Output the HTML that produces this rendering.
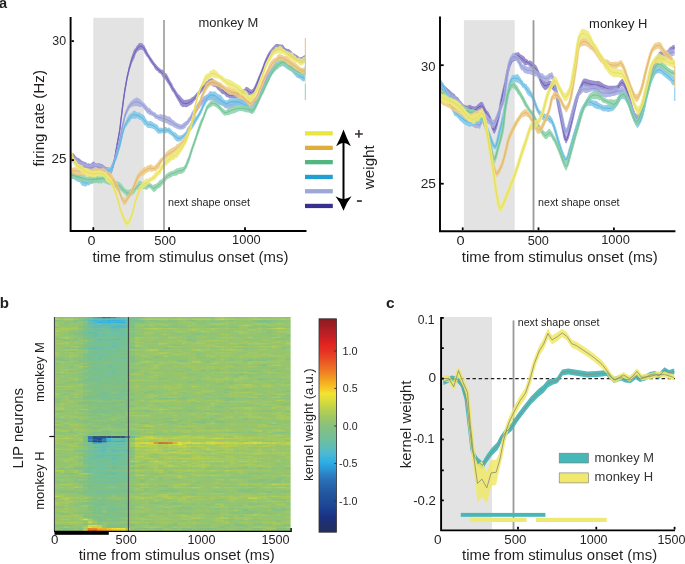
<!DOCTYPE html>
<html><head><meta charset="utf-8"><title>figure</title>
<style>html,body{margin:0;padding:0;background:#fff;width:685px;height:564px;overflow:hidden}svg{display:block;will-change:transform}text{font-family:"Liberation Sans",sans-serif}</style>
</head><body>
<svg width="685" height="564" viewBox="0 0 685 564" font-family="Liberation Sans, sans-serif" fill="#231f20">
<defs><linearGradient id="cb" x1="0" y1="0" x2="0" y2="1"><stop offset="0.000" stop-color="#8b1c22"/><stop offset="0.076" stop-color="#c01f25"/><stop offset="0.115" stop-color="#e0231f"/><stop offset="0.153" stop-color="#e63222"/><stop offset="0.198" stop-color="#ea5525"/><stop offset="0.243" stop-color="#ef7a22"/><stop offset="0.278" stop-color="#f29b20"/><stop offset="0.326" stop-color="#f7c825"/><stop offset="0.351" stop-color="#f2e431"/><stop offset="0.389" stop-color="#d6dc3c"/><stop offset="0.424" stop-color="#b8d04e"/><stop offset="0.462" stop-color="#9fc766"/><stop offset="0.500" stop-color="#88c27c"/><stop offset="0.528" stop-color="#7dc08a"/><stop offset="0.566" stop-color="#6fbf9e"/><stop offset="0.601" stop-color="#60bcb8"/><stop offset="0.639" stop-color="#46b8d6"/><stop offset="0.674" stop-color="#2aaee6"/><stop offset="0.712" stop-color="#2c8fd0"/><stop offset="0.747" stop-color="#2b74ba"/><stop offset="0.785" stop-color="#2764aa"/><stop offset="0.823" stop-color="#21559e"/><stop offset="0.858" stop-color="#1e4c98"/><stop offset="0.896" stop-color="#1c3e8f"/><stop offset="0.931" stop-color="#1b3180"/><stop offset="0.969" stop-color="#20306a"/><stop offset="1.000" stop-color="#242e60"/></linearGradient><clipPath id="clipAL"><rect x="71.5" y="10" width="234.5" height="220"/></clipPath><clipPath id="clipAR"><rect x="441" y="10" width="234.5" height="220"/></clipPath><clipPath id="clipC"><rect x="442" y="300" width="234" height="229.5"/></clipPath></defs>
<text x="-1" y="7.9" font-size="14.5" textLength="8.1" lengthAdjust="spacingAndGlyphs" font-weight="bold" >a</text>
<rect x="93.3" y="17.8" width="50.5" height="212.5" fill="#e3e3e3"/>
<g clip-path="url(#clipAL)">
<g opacity="0.88"><path d="M70.5,151.7 71.1,152.4 71.9,153.1 72.9,153.1 74,153.8 75.3,155.8 76.8,157.4 78.4,157.9 80,159.1 81.5,160.4 83.1,161.2 84.6,161.9 86,162.3 87.1,163.7 88.1,163.3 89,163.5 89.9,164.1 90.8,163.4 91.7,163 92.7,161.7 93.9,161.6 95.4,163.2 97.1,163.5 98.8,163.2 100.3,163.4 101.5,163.9 102.5,164.3 103.4,165.3 104.3,165.8 105.4,166.8 106.5,167.1 107.5,166.9 108.3,167.2 108.8,168.3 109,169.1 109.2,169.4 109.6,169.5 110.3,168.9 111.1,167.8 112,165.4 112.8,164.3 113.4,162.3 113.9,159.5 114.5,155.7 115,152.8 115.6,149.1 116.2,145.9 116.9,141.9 117.5,139.8 118.1,136.5 118.7,134.3 119.3,130.1 119.8,126.3 120.2,123.7 120.5,120.2 120.8,117.8 121.2,114.8 121.7,110.5 122.2,105.5 122.8,102 123.3,97.5 123.8,93.9 124.4,89.9 124.9,87.3 125.5,84 126,80.3 126.6,76.7 127.1,74.8 127.7,72.3 128.3,69 129,65.7 129.6,63.4 130.3,61 131,58.2 131.6,56.6 132.3,54.5 133,52 133.7,50.3 134.5,48.7 135.3,48.5 136,47.2 136.7,46.1 137.3,45 138,44.8 138.6,43.3 139.2,42.9 139.8,43.2 140.4,43 141,43.3 141.6,43.1 142.1,43.6 142.6,43.5 143.2,44.4 143.7,45.1 144.2,45.2 144.7,46.1 145.5,48 146.6,49.7 148,52.9 149.4,55 150.8,57.3 152.1,59.1 153.5,61.2 154.8,63 156.1,64.4 157.4,66.1 158.8,67.4 160.1,68.6 161.4,69.8 162.7,69.6 164,71.3 165.4,72.9 166.7,73.8 168,76.3 169.4,79.1 170.7,81.4 172.1,83.6 173.5,86.9 175,89 176.4,91.3 177.8,93.4 179.1,94.7 180.4,95.9 181.7,97.8 183,98.9 184.3,100.1 185.5,99.7 186.7,99.7 188,99.6 189.3,99 190.7,98.4 192.1,97.1 193.5,96.6 194.8,94.9 196.1,93.3 197.4,92.3 198.7,90.4 200,88 201.3,86.2 202.6,84.7 204,83.7 205.5,81.4 207.2,80.9 208.8,79.1 210,78.5 210.7,78.7 211.1,78.8 211.4,77.5 212.1,78.6 213.2,78.6 214.5,80.4 216,81.7 217.4,82 218.7,82.8 220.1,83.8 221.4,85.1 222.7,86 224,88.2 225.3,89.7 226.7,90.3 228,92 229.3,92.1 230.6,92.2 232,91.9 233.3,92.1 234.6,92.1 236,92.3 237.4,91.9 238.7,91.4 240.1,89.9 241.5,89.7 242.8,89.4 244,89.3 244.8,88.5 245.5,87.3 246.1,86.7 247,87 248.3,87.4 249.7,88.8 251.3,89.8 253,88.8 254.7,85.6 256.5,81.6 258.4,76.5 260.2,72.8 262,68 263.8,62.7 265.5,58.7 267.3,54.7 269.1,51.5 270.9,49.3 272.6,47.2 274.3,45.4 276,43.8 277.6,44 279.2,44.2 280.6,44.4 281.8,44.7 282.9,44.4 283.9,46.2 285,47.7 286.3,48.5 287.6,49.1 289,49 290.3,50.2 291.6,51.5 292.9,52.9 294.3,53.5 295.6,54.6 297,55.3 298.4,56.2 299.7,57.4 301,57.2 302.2,56.7 303.3,56.1 304.3,55.3 305,55.3 305,61 304.3,61.8 303.3,63 302.2,63.5 301,63.8 299.7,62.5 298.4,62.6 297,61.7 295.6,61 294.3,60 292.9,58.7 291.6,58.6 290.3,57.4 289,56.5 287.6,54.5 286.3,53.6 285,52.1 283.9,51.6 282.9,51.8 281.8,50 280.6,49.8 279.2,50.1 277.6,50.3 276,51.8 274.3,52.4 272.6,53.8 270.9,55.3 269.1,57.8 267.3,60.5 265.5,64.2 263.8,69.5 262,73.5 260.2,77.8 258.4,83.4 256.5,88 254.7,92.5 253,95.3 251.3,95.8 249.7,95.6 248.3,95.2 247,93.9 246.1,93.4 245.5,93.5 244.8,94.1 244,94.2 242.8,95.2 241.5,96.2 240.1,97.7 238.7,97.4 237.4,98.1 236,98.2 234.6,98.5 233.3,98.4 232,98.4 230.6,98.2 229.3,98.2 228,97.3 226.7,97.2 225.3,95.7 224,94.2 222.7,94.3 221.4,93.4 220.1,91.8 218.7,90.6 217.4,89.4 216,87.5 214.5,86.8 213.2,86.8 212.1,85.4 211.4,85.6 211.1,84.5 210.7,84.9 210,85.3 208.8,86.4 207.2,86.5 205.5,88.4 204,89.3 202.6,91.2 201.3,92.4 200,94.5 198.7,95.6 197.4,97.3 196.1,99.2 194.8,100.6 193.5,102.3 192.1,104.1 190.7,104.9 189.3,105.8 188,106.5 186.7,107.2 185.5,107.3 184.3,106.7 183,107.3 181.7,106.4 180.4,105.2 179.1,102.5 177.8,100.5 176.4,97.9 175,95.4 173.5,92.5 172.1,91.2 170.7,88.5 169.4,86 168,83.7 166.7,81.9 165.4,79.6 164,78.3 162.7,77.4 161.4,74.8 160.1,73.6 158.8,72.9 157.4,71 156.1,70.6 154.8,68.7 153.5,66.2 152.1,64.6 150.8,62.7 149.4,60.5 148,58 146.6,56.6 145.5,54.7 144.7,53.6 144.2,52.5 143.7,51.1 143.2,50.6 142.6,50.4 142.1,49.6 141.6,49.8 141,49.5 140.4,49.8 139.8,49.9 139.2,49.9 138.6,51 138,50.9 137.3,51.5 136.7,52.8 136,53.5 135.3,55.4 134.5,57.9 133.7,59.5 133,60.9 132.3,62.2 131.6,64 131,66.5 130.3,68.6 129.6,70.5 129,73 128.3,75.7 127.7,77.8 127.1,80.7 126.6,84.2 126,86.9 125.5,89.2 124.9,92.7 124.4,97.4 123.8,101.1 123.3,104.8 122.8,108.3 122.2,113.5 121.7,117.6 121.2,120.8 120.8,124.6 120.5,127.4 120.2,130 119.8,132.7 119.3,135.5 118.7,138.1 118.1,142.6 117.5,145.9 116.9,150.6 116.2,154.4 115.6,158.4 115,161.2 114.5,164 113.9,165.5 113.4,167.6 112.8,169.9 112,172.9 111.1,173.8 110.3,174.7 109.6,175.6 109.2,175.7 109,175.6 108.8,174.6 108.3,174.9 107.5,174.8 106.5,174 105.4,172.9 104.3,172.9 103.4,171.9 102.5,171 101.5,170.5 100.3,171 98.8,170.2 97.1,169.3 95.4,169.4 93.9,170 92.7,170.9 91.7,170.6 90.8,171.2 89.9,171.6 89,172.2 88.1,171.6 87.1,170.5 86,170.7 84.6,169.8 83.1,168.5 81.5,167.2 80,166.7 78.4,165.7 76.8,163.7 75.3,162.8 74,162.1 72.9,160.9 71.9,159.5 71.1,159 70.5,158.2Z" fill="#8c81c8"/><path d="M70.5,154.9 71.1,155.7 71.9,156.3 72.9,157 74,158 75.3,159.3 76.8,160.6 78.4,161.8 80,162.9 81.5,163.8 83.1,164.9 84.6,165.9 86,166.5 87.1,167.1 88.1,167.4 89,167.9 89.9,167.8 90.8,167.3 91.7,166.8 92.7,166.3 93.9,165.8 95.4,166.3 97.1,166.4 98.8,166.7 100.3,167.2 101.5,167.2 102.5,167.7 103.4,168.6 104.3,169.4 105.4,169.8 106.5,170.5 107.5,170.8 108.3,171 108.8,171.5 109,172.4 109.2,172.6 109.6,172.5 110.3,171.8 111.1,170.8 112,169.2 112.8,167.1 113.4,164.9 113.9,162.5 114.5,159.8 115,157 115.6,153.8 116.2,150.1 116.9,146.3 117.5,142.8 118.1,139.6 118.7,136.2 119.3,132.8 119.8,129.5 120.2,126.8 120.5,123.8 120.8,121.2 121.2,117.8 121.7,114.1 122.2,109.5 122.8,105.2 123.3,101.1 123.8,97.5 124.4,93.6 124.9,90 125.5,86.6 126,83.6 126.6,80.5 127.1,77.7 127.7,75 128.3,72.4 129,69.3 129.6,66.9 130.3,64.8 131,62.4 131.6,60.3 132.3,58.3 133,56.5 133.7,54.9 134.5,53.3 135.3,52 136,50.3 136.7,49.4 137.3,48.2 138,47.9 138.6,47.2 139.2,46.4 139.8,46.5 140.4,46.4 141,46.4 141.6,46.4 142.1,46.6 142.6,46.9 143.2,47.5 143.7,48.1 144.2,48.8 144.7,49.9 145.5,51.3 146.6,53.2 148,55.5 149.4,57.7 150.8,60 152.1,61.9 153.5,63.7 154.8,65.8 156.1,67.5 157.4,68.5 158.8,70.2 160.1,71.1 161.4,72.3 162.7,73.5 164,74.8 165.4,76.2 166.7,77.8 168,80 169.4,82.6 170.7,85 172.1,87.4 173.5,89.7 175,92.2 176.4,94.6 177.8,97 179.1,98.6 180.4,100.5 181.7,102.1 183,103.1 184.3,103.4 185.5,103.5 186.7,103.5 188,103.1 189.3,102.4 190.7,101.6 192.1,100.6 193.5,99.4 194.8,97.7 196.1,96.2 197.4,94.8 198.7,93 200,91.3 201.3,89.3 202.6,87.9 204,86.5 205.5,84.9 207.2,83.7 208.8,82.7 210,81.9 210.7,81.8 211.1,81.7 211.4,81.6 212.1,82 213.2,82.7 214.5,83.6 216,84.6 217.4,85.7 218.7,86.7 220.1,87.8 221.4,89.3 222.7,90.1 224,91.2 225.3,92.7 226.7,93.7 228,94.6 229.3,95.1 230.6,95.2 232,95.1 233.3,95.2 234.6,95.3 236,95.3 237.4,95 238.7,94.4 240.1,93.8 241.5,93 242.8,92.3 244,91.7 244.8,91.3 245.5,90.4 246.1,90.1 247,90.4 248.3,91.3 249.7,92.2 251.3,92.8 253,92 254.7,89.1 256.5,84.8 258.4,80 260.2,75.3 262,70.7 263.8,66.1 265.5,61.4 267.3,57.6 269.1,54.6 270.9,52.3 272.6,50.5 274.3,48.9 276,47.8 277.6,47.2 279.2,47.1 280.6,47.1 281.8,47.4 282.9,48.1 283.9,48.9 285,49.9 286.3,51 287.6,51.8 289,52.7 290.3,53.8 291.6,55.1 292.9,55.8 294.3,56.8 295.6,57.8 297,58.5 298.4,59.4 299.7,60 301,60.5 302.2,60.1 303.3,59.5 304.3,58.6 305,58.1" fill="none" stroke="#8c81c8" stroke-width="1.5" stroke-linejoin="round"/></g>
<path d="M70.5,154.9 71.1,155.7 71.9,156.3 72.9,157 74,158 75.3,159.3 76.8,160.6 78.4,161.8 80,162.9 81.5,163.8 83.1,164.9 84.6,165.9 86,166.5 87.1,167.1 88.1,167.4 89,167.9 89.9,167.8 90.8,167.3 91.7,166.8 92.7,166.3 93.9,165.8 95.4,166.3 97.1,166.4 98.8,166.7 100.3,167.2 101.5,167.2 102.5,167.7 103.4,168.6 104.3,169.4 105.4,169.8 106.5,170.5 107.5,170.8 108.3,171 108.8,171.5 109,172.4 109.2,172.6 109.6,172.5 110.3,171.8 111.1,170.8 112,169.2 112.8,167.1 113.4,164.9 113.9,162.5 114.5,159.8 115,157 115.6,153.8 116.2,150.1 116.9,146.3 117.5,142.8 118.1,139.6 118.7,136.2 119.3,132.8 119.8,129.5 120.2,126.8 120.5,123.8 120.8,121.2 121.2,117.8 121.7,114.1 122.2,109.5 122.8,105.2 123.3,101.1 123.8,97.5 124.4,93.6 124.9,90 125.5,86.6 126,83.6 126.6,80.5 127.1,77.7 127.7,75 128.3,72.4 129,69.3 129.6,66.9 130.3,64.8 131,62.4 131.6,60.3 132.3,58.3 133,56.5 133.7,54.9 134.5,53.3 135.3,52 136,50.3 136.7,49.4 137.3,48.2 138,47.9 138.6,47.2 139.2,46.4 139.8,46.5 140.4,46.4 141,46.4 141.6,46.4 142.1,46.6 142.6,46.9 143.2,47.5 143.7,48.1 144.2,48.8 144.7,49.9 145.5,51.3 146.6,53.2 148,55.5 149.4,57.7 150.8,60 152.1,61.9 153.5,63.7 154.8,65.8 156.1,67.5 157.4,68.5 158.8,70.2 160.1,71.1 161.4,72.3 162.7,73.5 164,74.8 165.4,76.2 166.7,77.8 168,80 169.4,82.6 170.7,85 172.1,87.4 173.5,89.7 175,92.2 176.4,94.6 177.8,97 179.1,98.6 180.4,100.5 181.7,102.1 183,103.1 184.3,103.4 185.5,103.5 186.7,103.5 188,103.1 189.3,102.4 190.7,101.6 192.1,100.6 193.5,99.4 194.8,97.7 196.1,96.2 197.4,94.8 198.7,93 200,91.3 201.3,89.3 202.6,87.9 204,86.5 205.5,84.9 207.2,83.7 208.8,82.7 210,81.9 210.7,81.8 211.1,81.7 211.4,81.6 212.1,82 213.2,82.7 214.5,83.6 216,84.6 217.4,85.7 218.7,86.7 220.1,87.8 221.4,89.3 222.7,90.1 224,91.2 225.3,92.7 226.7,93.7 228,94.6 229.3,95.1 230.6,95.2 232,95.1 233.3,95.2 234.6,95.3 236,95.3 237.4,95 238.7,94.4 240.1,93.8 241.5,93 242.8,92.3 244,91.7 244.8,91.3 245.5,90.4 246.1,90.1 247,90.4 248.3,91.3 249.7,92.2 251.3,92.8 253,92 254.7,89.1 256.5,84.8 258.4,80 260.2,75.3 262,70.7 263.8,66.1 265.5,61.4 267.3,57.6 269.1,54.6 270.9,52.3 272.6,50.5 274.3,48.9 276,47.8 277.6,47.2 279.2,47.1 280.6,47.1 281.8,47.4 282.9,48.1 283.9,48.9 285,49.9 286.3,51 287.6,51.8 289,52.7 290.3,53.8 291.6,55.1 292.9,55.8 294.3,56.8 295.6,57.8 297,58.5 298.4,59.4 299.7,60 301,60.5 302.2,60.1 303.3,59.5 304.3,58.6 305,58.1" fill="none" stroke="#6353b2" stroke-width="0.8"/>
<g opacity="0.88"><path d="M70.5,153.6 71.1,154.5 71.9,155.3 72.9,156.5 74,156.9 75.3,157.7 76.8,159.1 78.4,160.6 80,161.5 81.5,162.1 83.1,162.3 84.6,163.3 86,164.1 87.1,164 88.1,164.8 89,164.7 89.9,164.7 90.8,163.4 91.7,163.2 92.7,163.6 93.9,163 95.4,163.2 97.1,163.7 98.8,163.9 100.3,164.2 101.5,164.5 102.5,165.7 103.4,165.4 104.3,165.9 105.4,167.9 106.5,167 107.5,167 108.3,167.3 108.7,168.3 108.9,169.1 109.1,169 109.6,168.3 110.6,167 111.8,163.7 113.1,160.9 114.4,157.2 115.6,153 116.9,148.1 118.1,143.6 119.2,138.6 120.1,135.8 120.9,131.7 121.6,127.2 122.4,123.3 123.2,119.9 124,116.4 124.7,113.4 125.6,110.9 126.5,109 127.6,105.7 128.6,104.4 129.6,102.8 130.6,101.7 131.5,100.5 132.5,100.3 133.5,98.7 134.6,99 135.8,97.4 137.1,97.6 138.3,98.1 139.5,98.9 140.7,99.6 141.9,101.5 143.1,102.1 144.4,102.9 145.7,104.8 146.9,105.9 147.9,107.5 148.5,108.3 148.8,107.8 149.2,107.5 150,108.4 151.4,110 153.2,111.7 155.2,112.6 157.1,114.5 158.9,114.7 160.6,114.1 162.4,114.7 164.2,114.5 166,115.6 167.9,116.5 169.7,116.6 171.3,118.5 172.6,119.7 173.8,120.2 174.9,121.5 176,122.2 177.2,122.9 178.4,123.5 179.6,124 180.8,124.6 182,123.9 183.3,122.9 184.5,122.1 185.6,121.3 186.6,120.8 187.5,119.5 188.5,117.6 189.5,117.2 190.5,114.9 191.6,112.5 192.8,110.6 194.3,108.7 196.3,105.2 198.6,101.7 201,99.1 203.2,96.6 205.1,95.4 206.9,94.6 208.6,94.5 210.3,93.7 212.1,93.6 213.9,94.7 215.6,95.8 217.4,96.4 219.2,96.9 221.1,99 222.9,100.2 224.5,101.2 225.9,101.9 227.1,102.2 228.4,102.4 229.8,101.6 231.4,101.3 233.2,100.5 235.1,100.2 236.9,99.4 238.7,97.7 240.5,96.8 242.3,96.7 244,96.6 245.5,97 247,97.6 248.4,99.3 250,99.5 251.8,99.1 253.7,98.8 255.7,99.3 257.5,96.9 259.1,93.6 260.6,90.8 262.1,85.7 263.7,81.4 265.4,78 267.2,73.3 269,70.1 270.8,67.5 272.6,65.4 274.5,62.4 276.3,59.6 277.9,58.2 279.3,56.7 280.6,57.1 281.8,57.8 283.2,57.8 284.9,58.6 286.8,59.6 288.6,61.7 290.3,62.9 291.7,63.5 293,64.5 294.2,65.6 295.6,67.1 297.4,67.5 299.3,69 301.2,70.9 302.7,71.8 303.7,71.7 304.3,72.2 304.7,72.9 305,72.5 305,79.2 304.7,78.8 304.3,79.3 303.7,80.1 302.7,78.4 301.2,78 299.3,78 297.4,76.7 295.6,75.1 294.2,74.1 293,72.3 291.7,70.9 290.3,69.4 288.6,68 286.8,66.5 284.9,66.3 283.2,64.7 281.8,63.3 280.6,64.5 279.3,65.3 277.9,65.4 276.3,67 274.5,68.4 272.6,70.9 270.8,75.1 269,78.1 267.2,81.6 265.4,84.6 263.7,88.4 262.1,92.1 260.6,96.1 259.1,100.9 257.5,103.1 255.7,104.6 253.7,106.7 251.8,106.8 250,106.5 248.4,106.1 247,105.9 245.5,104.6 244,104.1 242.3,104.1 240.5,104.9 238.7,105.7 236.9,105.4 235.1,106.6 233.2,107.7 231.4,108.3 229.8,108.7 228.4,108.2 227.1,108.6 225.9,108.4 224.5,107.7 222.9,106.1 221.1,105.2 219.2,104.5 217.4,103.6 215.6,102.5 213.9,101.4 212.1,100.3 210.3,100.4 208.6,100.3 206.9,101.7 205.1,102.2 203.2,104.3 201,105.9 198.6,109.8 196.3,112.3 194.3,115.3 192.8,117.3 191.6,119.7 190.5,120.9 189.5,122.7 188.5,124.3 187.5,125.2 186.6,125.7 185.6,127.8 184.5,128.5 183.3,129.3 182,129.8 180.8,129.6 179.6,129.8 178.4,129.3 177.2,128.7 176,128.4 174.9,127.6 173.8,127.5 172.6,126.3 171.3,125.7 169.7,125.4 167.9,123.9 166,123.1 164.2,122.5 162.4,122.1 160.6,121.1 158.9,120.4 157.1,118.9 155.2,118.7 153.2,116.3 151.4,115.6 150,115 149.2,115 148.8,114.2 148.5,113.8 147.9,113.9 146.9,113 145.7,111.3 144.4,109.8 143.1,108.2 141.9,106.7 140.7,107 139.5,106.9 138.3,106.6 137.1,106.1 135.8,106.5 134.6,105.7 133.5,106.6 132.5,106.5 131.5,107.3 130.6,107.8 129.6,108.6 128.6,110.6 127.6,112.7 126.5,114.4 125.6,117.1 124.7,120 124,123.2 123.2,126.6 122.4,130 121.6,133.4 120.9,137.2 120.1,141.2 119.2,146.5 118.1,150.9 116.9,155.9 115.6,159.5 114.4,163.1 113.1,166.5 111.8,170 110.6,172.1 109.6,174.6 109.1,175.5 108.9,175.2 108.7,175.3 108.3,175.2 107.5,175.2 106.5,174.5 105.4,173.4 104.3,173.9 103.4,173.3 102.5,171.9 101.5,171.5 100.3,170.9 98.8,170.6 97.1,170.3 95.4,170.7 93.9,171.1 92.7,170.6 91.7,171.7 90.8,172.2 89.9,171.4 89,171.3 88.1,171.3 87.1,171.9 86,171.7 84.6,171.5 83.1,170.9 81.5,169.6 80,168.3 78.4,167.1 76.8,166.5 75.3,164.6 74,163.9 72.9,162.6 71.9,162.5 71.1,161 70.5,160.3Z" fill="#a8aee0"/><path d="M70.5,156.9 71.1,157.7 71.9,158.9 72.9,159.5 74,160.4 75.3,161.2 76.8,162.8 78.4,163.9 80,164.9 81.5,165.8 83.1,166.6 84.6,167.4 86,167.9 87.1,168 88.1,168 89,168 89.9,168 90.8,167.8 91.7,167.5 92.7,167.1 93.9,167.1 95.4,167 97.1,167 98.8,167.3 100.3,167.6 101.5,168 102.5,168.8 103.4,169.3 104.3,169.9 105.4,170.6 106.5,170.8 107.5,171.1 108.3,171.2 108.7,171.8 108.9,172.2 109.1,172.3 109.6,171.4 110.6,169.5 111.8,166.8 113.1,163.7 114.4,160.1 115.6,156.2 116.9,152 118.1,147.2 119.2,142.5 120.1,138.5 120.9,134.4 121.6,130.3 122.4,126.7 123.2,123.3 124,119.8 124.7,116.7 125.6,114 126.5,111.7 127.6,109.2 128.6,107.5 129.6,105.7 130.6,104.8 131.5,103.9 132.5,103.4 133.5,102.7 134.6,102.3 135.8,101.9 137.1,101.9 138.3,102.3 139.5,102.9 140.7,103.3 141.9,104.1 143.1,105.1 144.4,106.4 145.7,108.1 146.9,109.5 147.9,110.7 148.5,111 148.8,111 149.2,111.3 150,111.7 151.4,112.8 153.2,114 155.2,115.6 157.1,116.7 158.9,117.6 160.6,117.6 162.4,118.4 164.2,118.5 166,119.3 167.9,120.2 169.7,121 171.3,122.1 172.6,123 173.8,123.9 174.9,124.5 176,125.3 177.2,125.8 178.4,126.4 179.6,126.9 180.8,127.1 182,126.9 183.3,126.1 184.5,125.3 185.6,124.6 186.6,123.2 187.5,122.3 188.5,121 189.5,119.9 190.5,117.9 191.6,116.1 192.8,113.9 194.3,112 196.3,108.7 198.6,105.8 201,102.5 203.2,100.4 205.1,98.8 206.9,98.2 208.6,97.4 210.3,97.1 212.1,96.9 213.9,98.1 215.6,99.1 217.4,100 219.2,100.7 221.1,102.1 222.9,103.1 224.5,104.5 225.9,105.1 227.1,105.4 228.4,105.3 229.8,105.2 231.4,104.8 233.2,104.1 235.1,103.4 236.9,102.4 238.7,101.7 240.5,100.9 242.3,100.4 244,100.4 245.5,100.8 247,101.8 248.4,102.7 250,103 251.8,103 253.7,102.7 255.7,101.9 257.5,100 259.1,97.2 260.6,93.5 262.1,88.9 263.7,84.9 265.4,81.3 267.2,77.5 269,74.1 270.8,71.3 272.6,68.2 274.5,65.4 276.3,63.3 277.9,61.8 279.3,61 280.6,60.8 281.8,60.6 283.2,61.3 284.9,62.4 286.8,63.1 288.6,64.9 290.3,66.2 291.7,67.2 293,68.4 294.2,69.8 295.6,71.1 297.4,72.1 299.3,73.5 301.2,74.4 302.7,75.1 303.7,75.9 304.3,75.8 304.7,75.8 305,75.8" fill="none" stroke="#a8aee0" stroke-width="1.5" stroke-linejoin="round"/></g>
<path d="M70.5,156.9 71.1,157.7 71.9,158.9 72.9,159.5 74,160.4 75.3,161.2 76.8,162.8 78.4,163.9 80,164.9 81.5,165.8 83.1,166.6 84.6,167.4 86,167.9 87.1,168 88.1,168 89,168 89.9,168 90.8,167.8 91.7,167.5 92.7,167.1 93.9,167.1 95.4,167 97.1,167 98.8,167.3 100.3,167.6 101.5,168 102.5,168.8 103.4,169.3 104.3,169.9 105.4,170.6 106.5,170.8 107.5,171.1 108.3,171.2 108.7,171.8 108.9,172.2 109.1,172.3 109.6,171.4 110.6,169.5 111.8,166.8 113.1,163.7 114.4,160.1 115.6,156.2 116.9,152 118.1,147.2 119.2,142.5 120.1,138.5 120.9,134.4 121.6,130.3 122.4,126.7 123.2,123.3 124,119.8 124.7,116.7 125.6,114 126.5,111.7 127.6,109.2 128.6,107.5 129.6,105.7 130.6,104.8 131.5,103.9 132.5,103.4 133.5,102.7 134.6,102.3 135.8,101.9 137.1,101.9 138.3,102.3 139.5,102.9 140.7,103.3 141.9,104.1 143.1,105.1 144.4,106.4 145.7,108.1 146.9,109.5 147.9,110.7 148.5,111 148.8,111 149.2,111.3 150,111.7 151.4,112.8 153.2,114 155.2,115.6 157.1,116.7 158.9,117.6 160.6,117.6 162.4,118.4 164.2,118.5 166,119.3 167.9,120.2 169.7,121 171.3,122.1 172.6,123 173.8,123.9 174.9,124.5 176,125.3 177.2,125.8 178.4,126.4 179.6,126.9 180.8,127.1 182,126.9 183.3,126.1 184.5,125.3 185.6,124.6 186.6,123.2 187.5,122.3 188.5,121 189.5,119.9 190.5,117.9 191.6,116.1 192.8,113.9 194.3,112 196.3,108.7 198.6,105.8 201,102.5 203.2,100.4 205.1,98.8 206.9,98.2 208.6,97.4 210.3,97.1 212.1,96.9 213.9,98.1 215.6,99.1 217.4,100 219.2,100.7 221.1,102.1 222.9,103.1 224.5,104.5 225.9,105.1 227.1,105.4 228.4,105.3 229.8,105.2 231.4,104.8 233.2,104.1 235.1,103.4 236.9,102.4 238.7,101.7 240.5,100.9 242.3,100.4 244,100.4 245.5,100.8 247,101.8 248.4,102.7 250,103 251.8,103 253.7,102.7 255.7,101.9 257.5,100 259.1,97.2 260.6,93.5 262.1,88.9 263.7,84.9 265.4,81.3 267.2,77.5 269,74.1 270.8,71.3 272.6,68.2 274.5,65.4 276.3,63.3 277.9,61.8 279.3,61 280.6,60.8 281.8,60.6 283.2,61.3 284.9,62.4 286.8,63.1 288.6,64.9 290.3,66.2 291.7,67.2 293,68.4 294.2,69.8 295.6,71.1 297.4,72.1 299.3,73.5 301.2,74.4 302.7,75.1 303.7,75.9 304.3,75.8 304.7,75.8 305,75.8" fill="none" stroke="#8a91d2" stroke-width="0.8"/>
<g opacity="0.88"><path d="M70.5,173 70.9,173.9 71.6,172.8 72.3,173.5 73.2,173.4 74.3,173.3 75.5,173.6 76.8,174.1 78,174.9 79.2,175.8 80.5,176.4 81.7,177 82.8,177.5 83.8,179.1 84.8,178.7 85.7,179.2 86.7,180.3 87.7,180.2 88.7,179.2 89.8,179 90.7,179.2 91.5,178.8 92.2,177.2 92.9,177 93.9,176.9 95.3,176.2 97,175.8 98.6,175.5 100.1,175 101.2,173.7 102.2,172.6 103.1,172.2 104,171.6 104.9,171.1 105.7,169.5 106.6,169 107.5,167.1 108.5,167.7 109.5,167.3 110.5,166.9 111.5,166.1 112.4,164.8 113.2,163 114,160.7 114.7,159.3 115.3,157.1 115.9,156.3 116.4,153.2 117,151 117.7,149.1 118.4,146.4 119.2,143.6 120,139.9 120.9,136.7 121.9,132.5 122.9,128.1 124,124.7 125.1,122.1 126.4,119.5 127.6,116.7 128.8,114.9 130,113.4 131.2,113.3 132.3,112.2 133.5,110.6 134.7,110.8 135.9,111.4 137.1,112.6 138.3,112.5 139.5,112.2 140.7,113.4 141.9,114.3 143.1,114.6 144.3,115.6 145.6,118.3 146.8,120 147.9,120.9 148.7,121.6 149.3,121.1 149.9,120.7 150.8,121 152.2,121.8 154,123 155.7,124 157.1,124.4 158,125.4 158.5,126.4 159.1,128 160,127.6 161.4,127.7 163.1,127.9 164.8,126.9 166.4,126.9 167.7,128.2 168.9,127.3 170.1,128.2 171.2,129.5 172.3,130.7 173.2,131.8 174.2,132 175.2,132.6 176.2,133 177.1,134.1 178.1,135.3 179.2,135.5 180.4,135.4 181.6,134.9 182.8,134.5 184,132.9 185,132.4 186,131.3 186.9,128.4 188,127 189.2,125.6 190.6,123.8 192,121.3 193.5,118.9 195,116.9 196.6,115.7 198.3,113 199.9,110.1 201.6,106.2 203.4,102.4 205.1,98.2 206.7,95.2 208.1,93.4 209.4,91.6 210.7,91.1 212.1,91.8 213.7,91.4 215.5,91.4 217.3,93.5 219.1,94.6 220.9,95.1 222.8,98.1 224.7,99.8 226.2,100.4 227.3,99.9 228,99.9 228.8,98.9 230,98.3 231.9,98.7 234.1,98.1 236.6,97.7 238.9,98.8 241.2,99.5 243.6,100.2 245.8,102.4 247.7,102.3 249.1,104.1 250.2,105.9 251.1,106 252.2,106.5 253.4,106.6 254.7,103.7 256.1,101.3 257.5,99.2 259,96.3 260.5,92.7 262.1,88.7 263.7,85.4 265.4,81.8 267.2,77.5 269,73.8 270.8,69.9 272.6,67 274.5,64.3 276.3,61.9 277.9,60.2 279.3,59.4 280.6,59.8 281.8,60.1 283.2,59.5 284.9,60.6 286.8,61.8 288.6,62.9 290.3,64.3 291.7,65.7 293,66.9 294.2,68.4 295.6,69.4 297.4,70.5 299.3,72.2 301.2,73.4 302.7,73.5 303.7,74.3 304.3,75.4 304.7,75.2 305,74.5 305,81.6 304.7,81.1 304.3,80.9 303.7,81.2 302.7,81.5 301.2,79.9 299.3,78.6 297.4,77.9 295.6,76.2 294.2,74.5 293,73.3 291.7,72.1 290.3,70.7 288.6,70.1 286.8,69.1 284.9,67.3 283.2,66.5 281.8,65.2 280.6,65.7 279.3,66.6 277.9,67.2 276.3,69 274.5,71.4 272.6,74.2 270.8,77.3 269,80.4 267.2,83.9 265.4,87.2 263.7,90.9 262.1,94.4 260.5,97.9 259,101.7 257.5,105.3 256.1,107.8 254.7,110.2 253.4,111.3 252.2,113.2 251.1,113.9 250.2,112.4 249.1,111.6 247.7,110.5 245.8,108 243.6,108.8 241.2,106.6 238.9,105.5 236.6,106.3 234.1,105.5 231.9,104.3 230,105.3 228.8,106.2 228,106.6 227.3,107.3 226.2,107.5 224.7,105.7 222.8,105.9 220.9,104.9 219.1,103.7 217.3,101.9 215.5,100.8 213.7,98.6 212.1,98.2 210.7,99.1 209.4,99.6 208.1,100.6 206.7,102.5 205.1,105.5 203.4,108.4 201.6,113.3 199.9,115.9 198.3,119.2 196.6,121.5 195,124.7 193.5,127 192,129.2 190.6,130.7 189.2,132.9 188,134.1 186.9,135.8 186,135.4 185,136.9 184,138.8 182.8,138.8 181.6,140.4 180.4,141 179.2,141.6 178.1,141.4 177.1,141.8 176.2,141.1 175.2,139.9 174.2,138.8 173.2,137.6 172.3,135.9 171.2,135.5 170.1,134.4 168.9,133.9 167.7,132.5 166.4,133.2 164.8,133.4 163.1,133 161.4,133.3 160,133.8 159.1,133.2 158.5,133.9 158,133.6 157.1,132.5 155.7,131 154,129.2 152.2,128.6 150.8,128.3 149.9,128.1 149.3,128 148.7,127.8 147.9,128.2 146.8,126.9 145.6,125.5 144.3,125.2 143.1,122.8 141.9,121.3 140.7,119.9 139.5,119.7 138.3,119 137.1,118.1 135.9,118.7 134.7,118.7 133.5,118.8 132.3,118.8 131.2,119.2 130,121.7 128.8,122.7 127.6,124.7 126.4,126.5 125.1,128.4 124,131.8 122.9,135.7 121.9,140.2 120.9,145 120,148.8 119.2,151 118.4,153.8 117.7,155.6 117,158.7 116.4,160.3 115.9,160 115.3,161.8 114.7,163.2 114,166.1 113.2,168.4 112.4,170.7 111.5,172.4 110.5,173.4 109.5,173.9 108.5,173.6 107.5,175 106.6,174.9 105.7,176.7 104.9,177.4 104,178.2 103.1,179.2 102.2,180.6 101.2,180.6 100.1,180.9 98.6,181.6 97,182 95.3,183.2 93.9,182.9 92.9,183.6 92.2,184.1 91.5,183.7 90.7,183.9 89.8,184.9 88.7,185.4 87.7,185.3 86.7,185.7 85.7,186.8 84.8,186.8 83.8,185.7 82.8,186.2 81.7,185.3 80.5,183.4 79.2,182 78,182 76.8,181.3 75.5,180.6 74.3,179.4 73.2,179 72.3,179 71.6,179 70.9,178.4 70.5,179.5Z" fill="#82c8e8"/><path d="M70.5,176.2 70.9,176.2 71.6,175.9 72.3,176.3 73.2,176.2 74.3,176.4 75.5,177.1 76.8,177.7 78,178.5 79.2,178.9 80.5,179.9 81.7,181.2 82.8,181.8 83.8,182.4 84.8,182.8 85.7,183 86.7,183 87.7,182.8 88.7,182.3 89.8,181.9 90.7,181.6 91.5,181.2 92.2,180.7 92.9,180.3 93.9,179.9 95.3,179.7 97,178.9 98.6,178.6 100.1,178 101.2,177.1 102.2,176.6 103.1,175.7 104,174.9 104.9,174.3 105.7,173.1 106.6,171.9 107.5,171 108.5,170.7 109.5,170.6 110.5,170.1 111.5,169.2 112.4,167.7 113.2,165.7 114,163.4 114.7,161.3 115.3,159.4 115.9,158.2 116.4,156.8 117,154.9 117.7,152.3 118.4,150.1 119.2,147.3 120,144.4 120.9,140.9 121.9,136.4 122.9,131.9 124,128.2 125.1,125.2 126.4,123 127.6,120.7 128.8,118.8 130,117.6 131.2,116.2 132.3,115.5 133.5,114.7 134.7,114.8 135.9,115 137.1,115.3 138.3,115.7 139.5,116 140.7,116.6 141.9,117.8 143.1,118.7 144.3,120.4 145.6,121.9 146.8,123.5 147.9,124.6 148.7,124.7 149.3,124.5 149.9,124.4 150.8,124.6 152.2,125.2 154,126.1 155.7,127.5 157.1,128.5 158,129.5 158.5,130.2 159.1,130.6 160,130.7 161.4,130.5 163.1,130.4 164.8,130.2 166.4,130 167.7,130.3 168.9,130.6 170.1,131.3 171.2,132.5 172.3,133.3 173.2,134.7 174.2,135.4 175.2,136.3 176.2,137 177.1,137.9 178.1,138.3 179.2,138.6 180.4,138.2 181.6,137.7 182.8,136.7 184,135.8 185,134.6 186,133.3 186.9,132.1 188,130.6 189.2,129.2 190.6,127.3 192,125.2 193.5,123 195,120.8 196.6,118.6 198.3,116.1 199.9,113 201.6,109.8 203.4,105.4 205.1,101.9 206.7,98.8 208.1,97 209.4,95.6 210.7,95.1 212.1,95 213.7,95 215.5,96.1 217.3,97.7 219.1,99.1 220.9,100 222.8,102 224.7,102.7 226.2,104 227.3,103.6 228,103.2 228.8,102.5 230,101.8 231.9,101.5 234.1,101.8 236.6,102 238.9,102.1 241.2,103.1 243.6,104.5 245.8,105.2 247.7,106.4 249.1,107.8 250.2,109.1 251.1,110 252.2,109.8 253.4,108.9 254.7,106.9 256.1,104.5 257.5,102.2 259,99 260.5,95.3 262.1,91.5 263.7,88.2 265.4,84.5 267.2,80.7 269,77.1 270.8,73.6 272.6,70.6 274.5,67.8 276.3,65.4 277.9,63.7 279.3,63 280.6,62.7 281.8,62.7 283.2,63 284.9,64 286.8,65.4 288.6,66.5 290.3,67.5 291.7,68.9 293,70.1 294.2,71.4 295.6,72.8 297.4,74.2 299.3,75.4 301.2,76.7 302.7,77.5 303.7,77.8 304.3,78.1 304.7,78.1 305,78.1" fill="none" stroke="#82c8e8" stroke-width="1.5" stroke-linejoin="round"/></g>
<path d="M70.5,176.2 70.9,176.2 71.6,175.9 72.3,176.3 73.2,176.2 74.3,176.4 75.5,177.1 76.8,177.7 78,178.5 79.2,178.9 80.5,179.9 81.7,181.2 82.8,181.8 83.8,182.4 84.8,182.8 85.7,183 86.7,183 87.7,182.8 88.7,182.3 89.8,181.9 90.7,181.6 91.5,181.2 92.2,180.7 92.9,180.3 93.9,179.9 95.3,179.7 97,178.9 98.6,178.6 100.1,178 101.2,177.1 102.2,176.6 103.1,175.7 104,174.9 104.9,174.3 105.7,173.1 106.6,171.9 107.5,171 108.5,170.7 109.5,170.6 110.5,170.1 111.5,169.2 112.4,167.7 113.2,165.7 114,163.4 114.7,161.3 115.3,159.4 115.9,158.2 116.4,156.8 117,154.9 117.7,152.3 118.4,150.1 119.2,147.3 120,144.4 120.9,140.9 121.9,136.4 122.9,131.9 124,128.2 125.1,125.2 126.4,123 127.6,120.7 128.8,118.8 130,117.6 131.2,116.2 132.3,115.5 133.5,114.7 134.7,114.8 135.9,115 137.1,115.3 138.3,115.7 139.5,116 140.7,116.6 141.9,117.8 143.1,118.7 144.3,120.4 145.6,121.9 146.8,123.5 147.9,124.6 148.7,124.7 149.3,124.5 149.9,124.4 150.8,124.6 152.2,125.2 154,126.1 155.7,127.5 157.1,128.5 158,129.5 158.5,130.2 159.1,130.6 160,130.7 161.4,130.5 163.1,130.4 164.8,130.2 166.4,130 167.7,130.3 168.9,130.6 170.1,131.3 171.2,132.5 172.3,133.3 173.2,134.7 174.2,135.4 175.2,136.3 176.2,137 177.1,137.9 178.1,138.3 179.2,138.6 180.4,138.2 181.6,137.7 182.8,136.7 184,135.8 185,134.6 186,133.3 186.9,132.1 188,130.6 189.2,129.2 190.6,127.3 192,125.2 193.5,123 195,120.8 196.6,118.6 198.3,116.1 199.9,113 201.6,109.8 203.4,105.4 205.1,101.9 206.7,98.8 208.1,97 209.4,95.6 210.7,95.1 212.1,95 213.7,95 215.5,96.1 217.3,97.7 219.1,99.1 220.9,100 222.8,102 224.7,102.7 226.2,104 227.3,103.6 228,103.2 228.8,102.5 230,101.8 231.9,101.5 234.1,101.8 236.6,102 238.9,102.1 241.2,103.1 243.6,104.5 245.8,105.2 247.7,106.4 249.1,107.8 250.2,109.1 251.1,110 252.2,109.8 253.4,108.9 254.7,106.9 256.1,104.5 257.5,102.2 259,99 260.5,95.3 262.1,91.5 263.7,88.2 265.4,84.5 267.2,80.7 269,77.1 270.8,73.6 272.6,70.6 274.5,67.8 276.3,65.4 277.9,63.7 279.3,63 280.6,62.7 281.8,62.7 283.2,63 284.9,64 286.8,65.4 288.6,66.5 290.3,67.5 291.7,68.9 293,70.1 294.2,71.4 295.6,72.8 297.4,74.2 299.3,75.4 301.2,76.7 302.7,77.5 303.7,77.8 304.3,78.1 304.7,78.1 305,78.1" fill="none" stroke="#4cafdf" stroke-width="0.8"/>
<g opacity="0.88"><path d="M70.5,171.4 70.9,171.3 71.6,171.4 72.3,171.3 73.2,172.2 74.2,172.4 75.4,172.9 76.6,173.6 78,173.9 79.5,173.5 81.2,173.8 82.8,174.9 84.4,174.7 85.8,176.2 87.2,176.5 88.5,176 89.9,175.2 91.3,175.7 92.6,175.3 94,175.5 95.5,175.7 97.1,175.2 98.8,174.3 100.5,174.1 101.9,173.7 103.1,174.8 104.1,175.3 105,175.7 105.9,176.2 106.9,176.4 107.9,177.2 108.8,177.7 109.9,179 111,178.6 112.2,179.1 113.4,180.1 114.7,180.8 116,181.1 117.2,181.4 118.6,181.6 120,182.8 121.6,184 123.3,186.4 125.1,188.7 126.7,189.4 128.1,189.9 129.5,189.4 130.8,189.1 132.1,188.4 133.5,186.3 134.9,185.7 136.3,185 137.4,183.5 138.2,182 138.7,180.9 139.2,180.6 140,180.8 141.2,181.4 142.5,181.7 144,183 145.3,183 146.4,182.3 147.5,182.6 148.6,182.8 149.6,182.6 150.7,183.6 151.7,184 152.7,185.2 153.8,184.4 154.9,184.3 156,183.8 157,183.2 158.1,182.3 159.2,180.5 160.2,180.1 161.2,179.4 162.3,178.6 163.3,177.5 164.4,176.5 165.5,174.8 166.6,173.8 167.9,173 169.2,172 170.6,171.4 171.9,170.7 173.1,171 174.1,170.1 175.2,169.4 176.2,168.6 177.2,168.2 178.1,168.2 179,168 180,167.3 181,167.5 182,167 183,167.1 184,166.2 185,164.7 186,162.8 187,159.2 188,157.4 189,154.8 189.9,151.7 190.9,148.8 191.9,145.7 192.9,142.9 193.9,140.2 194.9,137.6 195.9,134.5 196.9,130.7 197.9,128 198.9,124.5 199.9,122.1 200.9,119.5 201.9,117.9 203,115.6 203.9,112.6 204.7,111.2 205.4,108.4 206.2,105.9 207.1,105.1 208.2,103.7 209.5,101.9 210.8,100.7 212.1,100.3 213.4,101 214.6,100.4 215.9,101 217.4,101.9 219.1,104.1 220.9,106.5 222.8,108.3 224.5,109.6 225.9,110.4 227.1,109.3 228.4,107.9 230,107.6 232,106.7 234.2,105.4 236.6,105 238.9,105.5 241.2,105.3 243.5,105.9 245.7,105.8 247.7,106 249.3,106.9 250.6,107.8 251.8,107.8 253.1,106.8 254.4,104.6 255.6,102.6 257,99.5 258.4,96.9 260,94.3 261.8,91.1 263.7,86 265.5,82.8 267.3,79.1 269.1,75.3 270.8,72.2 272.6,69.3 274.4,66.2 276.3,63.6 278.1,61 279.7,60.3 281.1,58.8 282.3,59.3 283.6,60 285,60.2 286.6,60.3 288.4,61.8 290.3,63.3 292.1,65.3 293.9,66.3 295.7,67.7 297.5,67.9 299.2,69.3 300.9,68.8 302.5,68.3 304,69.6 305,69.5 305,76 304,75.5 302.5,76.4 300.9,76 299.2,75 297.5,74.8 295.7,73 293.9,72.3 292.1,71.6 290.3,70.9 288.4,69.2 286.6,67.5 285,65.9 283.6,64.5 282.3,65.7 281.1,67 279.7,67.2 278.1,69.1 276.3,70.1 274.4,72.2 272.6,74.2 270.8,77.1 269.1,81.2 267.3,85 265.5,88.9 263.7,93.3 261.8,96.3 260,100.4 258.4,103.9 257,106.8 255.6,109.8 254.4,112.6 253.1,113.3 251.8,114.1 250.6,113.3 249.3,112.7 247.7,112.6 245.7,112.2 243.5,111.4 241.2,111.1 238.9,111.2 236.6,112.3 234.2,113.3 232,113.8 230,114.5 228.4,115.2 227.1,115.3 225.9,115.3 224.5,115.8 222.8,114.2 220.9,112 219.1,109.7 217.4,108.2 215.9,107.1 214.6,106.6 213.4,105.8 212.1,106.4 210.8,107 209.5,108.1 208.2,108.8 207.1,110.7 206.2,113.6 205.4,115.1 204.7,116.8 203.9,119.7 203,121.5 201.9,124.3 200.9,127.6 199.9,130.2 198.9,133.2 197.9,135.3 196.9,139 195.9,141.3 194.9,144.9 193.9,147.2 192.9,150.3 191.9,153.4 190.9,156.8 189.9,159.9 189,162.8 188,164.8 187,168 186,169.1 185,171.2 184,172.3 183,173 182,173.6 181,174 180,174.1 179,174.1 178.1,174.6 177.2,175.3 176.2,175.7 175.2,175.8 174.1,176 173.1,175.8 171.9,177 170.6,177.5 169.2,178.2 167.9,178.7 166.6,179.7 165.5,181.3 164.4,182.9 163.3,184 162.3,184.8 161.2,186.5 160.2,187.3 159.2,188.3 158.1,188.3 157,189.5 156,190.5 154.9,191.4 153.8,192.2 152.7,191 151.7,190.2 150.7,188.6 149.6,188.3 148.6,188.1 147.5,189.4 146.4,189.7 145.3,189.6 144,189.1 142.5,189 141.2,187.9 140,188.4 139.2,188.9 138.7,189.5 138.2,189.4 137.4,189.4 136.3,190 134.9,192.6 133.5,194.1 132.1,195.2 130.8,195.9 129.5,197.1 128.1,196.6 126.7,196.7 125.1,194.4 123.3,192.8 121.6,191.6 120,189.9 118.6,189.2 117.2,188.7 116,188 114.7,187.7 113.4,186.7 112.2,186.4 111,185.6 109.9,184.4 108.8,184.9 107.9,184.3 106.9,184.2 105.9,183.6 105,183.2 104.1,182.9 103.1,182.5 101.9,183.6 100.5,183.2 98.8,183.4 97.1,182.9 95.5,183 94,182.9 92.6,183.6 91.3,183.2 89.9,183.5 88.5,182.2 87.2,181.9 85.8,181.5 84.4,182.3 82.8,181.1 81.2,181.7 79.5,180.5 78,179.8 76.6,179.6 75.4,179.4 74.2,178.4 73.2,178.5 72.3,178.6 71.6,178.2 70.9,178.4 70.5,178.3Z" fill="#90d2ac"/><path d="M70.5,174.9 70.9,174.9 71.6,174.8 72.3,174.9 73.2,175.4 74.2,175.4 75.4,176.2 76.6,176.6 78,176.9 79.5,177 81.2,177.7 82.8,178 84.4,178.5 85.8,178.9 87.2,179.2 88.5,179.1 89.9,179.3 91.3,179.4 92.6,179.4 94,179.2 95.5,179.3 97.1,179 98.8,178.8 100.5,178.7 101.9,178.7 103.1,178.6 104.1,179.1 105,179.4 105.9,179.9 106.9,180.3 107.9,180.8 108.8,181.3 109.9,181.7 111,182.1 112.2,182.7 113.4,183.4 114.7,184.3 116,184.5 117.2,185 118.6,185.4 120,186.3 121.6,187.8 123.3,189.6 125.1,191.5 126.7,193.1 128.1,193.3 129.5,193.2 130.8,192.5 132.1,191.8 133.5,190.2 134.9,189.1 136.3,187.5 137.4,186.5 138.2,185.7 138.7,185.2 139.2,184.7 140,184.6 141.2,184.7 142.5,185.3 144,186 145.3,186.3 146.4,186 147.5,186 148.6,185.4 149.6,185.5 150.7,186.1 151.7,187.1 152.7,188.1 153.8,188.3 154.9,187.8 156,187.1 157,186.3 158.1,185.3 159.2,184.4 160.2,183.7 161.2,183 162.3,181.7 163.3,180.7 164.4,179.7 165.5,178.1 166.6,176.8 167.9,175.8 169.2,175.1 170.6,174.4 171.9,173.8 173.1,173.4 174.1,173 175.2,172.6 176.2,172.2 177.2,171.8 178.1,171.4 179,171 180,170.7 181,170.8 182,170.3 183,170 184,169.2 185,167.9 186,165.9 187,163.6 188,161.1 189,158.8 189.9,155.8 190.9,152.8 191.9,149.6 192.9,146.6 193.9,143.7 194.9,141.2 195.9,137.9 196.9,134.8 197.9,131.6 198.9,128.8 199.9,126.1 200.9,123.5 201.9,121.1 203,118.6 203.9,116.2 204.7,114 205.4,111.7 206.2,109.7 207.1,107.9 208.2,106.2 209.5,105 210.8,103.9 212.1,103.3 213.4,103.4 214.6,103.5 215.9,104 217.4,105.1 219.1,106.9 220.9,109.2 222.8,111.2 224.5,112.7 225.9,112.8 227.1,112.3 228.4,111.6 230,111 232,110.2 234.2,109.4 236.6,108.7 238.9,108.3 241.2,108.2 243.5,108.6 245.7,109 247.7,109.3 249.3,109.8 250.6,110.6 251.8,111 253.1,110 254.4,108.6 255.6,106.2 257,103.1 258.4,100.4 260,97.3 261.8,93.7 263.7,89.6 265.5,85.9 267.3,82 269.1,78.2 270.8,74.7 272.6,71.7 274.4,69.2 276.3,66.8 278.1,65 279.7,63.8 281.1,62.9 282.3,62.5 283.6,62.2 285,63 286.6,63.9 288.4,65.5 290.3,67.1 292.1,68.5 293.9,69.3 295.7,70.3 297.5,71.4 299.2,72.2 300.9,72.4 302.5,72.3 304,72.6 305,72.7" fill="none" stroke="#90d2ac" stroke-width="1.5" stroke-linejoin="round"/></g>
<path d="M70.5,174.9 70.9,174.9 71.6,174.8 72.3,174.9 73.2,175.4 74.2,175.4 75.4,176.2 76.6,176.6 78,176.9 79.5,177 81.2,177.7 82.8,178 84.4,178.5 85.8,178.9 87.2,179.2 88.5,179.1 89.9,179.3 91.3,179.4 92.6,179.4 94,179.2 95.5,179.3 97.1,179 98.8,178.8 100.5,178.7 101.9,178.7 103.1,178.6 104.1,179.1 105,179.4 105.9,179.9 106.9,180.3 107.9,180.8 108.8,181.3 109.9,181.7 111,182.1 112.2,182.7 113.4,183.4 114.7,184.3 116,184.5 117.2,185 118.6,185.4 120,186.3 121.6,187.8 123.3,189.6 125.1,191.5 126.7,193.1 128.1,193.3 129.5,193.2 130.8,192.5 132.1,191.8 133.5,190.2 134.9,189.1 136.3,187.5 137.4,186.5 138.2,185.7 138.7,185.2 139.2,184.7 140,184.6 141.2,184.7 142.5,185.3 144,186 145.3,186.3 146.4,186 147.5,186 148.6,185.4 149.6,185.5 150.7,186.1 151.7,187.1 152.7,188.1 153.8,188.3 154.9,187.8 156,187.1 157,186.3 158.1,185.3 159.2,184.4 160.2,183.7 161.2,183 162.3,181.7 163.3,180.7 164.4,179.7 165.5,178.1 166.6,176.8 167.9,175.8 169.2,175.1 170.6,174.4 171.9,173.8 173.1,173.4 174.1,173 175.2,172.6 176.2,172.2 177.2,171.8 178.1,171.4 179,171 180,170.7 181,170.8 182,170.3 183,170 184,169.2 185,167.9 186,165.9 187,163.6 188,161.1 189,158.8 189.9,155.8 190.9,152.8 191.9,149.6 192.9,146.6 193.9,143.7 194.9,141.2 195.9,137.9 196.9,134.8 197.9,131.6 198.9,128.8 199.9,126.1 200.9,123.5 201.9,121.1 203,118.6 203.9,116.2 204.7,114 205.4,111.7 206.2,109.7 207.1,107.9 208.2,106.2 209.5,105 210.8,103.9 212.1,103.3 213.4,103.4 214.6,103.5 215.9,104 217.4,105.1 219.1,106.9 220.9,109.2 222.8,111.2 224.5,112.7 225.9,112.8 227.1,112.3 228.4,111.6 230,111 232,110.2 234.2,109.4 236.6,108.7 238.9,108.3 241.2,108.2 243.5,108.6 245.7,109 247.7,109.3 249.3,109.8 250.6,110.6 251.8,111 253.1,110 254.4,108.6 255.6,106.2 257,103.1 258.4,100.4 260,97.3 261.8,93.7 263.7,89.6 265.5,85.9 267.3,82 269.1,78.2 270.8,74.7 272.6,71.7 274.4,69.2 276.3,66.8 278.1,65 279.7,63.8 281.1,62.9 282.3,62.5 283.6,62.2 285,63 286.6,63.9 288.4,65.5 290.3,67.1 292.1,68.5 293.9,69.3 295.7,70.3 297.5,71.4 299.2,72.2 300.9,72.4 302.5,72.3 304,72.6 305,72.7" fill="none" stroke="#62bc8c" stroke-width="0.8"/>
<g opacity="0.88"><path d="M70.5,166.4 70.7,165.6 71,165.3 71.4,166.2 72,167.5 72.9,168.1 73.9,167.3 75.1,167.5 76.4,167 77.7,167.3 79.1,167.7 80.5,167.9 82,168.7 83.5,168.3 85.2,168.1 86.8,168.4 88.3,167.9 89.7,168.8 91.1,168.9 92.5,168.5 93.9,168.2 95.5,166.7 97.2,167.7 98.8,168.6 100.3,168.4 101.6,168.6 102.8,167.7 104,168.3 105.1,169 106.2,170.6 107.1,171.1 108.1,171.2 109.1,172.5 110.1,172.4 111.1,172.5 112.1,174.4 113.1,176.5 114.1,177.6 115.1,179.6 116.1,180.9 117,182.3 117.7,183.5 118.3,185.4 118.8,186.3 119.5,189.1 120.3,191.6 121.3,194.3 122.3,196.9 123.2,197 124.1,197.7 124.9,198.7 125.8,197.8 126.7,196.3 127.7,195.6 128.8,193.7 129.9,191.9 131.2,188.9 132.7,185.4 134.4,181.3 136,176.9 137.4,173.9 138.4,173.1 139.1,172 139.7,171.1 140.5,170.6 141.4,170 142.3,168.7 143.2,167.9 144.3,166.6 145.5,167.5 146.9,165.7 148.3,165.6 149.6,165 150.7,164.3 151.8,164.9 152.8,165.8 153.8,165.9 154.9,165.6 156,163.9 157,163.1 158.1,161.8 159.2,160 160.2,158.7 161.2,157.9 162.3,157.2 163.3,156 164.4,154.8 165.5,152.9 166.6,151.8 167.9,150.8 169.2,149.6 170.6,148.4 171.9,148.3 173,146.9 174.1,146.8 175.1,146.4 176.2,144.7 177.3,144 178.5,143.6 179.6,142.2 180.8,141.4 182,140.1 183.2,138.4 184.5,137 185.6,135.1 186.7,132.8 187.6,130.2 188.6,127.1 189.5,125.6 190.3,123.6 191.1,121.1 191.9,117.8 192.7,115.6 193.5,113.9 194.3,112 195.1,109.8 195.9,108.1 196.8,107.1 197.7,104.5 198.7,101.5 199.6,99.4 200.5,96.5 201.3,94.5 202.1,92.5 203,89.9 203.9,88.3 204.7,85.7 205.6,84.1 206.7,82.6 207.9,81.8 209.2,80.7 210.6,80.1 212.1,79.7 213.7,79.2 215.5,80.1 217.3,80.9 219.1,82.2 220.9,82.3 222.8,84.4 224.7,85.4 226.2,86.8 227.3,87 228,87.2 228.8,87.6 230,87.5 231.9,88.7 234.1,89 236.6,89.3 238.9,90 241.2,91.9 243.6,95.1 245.9,96.9 247.7,98 248.9,99.3 249.7,99.2 250.4,99.8 251.3,100.3 252.5,98.7 253.8,98.1 255.2,96.5 256.6,93.9 257.9,90.3 259.1,87.7 260.4,84.7 261.9,80.3 263.5,76 265.3,72.7 267.2,69 269,64.5 270.8,61.6 272.7,59.2 274.5,57.7 276.1,57.7 277.5,55.1 278.8,54.3 280,54.2 281.4,54.5 283,55.3 284.8,56.3 286.7,55.8 288.5,57.4 290.3,59.2 292.1,61.2 293.8,61.6 295.6,63 297.5,64.7 299.4,66.2 301.3,67.9 302.7,67.7 303.7,68.1 304.3,67 304.7,66.9 305,67.4 305,73.1 304.7,74 304.3,74.7 303.7,73.8 302.7,73.8 301.3,72.9 299.4,71.9 297.5,70.7 295.6,70 293.8,68.4 292.1,66.1 290.3,65.5 288.5,65 286.7,64 284.8,61.6 283,60.9 281.4,60.6 280,60.4 278.8,61.6 277.5,62.2 276.1,61.9 274.5,64.6 272.7,67 270.8,69.4 269,72.4 267.2,75.1 265.3,79.9 263.5,84.9 261.9,88.2 260.4,90.8 259.1,94.3 257.9,97.8 256.6,99.7 255.2,101.5 253.8,103.3 252.5,105.1 251.3,105.1 250.4,106.7 249.7,106.8 248.9,105.4 247.7,104.5 245.9,102.3 243.6,100.2 241.2,99.2 238.9,98.5 236.6,97 234.1,95.6 231.9,95 230,94.7 228.8,94.4 228,93.8 227.3,93.5 226.2,91.9 224.7,91.5 222.8,89.4 220.9,89.3 219.1,87.3 217.3,86.5 215.5,86 213.7,86 212.1,85.5 210.6,85.6 209.2,86.6 207.9,88.4 206.7,90.2 205.6,92.3 204.7,93.8 203.9,95.2 203,97.7 202.1,99.3 201.3,101.9 200.5,104.3 199.6,106.4 198.7,108.6 197.7,110.8 196.8,112.3 195.9,114.9 195.1,116.9 194.3,118.8 193.5,120.9 192.7,123.4 191.9,125.6 191.1,127.7 190.3,130.1 189.5,132.4 188.6,135.2 187.6,138 186.7,140.3 185.6,141.8 184.5,143.5 183.2,145.6 182,147.4 180.8,148.6 179.6,150.2 178.5,150.8 177.3,151.5 176.2,152.7 175.1,152.5 174.1,153.8 173,155.5 171.9,155.5 170.6,156.9 169.2,157.3 167.9,157.5 166.6,159.3 165.5,159.3 164.4,159.4 163.3,160.4 162.3,161.9 161.2,163.8 160.2,165.9 159.2,168.4 158.1,169 157,170.1 156,171.2 154.9,171 153.8,171.1 152.8,171.4 151.8,172.1 150.7,171.6 149.6,171.5 148.3,171.7 146.9,173 145.5,173.2 144.3,175.1 143.2,175.4 142.3,175.9 141.4,176.2 140.5,177.3 139.7,178.2 139.1,178.3 138.4,179.4 137.4,182.3 136,185.9 134.4,188.8 132.7,192.9 131.2,195.7 129.9,197.9 128.8,199.2 127.7,201.1 126.7,203.4 125.8,204.3 124.9,204.4 124.1,205.5 123.2,204.7 122.3,202.1 121.3,200 120.3,197 119.5,195 118.8,194 118.3,192.6 117.7,191.8 117,190.5 116.1,189 115.1,186.8 114.1,184.9 113.1,183.1 112.1,183.2 111.1,182.2 110.1,180.1 109.1,178.7 108.1,177.5 107.1,176.3 106.2,174.9 105.1,175.2 104,175.1 102.8,175.2 101.6,174 100.3,174.1 98.8,173.8 97.2,175.1 95.5,175.8 93.9,175 92.5,175.4 91.1,175.3 89.7,175.5 88.3,176.4 86.8,176.3 85.2,176 83.5,175.5 82,175.1 80.5,175 79.1,174.8 77.7,175.2 76.4,174.9 75.1,174.4 73.9,174.6 72.9,173.9 72,173.4 71.4,174.2 71,174.9 70.7,174.3 70.5,173.3Z" fill="#eecb86"/><path d="M70.5,169.8 70.7,170 71,170.1 71.4,170.2 72,170.4 72.9,171 73.9,170.9 75.1,170.9 76.4,171 77.7,171.2 79.1,171.3 80.5,171.5 82,171.9 83.5,171.9 85.2,172.1 86.8,172.3 88.3,172.2 89.7,172.2 91.1,172.1 92.5,172 93.9,171.6 95.5,171.3 97.2,171.4 98.8,171.2 100.3,171.2 101.6,171.3 102.8,171.4 104,171.7 105.1,172.1 106.2,172.7 107.1,173.7 108.1,174.4 109.1,175.6 110.1,176.3 111.1,177.4 112.1,178.8 113.1,179.8 114.1,181.2 115.1,183.2 116.1,185 117,186.4 117.7,187.7 118.3,189 118.8,190.1 119.5,192 120.3,194.3 121.3,197.2 122.3,199.5 123.2,200.9 124.1,201.6 124.9,201.5 125.8,201 126.7,199.9 127.7,198.3 128.8,196.5 129.9,194.9 131.2,192.3 132.7,189.2 134.4,185 136,181.4 137.4,178.1 138.4,176.2 139.1,175.1 139.7,174.7 140.5,173.9 141.4,173.1 142.3,172.3 143.2,171.6 144.3,170.9 145.5,170.3 146.9,169.3 148.3,168.7 149.6,168.2 150.7,168 151.8,168.5 152.8,168.6 153.8,168.5 154.9,168.3 156,167.6 157,166.6 158.1,165.4 159.2,164.2 160.2,162.3 161.2,160.8 162.3,159.6 163.3,158.2 164.4,157.1 165.5,156.1 166.6,155.5 167.9,154.2 169.2,153.5 170.6,152.7 171.9,151.9 173,151.2 174.1,150.3 175.1,149.4 176.2,148.7 177.3,147.7 178.5,147.2 179.6,146.2 180.8,145 182,143.8 183.2,142 184.5,140.3 185.6,138.4 186.7,136.6 187.6,134.1 188.6,131.2 189.5,129 190.3,126.8 191.1,124.4 191.9,121.7 192.7,119.5 193.5,117.4 194.3,115.4 195.1,113.4 195.9,111.5 196.8,109.7 197.7,107.7 198.7,105.1 199.6,102.9 200.5,100.4 201.3,98.2 202.1,95.9 203,93.8 203.9,91.7 204.7,89.7 205.6,88.2 206.7,86.4 207.9,85.1 209.2,83.7 210.6,82.8 212.1,82.6 213.7,82.6 215.5,83.1 217.3,83.7 219.1,84.8 220.9,85.8 222.8,86.9 224.7,88.4 226.2,89.4 227.3,90.2 228,90.5 228.8,91 230,91.1 231.9,91.9 234.1,92.3 236.6,93.2 238.9,94.2 241.2,95.5 243.6,97.6 245.9,99.6 247.7,101.3 248.9,102.4 249.7,103 250.4,103.2 251.3,102.7 252.5,101.9 253.8,100.7 255.2,99 256.6,96.8 257.9,94 259.1,91 260.4,87.7 261.9,84.3 263.5,80.5 265.3,76.3 267.2,72 269,68.5 270.8,65.5 272.7,63.1 274.5,61.2 276.1,59.8 277.5,58.7 278.8,57.9 280,57.3 281.4,57.6 283,58.1 284.8,59 286.7,59.9 288.5,61.2 290.3,62.4 292.1,63.6 293.8,65 295.6,66.5 297.5,67.7 299.4,69.1 301.3,70.4 302.7,70.7 303.7,71 304.3,70.8 304.7,70.4 305,70.2" fill="none" stroke="#eecb86" stroke-width="1.5" stroke-linejoin="round"/></g>
<path d="M70.5,169.8 70.7,170 71,170.1 71.4,170.2 72,170.4 72.9,171 73.9,170.9 75.1,170.9 76.4,171 77.7,171.2 79.1,171.3 80.5,171.5 82,171.9 83.5,171.9 85.2,172.1 86.8,172.3 88.3,172.2 89.7,172.2 91.1,172.1 92.5,172 93.9,171.6 95.5,171.3 97.2,171.4 98.8,171.2 100.3,171.2 101.6,171.3 102.8,171.4 104,171.7 105.1,172.1 106.2,172.7 107.1,173.7 108.1,174.4 109.1,175.6 110.1,176.3 111.1,177.4 112.1,178.8 113.1,179.8 114.1,181.2 115.1,183.2 116.1,185 117,186.4 117.7,187.7 118.3,189 118.8,190.1 119.5,192 120.3,194.3 121.3,197.2 122.3,199.5 123.2,200.9 124.1,201.6 124.9,201.5 125.8,201 126.7,199.9 127.7,198.3 128.8,196.5 129.9,194.9 131.2,192.3 132.7,189.2 134.4,185 136,181.4 137.4,178.1 138.4,176.2 139.1,175.1 139.7,174.7 140.5,173.9 141.4,173.1 142.3,172.3 143.2,171.6 144.3,170.9 145.5,170.3 146.9,169.3 148.3,168.7 149.6,168.2 150.7,168 151.8,168.5 152.8,168.6 153.8,168.5 154.9,168.3 156,167.6 157,166.6 158.1,165.4 159.2,164.2 160.2,162.3 161.2,160.8 162.3,159.6 163.3,158.2 164.4,157.1 165.5,156.1 166.6,155.5 167.9,154.2 169.2,153.5 170.6,152.7 171.9,151.9 173,151.2 174.1,150.3 175.1,149.4 176.2,148.7 177.3,147.7 178.5,147.2 179.6,146.2 180.8,145 182,143.8 183.2,142 184.5,140.3 185.6,138.4 186.7,136.6 187.6,134.1 188.6,131.2 189.5,129 190.3,126.8 191.1,124.4 191.9,121.7 192.7,119.5 193.5,117.4 194.3,115.4 195.1,113.4 195.9,111.5 196.8,109.7 197.7,107.7 198.7,105.1 199.6,102.9 200.5,100.4 201.3,98.2 202.1,95.9 203,93.8 203.9,91.7 204.7,89.7 205.6,88.2 206.7,86.4 207.9,85.1 209.2,83.7 210.6,82.8 212.1,82.6 213.7,82.6 215.5,83.1 217.3,83.7 219.1,84.8 220.9,85.8 222.8,86.9 224.7,88.4 226.2,89.4 227.3,90.2 228,90.5 228.8,91 230,91.1 231.9,91.9 234.1,92.3 236.6,93.2 238.9,94.2 241.2,95.5 243.6,97.6 245.9,99.6 247.7,101.3 248.9,102.4 249.7,103 250.4,103.2 251.3,102.7 252.5,101.9 253.8,100.7 255.2,99 256.6,96.8 257.9,94 259.1,91 260.4,87.7 261.9,84.3 263.5,80.5 265.3,76.3 267.2,72 269,68.5 270.8,65.5 272.7,63.1 274.5,61.2 276.1,59.8 277.5,58.7 278.8,57.9 280,57.3 281.4,57.6 283,58.1 284.8,59 286.7,59.9 288.5,61.2 290.3,62.4 292.1,63.6 293.8,65 295.6,66.5 297.5,67.7 299.4,69.1 301.3,70.4 302.7,70.7 303.7,71 304.3,70.8 304.7,70.4 305,70.2" fill="none" stroke="#e0ae5e" stroke-width="0.8"/>
<g opacity="0.88"><path d="M70.5,148.8 70.7,149.2 71.1,149.8 71.5,151.3 72,152.1 72.6,152.8 73.3,155.4 74,157.8 74.8,159.4 75.6,159.7 76.3,160.5 77.1,161.6 78,163.6 78.9,164.1 80,164.3 81,165 82,165.1 83,166 84,167.8 85,167.6 86,167.8 87,168.2 88,168.6 88.9,169.8 89.9,170 90.9,170.2 91.9,170.9 92.9,171.1 93.9,170.5 94.9,170.9 95.9,170.2 96.9,171.2 97.9,170.6 98.9,170 100,170.2 101,170.4 101.9,170.9 102.6,171.4 103.2,170.7 103.7,171.8 104.3,172.2 105,171.5 105.8,171.7 106.7,173.2 107.5,174.2 108.3,175.4 109.1,176.3 109.9,177.1 110.8,177.7 111.8,179 112.8,181.8 113.8,183.6 114.7,187.4 115.3,188.6 115.8,189.7 116.3,190.5 117,192.5 118,196.4 119.1,201.1 120.3,205.6 121.6,209.5 122.9,212.5 124.3,215.7 125.6,218.8 126.9,220.3 128.1,220.6 129.2,218.8 130.3,216.3 131.4,212.7 132.5,209.1 133.5,205.8 134.5,200.9 135.6,197.8 136.7,194.6 137.8,190.7 138.9,187.6 140,185.4 141.1,183.8 142.1,183 143.2,181.2 144.3,180.2 145.6,179.1 146.9,178.3 148.3,178.7 149.6,177.3 151,177.4 152.3,175.4 153.7,174.9 154.9,172.1 156,171.7 157.1,171.2 158.1,170.2 159.1,169.4 160.1,166.6 161,165.3 162,164.2 162.9,162.7 163.8,161.2 164.7,160.4 165.6,158.6 166.6,157 167.8,156.3 169.2,155.6 170.6,155.4 171.9,154.4 173.1,153.2 174.3,151.9 175.4,151.7 176.7,149.4 178.1,147.7 179.5,146.8 181,144.8 182.4,143.6 183.7,141.2 184.9,139.1 186.1,136.1 187.2,133.5 188.3,131.1 189.2,129.6 190.2,126.6 191.1,122.3 191.9,118.7 192.7,114.3 193.5,110.5 194.3,105.7 195.1,102.9 196,98.5 196.9,94.8 197.9,91.7 199.1,89 200.4,86.4 201.8,83.3 203.2,79.2 204.5,76 205.8,74.5 207.2,73.6 208.5,73.2 209.8,70.8 211,70.8 212.3,70.1 213.8,69.1 215.4,70.2 217.2,71.6 219.1,74.1 220.9,75.1 222.7,76 224.4,77.7 226.2,78.7 228,78.9 229.8,80.1 231.6,80.4 233.3,81.6 235.1,83.1 237,84.1 238.9,85.1 240.7,85.9 242.2,88.4 243.4,89.7 244.3,90.2 245.1,90.2 246,90.2 246.9,91.4 247.8,93 248.6,95.1 249.5,95 250.4,94.5 251.2,94.7 252.1,93.4 253.1,93.5 254.3,91.4 255.6,89 257,86.2 258.4,82.6 259.7,80.2 261,75.8 262.4,72.7 263.7,69.1 265,64.6 266.4,61.8 267.7,59.3 269,56.2 270.3,53.8 271.6,51 273,49.7 274.3,48.7 275.6,46.8 277,46.9 278.4,46.5 279.7,45.8 281,46.1 282.4,47.3 283.7,48.7 285,49.4 286.3,50.7 287.6,50.9 289,51.8 290.3,52.4 291.6,52.6 292.9,53.1 294.3,55.5 295.6,55.7 297,58.1 298.4,57.6 299.7,58.3 301,58.7 302.2,58.6 303.3,57.1 304.3,57.1 305,56.5 305,63.1 304.3,63.4 303.3,64.5 302.2,65.3 301,65.4 299.7,65.3 298.4,64.3 297,62.6 295.6,63.1 294.3,61.5 292.9,61.5 291.6,60.7 290.3,59.3 289,58.4 287.6,57.2 286.3,55.9 285,55.4 283.7,54.4 282.4,54.3 281,53.8 279.7,54 278.4,53.5 277,53.5 275.6,54.5 274.3,54.6 273,56.3 271.6,58.7 270.3,60.7 269,62.9 267.7,64.9 266.4,68.3 265,72.1 263.7,75 262.4,78.9 261,82.9 259.7,85.3 258.4,90 257,92.3 255.6,95.5 254.3,98.3 253.1,99.7 252.1,101.7 251.2,102.6 250.4,102.8 249.5,101.8 248.6,100.7 247.8,100.4 246.9,99.7 246,98.9 245.1,97.8 244.3,96.7 243.4,95.7 242.2,95.3 240.7,95.4 238.9,93.4 237,91.4 235.1,90.2 233.3,89.2 231.6,88.8 229.8,88.1 228,87.4 226.2,85 224.4,83.3 222.7,82.2 220.9,80.3 219.1,78.7 217.2,78.5 215.4,77.9 213.8,78 212.3,76.8 211,77.8 209.8,79.2 208.5,79.4 207.2,80.8 205.8,82.2 204.5,84.6 203.2,85.8 201.8,87.6 200.4,90.8 199.1,95.2 197.9,99.3 196.9,102.8 196,106.6 195.1,109.8 194.3,113.9 193.5,117.8 192.7,121.7 191.9,126.4 191.1,129.6 190.2,131.9 189.2,134.7 188.3,138.4 187.2,141.1 186.1,144 184.9,145.6 183.7,148.2 182.4,150.3 181,152.4 179.5,154.6 178.1,156.7 176.7,158.1 175.4,158.3 174.3,159.8 173.1,160 171.9,160.3 170.6,161.8 169.2,163.1 167.8,164.2 166.6,165.2 165.6,165.7 164.7,166.4 163.8,167.9 162.9,169.2 162,170.6 161,173 160.1,174.5 159.1,174.6 158.1,175.9 157.1,177.2 156,178.4 154.9,180.6 153.7,180 152.3,181.1 151,181.4 149.6,183.3 148.3,184.3 146.9,185.6 145.6,187 144.3,187.2 143.2,188.3 142.1,188.9 141.1,190.4 140,192.6 138.9,195.3 137.8,198 136.7,200.7 135.6,203.9 134.5,208.2 133.5,211.8 132.5,216.6 131.4,219.6 130.3,222 129.2,224.4 128.1,226.2 126.9,226.8 125.6,226.1 124.3,222.9 122.9,219.7 121.6,216.1 120.3,212.9 119.1,208.1 118,203.9 117,200.9 116.3,198.8 115.8,196.8 115.3,195.3 114.7,193.4 113.8,191.9 112.8,189.5 111.8,187.3 110.8,184.6 109.9,183.5 109.1,183.3 108.3,182.9 107.5,182.1 106.7,181.4 105.8,180.8 105,179 104.3,177.2 103.7,176.9 103.2,177.3 102.6,175.7 101.9,177 101,176.8 100,176.6 98.9,177 97.9,176.3 96.9,176.2 95.9,177.2 94.9,177.4 93.9,177.5 92.9,177.3 91.9,177 90.9,176.8 89.9,176.2 88.9,176.6 88,176.9 87,176.2 86,175.3 85,174.6 84,172.7 83,172.9 82,173.2 81,171.6 80,171 78.9,169.8 78,169 77.1,168.9 76.3,168 75.6,167.6 74.8,166.2 74,164.6 73.3,163.1 72.6,161.6 72,159.2 71.5,157.8 71.1,157.2 70.7,155.5 70.5,154.8Z" fill="#efea7a"/><path d="M70.5,151.8 70.7,152.3 71.1,153.5 71.5,154.6 72,155.6 72.6,157.2 73.3,159.3 74,161.2 74.8,162.8 75.6,163.6 76.3,164.3 77.1,165.2 78,166.3 78.9,167 80,167.6 81,168.3 82,169.2 83,169.5 84,170.3 85,171.1 86,171.6 87,172.2 88,172.8 88.9,173.2 89.9,173.1 90.9,173.5 91.9,173.9 92.9,174.2 93.9,174 94.9,174.1 95.9,173.7 96.9,173.7 97.9,173.5 98.9,173.5 100,173.4 101,173.6 101.9,173.9 102.6,173.5 103.2,174 103.7,174.3 104.3,174.7 105,175.3 105.8,176.2 106.7,177.3 107.5,178.1 108.3,179.2 109.1,179.8 109.9,180.3 110.8,181.2 111.8,183.1 112.8,185.6 113.8,187.7 114.7,190.4 115.3,191.9 115.8,193.3 116.3,194.7 117,196.7 118,200.1 119.1,204.6 120.3,209.2 121.6,212.8 122.9,216.1 124.3,219.3 125.6,222.5 126.9,223.6 128.1,223.4 129.2,221.6 130.3,219.1 131.4,216.1 132.5,212.8 133.5,208.8 134.5,204.6 135.6,200.9 136.7,197.6 137.8,194.4 138.9,191.5 140,189 141.1,187.1 142.1,185.9 143.2,184.8 144.3,183.7 145.6,183.1 146.9,182 148.3,181.5 149.6,180.3 151,179.4 152.3,178.3 153.7,177.5 154.9,176.3 156,175.1 157.1,174.2 158.1,173.1 159.1,172 160.1,170.5 161,169.1 162,167.4 162.9,166 163.8,164.5 164.7,163.4 165.6,162.1 166.6,161.1 167.8,160.2 169.2,159.3 170.6,158.6 171.9,157.3 173.1,156.6 174.3,155.8 175.4,155 176.7,153.8 178.1,152.2 179.5,150.7 181,148.6 182.4,146.9 183.7,144.7 184.9,142.3 186.1,140 187.2,137.3 188.3,134.8 189.2,132.2 190.2,129.3 191.1,125.9 191.9,122.6 192.7,118 193.5,114.2 194.3,109.8 195.1,106.4 196,102.6 196.9,98.8 197.9,95.5 199.1,92.1 200.4,88.6 201.8,85.4 203.2,82.5 204.5,80.3 205.8,78.4 207.2,77.2 208.5,76.3 209.8,75 211,74.3 212.3,73.5 213.8,73.5 215.4,74 217.2,75 219.1,76.4 220.9,77.7 222.7,79.1 224.4,80.5 226.2,81.9 228,83.2 229.8,84.1 231.6,84.6 233.3,85.4 235.1,86.6 237,87.8 238.9,89.2 240.7,90.7 242.2,91.9 243.4,92.7 244.3,93.5 245.1,94 246,94.6 246.9,95.5 247.8,96.7 248.6,97.9 249.5,98.4 250.4,98.7 251.2,98.6 252.1,97.5 253.1,96.6 254.3,94.9 255.6,92.2 257,89.3 258.4,86.3 259.7,82.8 261,79.4 262.4,75.8 263.7,72.1 265,68.4 266.4,65.1 267.7,62.1 269,59.6 270.3,57.3 271.6,54.8 273,53 274.3,51.7 275.6,50.6 277,50.2 278.4,50 279.7,49.9 281,49.9 282.4,50.8 283.7,51.5 285,52.4 286.3,53.3 287.6,54 289,55.1 290.3,55.9 291.6,56.6 292.9,57.3 294.3,58.5 295.6,59.4 297,60.4 298.4,61 299.7,61.8 301,62.1 302.2,61.9 303.3,60.8 304.3,60.2 305,59.8" fill="none" stroke="#efea7a" stroke-width="1.5" stroke-linejoin="round"/></g>
<path d="M70.5,151.8 70.7,152.3 71.1,153.5 71.5,154.6 72,155.6 72.6,157.2 73.3,159.3 74,161.2 74.8,162.8 75.6,163.6 76.3,164.3 77.1,165.2 78,166.3 78.9,167 80,167.6 81,168.3 82,169.2 83,169.5 84,170.3 85,171.1 86,171.6 87,172.2 88,172.8 88.9,173.2 89.9,173.1 90.9,173.5 91.9,173.9 92.9,174.2 93.9,174 94.9,174.1 95.9,173.7 96.9,173.7 97.9,173.5 98.9,173.5 100,173.4 101,173.6 101.9,173.9 102.6,173.5 103.2,174 103.7,174.3 104.3,174.7 105,175.3 105.8,176.2 106.7,177.3 107.5,178.1 108.3,179.2 109.1,179.8 109.9,180.3 110.8,181.2 111.8,183.1 112.8,185.6 113.8,187.7 114.7,190.4 115.3,191.9 115.8,193.3 116.3,194.7 117,196.7 118,200.1 119.1,204.6 120.3,209.2 121.6,212.8 122.9,216.1 124.3,219.3 125.6,222.5 126.9,223.6 128.1,223.4 129.2,221.6 130.3,219.1 131.4,216.1 132.5,212.8 133.5,208.8 134.5,204.6 135.6,200.9 136.7,197.6 137.8,194.4 138.9,191.5 140,189 141.1,187.1 142.1,185.9 143.2,184.8 144.3,183.7 145.6,183.1 146.9,182 148.3,181.5 149.6,180.3 151,179.4 152.3,178.3 153.7,177.5 154.9,176.3 156,175.1 157.1,174.2 158.1,173.1 159.1,172 160.1,170.5 161,169.1 162,167.4 162.9,166 163.8,164.5 164.7,163.4 165.6,162.1 166.6,161.1 167.8,160.2 169.2,159.3 170.6,158.6 171.9,157.3 173.1,156.6 174.3,155.8 175.4,155 176.7,153.8 178.1,152.2 179.5,150.7 181,148.6 182.4,146.9 183.7,144.7 184.9,142.3 186.1,140 187.2,137.3 188.3,134.8 189.2,132.2 190.2,129.3 191.1,125.9 191.9,122.6 192.7,118 193.5,114.2 194.3,109.8 195.1,106.4 196,102.6 196.9,98.8 197.9,95.5 199.1,92.1 200.4,88.6 201.8,85.4 203.2,82.5 204.5,80.3 205.8,78.4 207.2,77.2 208.5,76.3 209.8,75 211,74.3 212.3,73.5 213.8,73.5 215.4,74 217.2,75 219.1,76.4 220.9,77.7 222.7,79.1 224.4,80.5 226.2,81.9 228,83.2 229.8,84.1 231.6,84.6 233.3,85.4 235.1,86.6 237,87.8 238.9,89.2 240.7,90.7 242.2,91.9 243.4,92.7 244.3,93.5 245.1,94 246,94.6 246.9,95.5 247.8,96.7 248.6,97.9 249.5,98.4 250.4,98.7 251.2,98.6 252.1,97.5 253.1,96.6 254.3,94.9 255.6,92.2 257,89.3 258.4,86.3 259.7,82.8 261,79.4 262.4,75.8 263.7,72.1 265,68.4 266.4,65.1 267.7,62.1 269,59.6 270.3,57.3 271.6,54.8 273,53 274.3,51.7 275.6,50.6 277,50.2 278.4,50 279.7,49.9 281,49.9 282.4,50.8 283.7,51.5 285,52.4 286.3,53.3 287.6,54 289,55.1 290.3,55.9 291.6,56.6 292.9,57.3 294.3,58.5 295.6,59.4 297,60.4 298.4,61 299.7,61.8 301,62.1 302.2,61.9 303.3,60.8 304.3,60.2 305,59.8" fill="none" stroke="#e2da50" stroke-width="0.8"/>
</g>
<line x1="164" y1="20.1" x2="164" y2="230" stroke="#9a9a9a" stroke-width="1.6"/>
<line x1="305.3" y1="38" x2="305.3" y2="58" stroke="#e6b96a" stroke-width="0.9"/>
<line x1="305.3" y1="58" x2="305.3" y2="75" stroke="#7cc4e6" stroke-width="0.9"/>
<line x1="305.3" y1="75" x2="305.3" y2="84" stroke="#ece66a" stroke-width="0.9"/>
<line x1="305.3" y1="84" x2="305.3" y2="100" stroke="#86cda4" stroke-width="0.9"/>
<path d="M70.6,16.9V231H306.5" fill="none" stroke="#000" stroke-width="1.9"/>
<line x1="93.3" y1="230" x2="93.3" y2="227.2" stroke="#000" stroke-width="1.8"/>
<line x1="169.1" y1="230" x2="169.1" y2="227.2" stroke="#000" stroke-width="1.8"/>
<line x1="245.0" y1="230" x2="245.0" y2="227.2" stroke="#000" stroke-width="1.8"/>
<line x1="71.5" y1="41.1" x2="73.9" y2="41.1" stroke="#000" stroke-width="1.8"/>
<line x1="71.5" y1="160.1" x2="73.9" y2="160.1" stroke="#000" stroke-width="1.8"/>
<text x="52.3" y="45" font-size="13" textLength="13.8" lengthAdjust="spacingAndGlyphs" >30</text>
<text x="51.6" y="162.8" font-size="13" textLength="14.9" lengthAdjust="spacingAndGlyphs" >25</text>
<text x="87.4" y="244.6" font-size="13" textLength="8" lengthAdjust="spacingAndGlyphs" >0</text>
<text x="154.2" y="244.6" font-size="13" textLength="21.8" lengthAdjust="spacingAndGlyphs" >500</text>
<text x="232.1" y="244.3" font-size="13" textLength="28.6" lengthAdjust="spacingAndGlyphs" >1000</text>
<text x="92.6" y="261.9" font-size="15" textLength="195.8" lengthAdjust="spacingAndGlyphs" >time from stimulus onset (ms)</text>
<text x="44" y="166.4" font-size="15" textLength="96.4" lengthAdjust="spacingAndGlyphs" transform="rotate(-90 44 166.4)" >firing rate (Hz)</text>
<text x="198.5" y="27.3" font-size="12" textLength="59.7" lengthAdjust="spacingAndGlyphs" >monkey M</text>
<text x="167.9" y="205.8" font-size="11" textLength="82" lengthAdjust="spacingAndGlyphs" >next shape onset</text>
<rect x="305" y="131.2" width="27.8" height="4.3" fill="#e8e640"/>
<rect x="305" y="145.7" width="27.8" height="4.3" fill="#dfad38"/>
<rect x="305" y="160" width="27.8" height="4.3" fill="#52b67f"/>
<rect x="305" y="174.8" width="27.8" height="4.3" fill="#229fd2"/>
<rect x="305" y="189.1" width="27.8" height="4.3" fill="#9ca8d8"/>
<rect x="305" y="203.8" width="27.8" height="4.3" fill="#37308f"/>
<line x1="343.5" y1="140" x2="343.5" y2="200" stroke="#000" stroke-width="2"/>
<path d="M343.5,129.6 Q346.5,138 350.9,146.2 Q346.5,143 343.5,142.8 Q340.5,143 336.1,146.2 Q340.5,138 343.5,129.6Z" fill="#000"/>
<path d="M343.5,210.8 Q346.8,202 351.5,196.2 Q347,198.8 343.5,199.2 Q340,198.8 335.5,196.2 Q340.2,202 343.5,210.8Z" fill="#000"/>
<path d="M355,133.2h7.8v1.5h-7.8zM358.15,130h1.5v7.8h-1.5z" fill="#3a3030"/>
<rect x="356.9" y="200.2" width="5" height="1.7" fill="#3a3030"/>
<text x="374" y="189.2" font-size="15" textLength="44" lengthAdjust="spacingAndGlyphs" transform="rotate(-90 374 189.2)" >weight</text>
<rect x="463.9" y="20.2" width="50.8" height="210" fill="#e3e3e3"/>
<g clip-path="url(#clipAR)">
<g opacity="0.88"><path d="M440,79.9 440.4,80.6 441.1,81.7 441.8,82.5 442.7,83.5 443.7,85 444.8,85.4 446,87 447.1,87.8 448.2,89.1 449.3,89.4 450.4,90.9 451.5,91.7 452.6,92.9 453.8,93.6 454.9,94.4 456,96.3 457.1,96.8 458.2,97.5 459.3,99.2 460.4,101.1 461.5,102 462.5,103.8 463.6,104.5 464.8,104.9 466.1,105.5 467.4,105.7 468.8,104.9 470.1,104.8 471.3,105.5 472.4,106.1 473.5,106.2 474.6,106.5 475.7,106.2 476.9,105.4 478,104 479,103.4 480,102.3 480.9,101.8 481.7,102.1 482.6,102.1 483.5,103.7 484.3,105.6 485.2,108.1 486.1,109.2 487,110.7 488,111.2 489,113.1 490,115.3 491,118 492,121.6 493.1,125.3 494.1,126.2 495.2,124.4 496.3,120.6 497.4,116.4 498.4,113.1 499.3,109.4 500.1,103.7 500.8,99.6 501.6,96.5 502.4,92.8 503.3,87.7 504.2,84.5 505,81.6 505.8,78.7 506.5,73.8 507.2,71 508,68 508.9,64.7 509.8,61.8 510.9,58.5 512,57 513.3,54.7 514.9,52.8 516.4,52.5 517.7,52.5 518.8,52.1 519.8,53.8 520.7,54.5 521.6,54.8 522.6,55.4 523.5,56 524.5,56.7 525.5,58.5 526.5,59.1 527.5,59.5 528.4,60.9 529.4,60.2 530.4,60.8 531.3,60.9 532.3,61.8 533.3,63.1 534.3,64 535.2,64.5 536.2,65.6 537.2,67.1 538.2,70.1 539.2,72.1 540.1,74.2 541.1,76.7 542.1,77.9 543,79.8 544,80.7 545,81.3 546,81.5 547,81.7 547.9,81 548.9,80.9 549.9,80.5 550.9,80.9 551.9,81.4 552.8,81.9 553.6,83.4 554.4,84 555.1,85.2 555.7,86.5 556.1,88.4 556.4,89.7 556.7,92 557.3,95.7 558.3,101.3 559.6,108.2 561,115.2 562.2,121.2 563.2,125.7 564.2,131.1 565.1,135.2 566.1,136.9 567.2,135.5 568.4,131.1 569.6,125.5 570.9,120.9 572.3,115.3 573.8,108.4 575.3,100.8 576.8,94.2 578.3,90 579.9,86.1 581.4,82.4 582.6,79.8 583.3,79.4 583.6,78.5 583.9,78.4 584.8,78.5 586.4,78.8 588.3,79.5 590.5,80 592.6,80.6 594.6,80.7 596.5,80.9 598.5,80.7 600.4,81.8 602.4,82.9 604.3,84.2 606.3,85.1 608.2,85.8 610.2,85.8 612.2,85.7 614.2,85.8 616,85.6 617.6,84.7 619.1,82 620.5,80.3 621.8,79 622.9,78.9 623.9,80.2 624.8,82.4 625.7,84.6 626.7,86.5 627.7,89.4 628.6,92.1 629.6,95.6 630.6,99.4 631.5,104 632.5,107.4 633.5,109.7 634.5,111.9 635.4,113.3 636.4,114.8 637.5,114.6 638.6,112.1 639.8,110.2 641.1,106.8 642.3,102.9 643.5,98.3 644.7,93.6 646,88.7 647.2,84.2 648.4,80.1 649.5,75.9 650.7,72.9 652.1,68.4 653.7,64.7 655.4,59.2 657.2,55.4 658.9,52.3 660.4,51.2 661.9,51.4 663.4,52.4 664.8,52.4 666.3,50.9 667.8,50 669.3,47.7 670.6,46.7 671.8,46.2 672.9,45.1 673.8,44.9 674.5,44.4 674.5,50.6 673.8,50.6 672.9,51.8 671.8,53.1 670.6,54 669.3,55.7 667.8,57.1 666.3,59.6 664.8,60 663.4,60.1 661.9,59.1 660.4,58 658.9,58.7 657.2,61.6 655.4,66.1 653.7,70.1 652.1,75.2 650.7,78.3 649.5,82.8 648.4,86.4 647.2,90.9 646,95.7 644.7,101.5 643.5,106.9 642.3,111.3 641.1,114.8 639.8,119 638.6,123 637.5,123.6 636.4,122.9 635.4,121.7 634.5,119.3 633.5,116.2 632.5,112.4 631.5,108.8 630.6,106.1 629.6,103.2 628.6,100.3 627.7,96.9 626.7,93.5 625.7,91.3 624.8,89.2 623.9,87.8 622.9,86.6 621.8,86.2 620.5,86.9 619.1,89.4 617.6,91 616,93.6 614.2,93.5 612.2,93.8 610.2,93.9 608.2,92.5 606.3,91.8 604.3,90.9 602.4,90 600.4,90 598.5,89.7 596.5,89.2 594.6,89.3 592.6,88.6 590.5,88.3 588.3,87.6 586.4,86.9 584.8,86.5 583.9,85.6 583.6,85.4 583.3,85.5 582.6,87.4 581.4,90.5 579.9,93.8 578.3,98.4 576.8,103.8 575.3,109.5 573.8,115.1 572.3,122 570.9,128 569.6,133.6 568.4,138.6 567.2,141.8 566.1,143.7 565.1,142.3 564.2,138.1 563.2,133.2 562.2,127.7 561,121.4 559.6,114.1 558.3,107.7 557.3,102.6 556.7,98.5 556.4,97.3 556.1,96 555.7,94.9 555.1,93.3 554.4,92.3 553.6,90.8 552.8,90.2 551.9,89.1 550.9,88.9 549.9,88.4 548.9,87.5 547.9,88.6 547,89.1 546,90.2 545,90.1 544,89.5 543,88 542.1,87.2 541.1,85 540.1,83.3 539.2,79.5 538.2,75.8 537.2,74.4 536.2,73.2 535.2,71.7 534.3,70.9 533.3,69.8 532.3,69.3 531.3,69 530.4,67.7 529.4,66.6 528.4,65.2 527.5,64.7 526.5,65 525.5,65 524.5,64.9 523.5,63.8 522.6,62.8 521.6,62 520.7,60.7 519.8,59.5 518.8,59.7 517.7,59.1 516.4,60 514.9,60.9 513.3,61.6 512,62.9 510.9,65.2 509.8,66.9 508.9,70 508,72.2 507.2,75.8 506.5,80.5 505.8,83.8 505,88.7 504.2,92.7 503.3,97 502.4,99.5 501.6,103.7 500.8,108.7 500.1,112.7 499.3,116.6 498.4,120.8 497.4,125.6 496.3,129.8 495.2,132.7 494.1,133.9 493.1,132.3 492,129 491,125.5 490,122.3 489,120.2 488,119.4 487,117.1 486.1,116.3 485.2,114.3 484.3,112.7 483.5,111.4 482.6,110.9 481.7,110.1 480.9,110.2 480,110.5 479,110.3 478,110.9 476.9,111.3 475.7,113.1 474.6,113.5 473.5,113.5 472.4,112.4 471.3,111.7 470.1,111.6 468.8,112.1 467.4,111.4 466.1,111.6 464.8,111.5 463.6,110.6 462.5,108.7 461.5,107.9 460.4,105.9 459.3,105.3 458.2,104.9 457.1,103.2 456,101.1 454.9,101.5 453.8,100.8 452.6,99.8 451.5,98.4 450.4,97.8 449.3,97.4 448.2,95.6 447.1,94.8 446,93.5 444.8,92.7 443.7,91.6 442.7,91 441.8,89.8 441.1,89.1 440.4,88.5 440,87.6Z" fill="#8c81c8"/><path d="M440,83.8 440.4,84.6 441.1,85.4 441.8,86.2 442.7,87.3 443.7,88.3 444.8,89.1 446,90.3 447.1,91.3 448.2,92.4 449.3,93.4 450.4,94.3 451.5,95 452.6,96.3 453.8,97.2 454.9,97.9 456,98.7 457.1,100 458.2,101.2 459.3,102.3 460.4,103.5 461.5,104.9 462.5,106.2 463.6,107.6 464.8,108.2 466.1,108.6 467.4,108.5 468.8,108.5 470.1,108.2 471.3,108.6 472.4,109.2 473.5,109.8 474.6,110 475.7,109.7 476.9,108.3 478,107.4 479,106.8 480,106.4 480.9,106 481.7,106.1 482.6,106.5 483.5,107.5 484.3,109.2 485.2,111.2 486.1,112.8 487,113.9 488,115.3 489,116.7 490,118.8 491,121.8 492,125.3 493.1,128.8 494.1,130.1 495.2,128.6 496.3,125.2 497.4,121 498.4,117 499.3,113 500.1,108.2 500.8,104.1 501.6,100.1 502.4,96.2 503.3,92.3 504.2,88.6 505,85.1 505.8,81.3 506.5,77.2 507.2,73.4 508,70.1 508.9,67.3 509.8,64.4 510.9,61.9 512,60 513.3,58.1 514.9,56.9 516.4,56.2 517.7,55.8 518.8,55.9 519.8,56.7 520.7,57.6 521.6,58.4 522.6,59.1 523.5,59.9 524.5,60.8 525.5,61.7 526.5,62 527.5,62.1 528.4,63 529.4,63.4 530.4,64.2 531.3,65 532.3,65.6 533.3,66.5 534.3,67.5 535.2,68.1 536.2,69.4 537.2,70.7 538.2,72.9 539.2,75.8 540.1,78.8 541.1,80.8 542.1,82.6 543,83.9 544,85.1 545,85.7 546,85.8 547,85.4 547.9,84.8 548.9,84.2 549.9,84.4 550.9,84.9 551.9,85.3 552.8,86 553.6,87.1 554.4,88.1 555.1,89.2 555.7,90.7 556.1,92.2 556.4,93.5 556.7,95.3 557.3,99.1 558.3,104.5 559.6,111.2 561,118.3 562.2,124.4 563.2,129.5 564.2,134.6 565.1,138.7 566.1,140.3 567.2,138.6 568.4,134.8 569.6,129.6 570.9,124.4 572.3,118.6 573.8,111.7 575.3,105.1 576.8,99 578.3,94.2 579.9,90 581.4,86.4 582.6,83.6 583.3,82.4 583.6,82 583.9,82 584.8,82.5 586.4,82.8 588.3,83.5 590.5,84.1 592.6,84.6 594.6,85 596.5,85.1 598.5,85.2 600.4,85.9 602.4,86.5 604.3,87.5 606.3,88.5 608.2,89.2 610.2,89.8 612.2,89.8 614.2,89.6 616,89.6 617.6,87.8 619.1,85.7 620.5,83.6 621.8,82.6 622.9,82.8 623.9,84 624.8,85.8 625.7,88 626.7,90 627.7,93.2 628.6,96.2 629.6,99.4 630.6,102.8 631.5,106.4 632.5,109.9 633.5,113 634.5,115.6 635.4,117.5 636.4,118.9 637.5,119.1 638.6,117.5 639.8,114.6 641.1,110.8 642.3,107.1 643.5,102.6 644.7,97.6 646,92.2 647.2,87.6 648.4,83.2 649.5,79.4 650.7,75.6 652.1,71.8 653.7,67.4 655.4,62.7 657.2,58.5 658.9,55.5 660.4,54.6 661.9,55.2 663.4,56.2 664.8,56.2 666.3,55.3 667.8,53.6 669.3,51.7 670.6,50.4 671.8,49.6 672.9,48.5 673.8,47.7 674.5,47.5" fill="none" stroke="#8c81c8" stroke-width="2.8" stroke-linejoin="round"/></g>
<path d="M440,83.8 440.4,84.6 441.1,85.4 441.8,86.2 442.7,87.3 443.7,88.3 444.8,89.1 446,90.3 447.1,91.3 448.2,92.4 449.3,93.4 450.4,94.3 451.5,95 452.6,96.3 453.8,97.2 454.9,97.9 456,98.7 457.1,100 458.2,101.2 459.3,102.3 460.4,103.5 461.5,104.9 462.5,106.2 463.6,107.6 464.8,108.2 466.1,108.6 467.4,108.5 468.8,108.5 470.1,108.2 471.3,108.6 472.4,109.2 473.5,109.8 474.6,110 475.7,109.7 476.9,108.3 478,107.4 479,106.8 480,106.4 480.9,106 481.7,106.1 482.6,106.5 483.5,107.5 484.3,109.2 485.2,111.2 486.1,112.8 487,113.9 488,115.3 489,116.7 490,118.8 491,121.8 492,125.3 493.1,128.8 494.1,130.1 495.2,128.6 496.3,125.2 497.4,121 498.4,117 499.3,113 500.1,108.2 500.8,104.1 501.6,100.1 502.4,96.2 503.3,92.3 504.2,88.6 505,85.1 505.8,81.3 506.5,77.2 507.2,73.4 508,70.1 508.9,67.3 509.8,64.4 510.9,61.9 512,60 513.3,58.1 514.9,56.9 516.4,56.2 517.7,55.8 518.8,55.9 519.8,56.7 520.7,57.6 521.6,58.4 522.6,59.1 523.5,59.9 524.5,60.8 525.5,61.7 526.5,62 527.5,62.1 528.4,63 529.4,63.4 530.4,64.2 531.3,65 532.3,65.6 533.3,66.5 534.3,67.5 535.2,68.1 536.2,69.4 537.2,70.7 538.2,72.9 539.2,75.8 540.1,78.8 541.1,80.8 542.1,82.6 543,83.9 544,85.1 545,85.7 546,85.8 547,85.4 547.9,84.8 548.9,84.2 549.9,84.4 550.9,84.9 551.9,85.3 552.8,86 553.6,87.1 554.4,88.1 555.1,89.2 555.7,90.7 556.1,92.2 556.4,93.5 556.7,95.3 557.3,99.1 558.3,104.5 559.6,111.2 561,118.3 562.2,124.4 563.2,129.5 564.2,134.6 565.1,138.7 566.1,140.3 567.2,138.6 568.4,134.8 569.6,129.6 570.9,124.4 572.3,118.6 573.8,111.7 575.3,105.1 576.8,99 578.3,94.2 579.9,90 581.4,86.4 582.6,83.6 583.3,82.4 583.6,82 583.9,82 584.8,82.5 586.4,82.8 588.3,83.5 590.5,84.1 592.6,84.6 594.6,85 596.5,85.1 598.5,85.2 600.4,85.9 602.4,86.5 604.3,87.5 606.3,88.5 608.2,89.2 610.2,89.8 612.2,89.8 614.2,89.6 616,89.6 617.6,87.8 619.1,85.7 620.5,83.6 621.8,82.6 622.9,82.8 623.9,84 624.8,85.8 625.7,88 626.7,90 627.7,93.2 628.6,96.2 629.6,99.4 630.6,102.8 631.5,106.4 632.5,109.9 633.5,113 634.5,115.6 635.4,117.5 636.4,118.9 637.5,119.1 638.6,117.5 639.8,114.6 641.1,110.8 642.3,107.1 643.5,102.6 644.7,97.6 646,92.2 647.2,87.6 648.4,83.2 649.5,79.4 650.7,75.6 652.1,71.8 653.7,67.4 655.4,62.7 657.2,58.5 658.9,55.5 660.4,54.6 661.9,55.2 663.4,56.2 664.8,56.2 666.3,55.3 667.8,53.6 669.3,51.7 670.6,50.4 671.8,49.6 672.9,48.5 673.8,47.7 674.5,47.5" fill="none" stroke="#6353b2" stroke-width="0.8"/>
<g opacity="0.88"><path d="M440,85.1 440.9,85.5 442.2,86.1 443.6,87.6 445,88.2 446.2,88.9 447.4,90.7 448.7,91.8 450,92.4 451.4,93.8 452.9,95 454.5,95.7 456,97.1 457.5,98.8 459.1,99.9 460.6,100.8 462,102.3 463.3,104 464.6,106 465.8,107.4 467,108 468,109.8 469,112.2 470,114.8 471,116 472.2,116.8 473.5,118 474.8,119.4 476,119.7 477.1,120.8 478.1,121.4 479.1,121.6 480,120.2 480.9,119.4 481.8,116.1 482.7,114.2 483.5,111.8 484.2,111.2 484.8,112.4 485.4,113.5 486.1,114.3 487,114.1 487.9,116 488.9,116.9 489.9,118.2 490.9,119 491.9,119.2 493,120 494.1,120.1 495.4,117.2 496.8,114.2 498.2,110.7 499.5,106.8 500.7,104.4 501.8,101.8 502.8,98.8 503.7,95.6 504.4,92.3 504.9,89 505.4,85.4 506,80.5 506.7,74.7 507.4,70.6 508.2,65.2 508.9,61 509.6,58.4 510.4,55.8 511.1,55.4 511.8,54.7 512.4,52.9 513,53.3 513.6,53.5 514.3,53.4 515.1,53.2 515.9,55 516.8,55.2 517.7,56.3 518.6,57.9 519.6,59.1 520.6,60.7 521.6,62.3 522.6,64.4 523.5,64.5 524.5,65.1 525.5,65.3 526.5,66.3 527.5,66.8 528.4,66.7 529.4,66.7 530.4,66.3 531.3,67 532.3,67.3 533.3,67.9 534.3,67.8 535.2,69.1 536.2,70.5 537.2,71 538.2,71.4 539.2,73 540.1,72.8 541.1,73.2 542.1,73.3 543.1,73.6 544.1,75.5 545,75.5 545.8,75.6 546.5,75.3 547.2,75.3 547.9,74.2 548.6,73.5 549.4,73.2 550.2,72.7 550.9,72.9 551.6,72.1 552.3,72.5 553,74.1 553.8,76.8 554.6,79.4 555.4,83 556.3,86.9 557.3,91.1 558.4,97.1 559.7,103.6 561,109.8 562.2,115 563.2,119.5 564.2,123.8 565.1,126.7 566.1,128.2 567.2,126.8 568.4,124.1 569.6,119 570.9,114.1 572.3,108.9 573.8,103.6 575.3,98 576.8,93 578.3,90.7 579.8,88.8 581.3,86.8 582.6,86.2 583.7,85.6 584.5,85.1 585.5,85.5 586.7,85.5 588.4,85.8 590.4,85.9 592.5,85.6 594.5,85.2 596.5,85.5 598.4,87 600.3,87.7 602.3,88.9 604.2,88.5 606.2,88.4 608.1,89.3 610.1,89.2 612.1,89.3 614.1,88.3 616.1,87.5 617.9,87.8 619.5,88.2 621,87 622.4,86.5 623.8,87.7 625.3,89.7 626.7,92.6 628.1,95.4 629.6,98.8 631.1,102.7 632.7,107.2 634.2,110.3 635.5,113.4 636.6,113.6 637.5,114.8 638.3,115.4 639.4,113.7 640.7,109.8 642.2,104.7 643.8,99.2 645.3,93.7 646.8,88.7 648.2,82.7 649.6,76.7 651.1,72.4 652.6,69.1 654.1,64.8 655.5,62.6 657,60.2 658.5,57.9 659.9,55 661.3,54.8 662.8,53.8 664.3,52.7 665.7,51.1 667.2,50.3 668.7,49.2 670.3,49.4 672,49.3 673.5,49.3 674.5,48.9 674.5,56 673.5,55.5 672,56.5 670.3,57.3 668.7,59.1 667.2,59 665.7,59.6 664.3,60.8 662.8,62.2 661.3,64.1 659.9,66 658.5,65.9 657,67.9 655.5,70.7 654.1,73.1 652.6,75.5 651.1,78.8 649.6,83.7 648.2,89.4 646.8,94.5 645.3,100.7 643.8,106.4 642.2,111.8 640.7,116.7 639.4,119.9 638.3,122.6 637.5,122.6 636.6,122.4 635.5,119.9 634.2,118.6 632.7,114.4 631.1,110.8 629.6,106.6 628.1,103.3 626.7,99.8 625.3,96.7 623.8,95.6 622.4,95 621,95.1 619.5,94.3 617.9,94.8 616.1,95.2 614.1,95.9 612.1,95.9 610.1,97.1 608.1,96.7 606.2,97.5 604.2,97.6 602.3,96.4 600.3,96 598.4,94.5 596.5,92.8 594.5,91.8 592.5,91.2 590.4,91.7 588.4,92.6 586.7,93 585.5,92.9 584.5,92.7 583.7,92.1 582.6,92.4 581.3,94.3 579.8,95.2 578.3,97.1 576.8,100.2 575.3,104.7 573.8,110.6 572.3,116.5 570.9,121.5 569.6,126 568.4,130.2 567.2,134.6 566.1,136.6 565.1,134.9 564.2,131.4 563.2,126.3 562.2,120.5 561,114.8 559.7,109.4 558.4,103.8 557.3,99.2 556.3,94 555.4,90.1 554.6,86.7 553.8,83.6 553,81.4 552.3,80.5 551.6,79.7 550.9,78.5 550.2,79.6 549.4,80.2 548.6,81.2 547.9,82.3 547.2,81.4 546.5,81.8 545.8,81.7 545,81.3 544.1,81.2 543.1,81.6 542.1,80.5 541.1,79.6 540.1,78.9 539.2,77.8 538.2,78.2 537.2,77.6 536.2,76 535.2,76.4 534.3,76.2 533.3,75.7 532.3,75 531.3,74.8 530.4,74.6 529.4,73.7 528.4,74.3 527.5,73.9 526.5,73.5 525.5,73.6 524.5,73 523.5,72 522.6,70.4 521.6,70.5 520.6,69.1 519.6,66.9 518.6,64.5 517.7,63 516.8,61.7 515.9,60.2 515.1,60.8 514.3,59.8 513.6,59.7 513,60.4 512.4,61.6 511.8,60.7 511.1,61.7 510.4,64.2 509.6,65.6 508.9,68.2 508.2,72.1 507.4,77 506.7,83.5 506,88.1 505.4,91.9 504.9,96.4 504.4,100.2 503.7,103.9 502.8,106.7 501.8,108.7 500.7,111 499.5,114.7 498.2,117.4 496.8,121.3 495.4,124.7 494.1,126.7 493,128.2 491.9,127.7 490.9,126 489.9,124.8 488.9,124.3 487.9,123.8 487,123.1 486.1,121.6 485.4,121 484.8,120.1 484.2,119.8 483.5,119.5 482.7,121.2 481.8,124.1 480.9,126.2 480,128.9 479.1,128.5 478.1,128 477.1,128.3 476,128.2 474.8,128 473.5,127 472.2,126.3 471,124.6 470,122.2 469,120.3 468,118.9 467,116.3 465.8,114.2 464.6,112.3 463.3,111.1 462,110.2 460.6,108.5 459.1,106.3 457.5,104.5 456,103.2 454.5,102.9 452.9,101.5 451.4,100.5 450,99.4 448.7,98.2 447.4,97.3 446.2,96.3 445,95.6 443.6,94.7 442.2,93.6 440.9,92.1 440,91.8Z" fill="#a8aee0"/><path d="M440,88.4 440.9,88.8 442.2,89.8 443.6,91.2 445,91.9 446.2,92.6 447.4,94 448.7,95 450,95.9 451.4,97.2 452.9,98.3 454.5,99.3 456,100.2 457.5,101.7 459.1,103.1 460.6,104.6 462,106.2 463.3,107.5 464.6,109.2 465.8,110.8 467,112.2 468,114.3 469,116.3 470,118.5 471,120.3 472.2,121.5 473.5,122.5 474.8,123.7 476,124 477.1,124.6 478.1,124.7 479.1,125.1 480,124.6 480.9,122.8 481.8,120.1 482.7,117.7 483.5,115.6 484.2,115.5 484.8,116.3 485.4,117.2 486.1,118 487,118.6 487.9,119.9 488.9,120.6 489.9,121.5 490.9,122.5 491.9,123.4 493,124.1 494.1,123.4 495.4,121 496.8,117.7 498.2,114.1 499.5,110.7 500.7,107.7 501.8,105.2 502.8,102.7 503.7,99.8 504.4,96.3 504.9,92.7 505.4,88.6 506,84.3 506.7,79.1 507.4,73.8 508.2,68.7 508.9,64.6 509.6,62 510.4,60 511.1,58.5 511.8,57.7 512.4,57.2 513,56.9 513.6,56.6 514.3,56.6 515.1,57 515.9,57.6 516.8,58.5 517.7,59.6 518.6,61.2 519.6,63 520.6,64.9 521.6,66.4 522.6,67.4 523.5,68.2 524.5,69 525.5,69.4 526.5,69.9 527.5,70.3 528.4,70.5 529.4,70.2 530.4,70.4 531.3,70.9 532.3,71.2 533.3,71.8 534.3,72 535.2,72.7 536.2,73.3 537.2,74.3 538.2,74.8 539.2,75.4 540.1,75.8 541.1,76.4 542.1,76.9 543.1,77.6 544.1,78.3 545,78.4 545.8,78.6 546.5,78.6 547.2,78.4 547.9,78.3 548.6,77.3 549.4,76.7 550.2,76.2 550.9,75.7 551.6,75.9 552.3,76.5 553,77.7 553.8,80.2 554.6,83 555.4,86.5 556.3,90.5 557.3,95.1 558.4,100.5 559.7,106.5 561,112.3 562.2,117.8 563.2,122.9 564.2,127.6 565.1,130.8 566.1,132.4 567.2,130.7 568.4,127.1 569.6,122.5 570.9,117.8 572.3,112.7 573.8,107.1 575.3,101.4 576.8,96.6 578.3,93.9 579.8,92 581.3,90.5 582.6,89.3 583.7,88.8 584.5,88.9 585.5,89.2 586.7,89.2 588.4,89.2 590.4,88.8 592.5,88.4 594.5,88.5 596.5,89.1 598.4,90.8 600.3,91.8 602.3,92.6 604.2,93 606.2,93 608.1,93 610.1,93.2 612.1,92.6 614.1,92.1 616.1,91.3 617.9,91.3 619.5,91.3 621,91 622.4,90.7 623.8,91.7 625.3,93.2 626.7,96.2 628.1,99.4 629.6,102.7 631.1,106.8 632.7,110.8 634.2,114.5 635.5,116.7 636.6,118 637.5,118.7 638.3,119 639.4,116.8 640.7,113.3 642.2,108.2 643.8,102.8 645.3,97.2 646.8,91.6 648.2,86 649.6,80.2 651.1,75.6 652.6,72.3 654.1,69 655.5,66.7 657,64.1 658.5,61.9 659.9,60.5 661.3,59.5 662.8,58 664.3,56.7 665.7,55.4 667.2,54.7 668.7,54.1 670.3,53.3 672,52.9 673.5,52.4 674.5,52.4" fill="none" stroke="#a8aee0" stroke-width="2.8" stroke-linejoin="round"/></g>
<path d="M440,88.4 440.9,88.8 442.2,89.8 443.6,91.2 445,91.9 446.2,92.6 447.4,94 448.7,95 450,95.9 451.4,97.2 452.9,98.3 454.5,99.3 456,100.2 457.5,101.7 459.1,103.1 460.6,104.6 462,106.2 463.3,107.5 464.6,109.2 465.8,110.8 467,112.2 468,114.3 469,116.3 470,118.5 471,120.3 472.2,121.5 473.5,122.5 474.8,123.7 476,124 477.1,124.6 478.1,124.7 479.1,125.1 480,124.6 480.9,122.8 481.8,120.1 482.7,117.7 483.5,115.6 484.2,115.5 484.8,116.3 485.4,117.2 486.1,118 487,118.6 487.9,119.9 488.9,120.6 489.9,121.5 490.9,122.5 491.9,123.4 493,124.1 494.1,123.4 495.4,121 496.8,117.7 498.2,114.1 499.5,110.7 500.7,107.7 501.8,105.2 502.8,102.7 503.7,99.8 504.4,96.3 504.9,92.7 505.4,88.6 506,84.3 506.7,79.1 507.4,73.8 508.2,68.7 508.9,64.6 509.6,62 510.4,60 511.1,58.5 511.8,57.7 512.4,57.2 513,56.9 513.6,56.6 514.3,56.6 515.1,57 515.9,57.6 516.8,58.5 517.7,59.6 518.6,61.2 519.6,63 520.6,64.9 521.6,66.4 522.6,67.4 523.5,68.2 524.5,69 525.5,69.4 526.5,69.9 527.5,70.3 528.4,70.5 529.4,70.2 530.4,70.4 531.3,70.9 532.3,71.2 533.3,71.8 534.3,72 535.2,72.7 536.2,73.3 537.2,74.3 538.2,74.8 539.2,75.4 540.1,75.8 541.1,76.4 542.1,76.9 543.1,77.6 544.1,78.3 545,78.4 545.8,78.6 546.5,78.6 547.2,78.4 547.9,78.3 548.6,77.3 549.4,76.7 550.2,76.2 550.9,75.7 551.6,75.9 552.3,76.5 553,77.7 553.8,80.2 554.6,83 555.4,86.5 556.3,90.5 557.3,95.1 558.4,100.5 559.7,106.5 561,112.3 562.2,117.8 563.2,122.9 564.2,127.6 565.1,130.8 566.1,132.4 567.2,130.7 568.4,127.1 569.6,122.5 570.9,117.8 572.3,112.7 573.8,107.1 575.3,101.4 576.8,96.6 578.3,93.9 579.8,92 581.3,90.5 582.6,89.3 583.7,88.8 584.5,88.9 585.5,89.2 586.7,89.2 588.4,89.2 590.4,88.8 592.5,88.4 594.5,88.5 596.5,89.1 598.4,90.8 600.3,91.8 602.3,92.6 604.2,93 606.2,93 608.1,93 610.1,93.2 612.1,92.6 614.1,92.1 616.1,91.3 617.9,91.3 619.5,91.3 621,91 622.4,90.7 623.8,91.7 625.3,93.2 626.7,96.2 628.1,99.4 629.6,102.7 631.1,106.8 632.7,110.8 634.2,114.5 635.5,116.7 636.6,118 637.5,118.7 638.3,119 639.4,116.8 640.7,113.3 642.2,108.2 643.8,102.8 645.3,97.2 646.8,91.6 648.2,86 649.6,80.2 651.1,75.6 652.6,72.3 654.1,69 655.5,66.7 657,64.1 658.5,61.9 659.9,60.5 661.3,59.5 662.8,58 664.3,56.7 665.7,55.4 667.2,54.7 668.7,54.1 670.3,53.3 672,52.9 673.5,52.4 674.5,52.4" fill="none" stroke="#8a91d2" stroke-width="0.8"/>
<g opacity="0.88"><path d="M440,81.8 440.3,81.6 440.8,80.5 441.3,79.7 442,81.3 442.9,82.2 443.9,84.5 445,87 446,88.5 447,90.8 448,92.2 449,94.2 450,96.1 450.8,98.7 451.6,102.4 452.4,104.1 453.3,106.7 454.4,107.8 455.5,110.2 456.8,111.2 458,111.8 459.2,112.6 460.4,113.3 461.7,114 463,114.5 464.5,115.8 466.1,116.3 467.7,117.5 469.3,117.8 470.8,117.7 472.2,117.6 473.6,117.6 475,117.5 476.3,117.3 477.6,117.3 478.9,116 480,115.7 480.9,116 481.7,116.7 482.5,117.4 483.5,118.6 484.9,120.9 486.6,124.4 488.3,128.1 489.9,132.6 491.3,136.8 492.7,140.5 494,143.2 495.2,144.2 496.3,141.9 497.4,136.9 498.5,132.5 499.5,128.8 500.6,124.3 501.7,120 502.7,115.1 503.7,111.1 504.6,108 505.4,102.7 506.2,98.9 506.9,95.3 507.5,92 508,89.5 508.5,86.4 509,83.5 509.6,81.3 510.3,79.6 511.1,77.5 511.8,75.3 512.5,75.1 513.2,75.1 514,75.3 514.8,74.5 515.7,74.8 516.7,74.5 517.7,73.8 518.7,75.2 519.7,76.5 520.7,78.1 521.6,79.8 522.6,80.4 523.6,82.9 524.5,83.1 525.5,83.9 526.5,84.3 527.5,86 528.5,86.9 529.5,88.2 530.4,90.1 531.1,91.1 531.8,92.1 532.5,93.2 533.3,94.5 534.4,97.4 535.6,101.9 537,105.2 538.3,108.4 539.7,110.3 541.2,111.5 542.6,112.2 544,112.9 545.3,114 546.5,113.6 547.7,114.5 548.9,114.7 550,115.2 551,116.5 552,118.1 553.2,120.5 554.7,125.1 556.3,131 558,136.2 559.6,141.2 561.2,146.7 562.9,151.3 564.5,155.2 566,157.4 567.3,155 568.5,151.7 569.6,147 570.9,142.8 572.3,137.6 573.8,132.3 575.3,127.6 576.8,122.9 578.3,117.3 579.7,111.8 581.1,108 582.6,105.5 584.1,102.9 585.6,101.3 587,99.1 588.5,98.5 590,98 591.5,99.4 593,100.2 594.3,100.4 595.4,100.7 596.2,100.8 597.2,101.2 598.4,102.4 600.1,103.4 602.1,104.4 604.2,105.2 606.2,105 608.2,104.2 610.1,105.4 612.1,104.4 614,104.1 616,101.3 618,96.6 620,93.3 621.8,91.7 623.4,91.3 624.9,92.4 626.3,94.8 627.7,97.5 629.2,100.1 630.7,104.2 632.2,108.6 633.5,112 634.6,115.4 635.6,119 636.5,119.9 637.5,120.4 638.6,120.2 639.8,118.6 641,115.8 642.3,111.3 643.7,104.7 645.2,97.9 646.7,91.5 648.2,85.4 649.7,79.9 651.1,75.4 652.5,72.6 654,69.9 655.5,69.1 656.9,67.4 658.4,66.9 659.9,66 661.4,66.8 662.9,68 664.3,69.6 665.8,70.5 667.3,71.8 668.9,72.9 670.4,74.9 671.6,75.5 672.6,76.1 673.4,76.1 674,77.2 674.5,77.5 674.5,85.1 674,85.3 673.4,85.5 672.6,85.1 671.6,84.1 670.4,81.6 668.9,80.4 667.3,79.1 665.8,77.9 664.3,76.6 662.9,75.6 661.4,74 659.9,73.4 658.4,73.2 656.9,73.6 655.5,74.5 654,77.5 652.5,80.4 651.1,84.2 649.7,88.5 648.2,92.9 646.7,98.9 645.2,106.9 643.7,113.9 642.3,118.6 641,121.8 639.8,125.1 638.6,126.7 637.5,128.2 636.5,127 635.6,124.8 634.6,122.9 633.5,120.6 632.2,116.9 630.7,112.9 629.2,108.3 627.7,104.7 626.3,102.8 624.9,100.1 623.4,99.1 621.8,98.9 620,101.2 618,105.1 616,107.5 614,109.9 612.1,111.3 610.1,111.4 608.2,112.3 606.2,111.3 604.2,111.4 602.1,110.9 600.1,109.6 598.4,109.2 597.2,109.1 596.2,109 595.4,108 594.3,107.9 593,106.7 591.5,105.8 590,105.9 588.5,105.4 587,106.6 585.6,107.2 584.1,109.6 582.6,112.6 581.1,117.1 579.7,122 578.3,126 576.8,129.9 575.3,135 573.8,140.1 572.3,145.2 570.9,149.5 569.6,154 568.5,158.2 567.3,161.8 566,162.6 564.5,161.7 562.9,158.4 561.2,154 559.6,149.7 558,144.4 556.3,137.4 554.7,132 553.2,128 552,124.8 551,123.5 550,123.2 548.9,122.2 547.7,120.5 546.5,121.6 545.3,121 544,120.9 542.6,119.9 541.2,117.3 539.7,115.8 538.3,114.4 537,111.6 535.6,107.7 534.4,105.3 533.3,102.9 532.5,100.8 531.8,99.1 531.1,98.1 530.4,97 529.5,96.5 528.5,95.6 527.5,94.8 526.5,92.9 525.5,90.8 524.5,89.5 523.6,87.8 522.6,88.1 521.6,85.9 520.7,84.9 519.7,84 518.7,83.3 517.7,82.9 516.7,82.4 515.7,82 514.8,82.2 514,81.6 513.2,81.3 512.5,81.8 511.8,82.6 511.1,83 510.3,85.4 509.6,88.9 509,92.1 508.5,94.9 508,97.2 507.5,100.5 506.9,104 506.2,107.5 505.4,110.5 504.6,113.1 503.7,118.3 502.7,122.5 501.7,126.9 500.6,130.7 499.5,134.8 498.5,140 497.4,145.5 496.3,148.3 495.2,149.6 494,149.2 492.7,147.1 491.3,143.2 489.9,139.7 488.3,136.6 486.6,131.9 484.9,127.5 483.5,123.6 482.5,122.2 481.7,122 480.9,122 480,122.6 478.9,123 477.6,123 476.3,124.3 475,125.1 473.6,125.8 472.2,126.1 470.8,126.6 469.3,126.9 467.7,126.1 466.1,125.3 464.5,124.6 463,123.4 461.7,122 460.4,121.2 459.2,119.7 458,118.3 456.8,117 455.5,116 454.4,116 453.3,112.9 452.4,111.5 451.6,108.5 450.8,106.2 450,103.6 449,100.8 448,99.5 447,96.9 446,95 445,92.8 443.9,90.9 442.9,89.1 442,86.7 441.3,87.8 440.8,87.7 440.3,86.9 440,88Z" fill="#82c8e8"/><path d="M440,84.9 440.3,84.3 440.8,84.1 441.3,83.8 442,84 442.9,85.6 443.9,87.7 445,89.9 446,91.7 447,93.9 448,95.8 449,97.5 450,99.8 450.8,102.4 451.6,105.4 452.4,107.8 453.3,109.8 454.4,111.9 455.5,113.1 456.8,114.1 458,115.1 459.2,116.2 460.4,117.3 461.7,118 463,119 464.5,120.2 466.1,120.8 467.7,121.8 469.3,122.4 470.8,122.1 472.2,121.9 473.6,121.7 475,121.3 476.3,120.8 477.6,120.2 478.9,119.5 480,119.1 480.9,119 481.7,119.4 482.5,119.8 483.5,121.1 484.9,124.2 486.6,128.2 488.3,132.3 489.9,136.2 491.3,140 492.7,143.8 494,146.2 495.2,146.9 496.3,145.1 497.4,141.2 498.5,136.2 499.5,131.8 500.6,127.5 501.7,123.4 502.7,118.8 503.7,114.7 504.6,110.5 505.4,106.6 506.2,103.2 506.9,99.6 507.5,96.3 508,93.4 508.5,90.7 509,87.8 509.6,85.1 510.3,82.5 511.1,80.2 511.8,78.9 512.5,78.5 513.2,78.2 514,78.4 514.8,78.4 515.7,78.4 516.7,78.5 517.7,78.3 518.7,79.2 519.7,80.2 520.7,81.5 521.6,82.8 522.6,84.3 523.6,85.3 524.5,86.3 525.5,87.3 526.5,88.6 527.5,90.4 528.5,91.3 529.5,92.3 530.4,93.6 531.1,94.6 531.8,95.6 532.5,97 533.3,98.7 534.4,101.4 535.6,104.8 537,108.4 538.3,111.4 539.7,113 541.2,114.4 542.6,116 544,116.9 545.3,117.5 546.5,117.6 547.7,117.5 548.9,118.5 550,119.2 551,120 552,121.5 553.2,124.3 554.7,128.5 556.3,134.2 558,140.3 559.6,145.4 561.2,150.3 562.9,154.9 564.5,158.4 566,160 567.3,158.4 568.5,155 569.6,150.5 570.9,146.2 572.3,141.4 573.8,136.2 575.3,131.3 576.8,126.4 578.3,121.7 579.7,116.9 581.1,112.6 582.6,109 584.1,106.3 585.6,104.2 587,102.9 588.5,101.9 590,101.9 591.5,102.6 593,103.5 594.3,104.2 595.4,104.3 596.2,104.9 597.2,105.1 598.4,105.8 600.1,106.5 602.1,107.6 604.2,108.3 606.2,108.2 608.2,108.3 610.1,108.4 612.1,107.9 614,107 616,104.4 618,100.8 620,97.3 621.8,95.3 623.4,95.2 624.9,96.2 626.3,98.8 627.7,101.1 629.2,104.2 630.7,108.5 632.2,112.7 633.5,116.3 634.6,119.1 635.6,121.9 636.5,123.5 637.5,124.3 638.6,123.5 639.8,121.8 641,118.8 642.3,115 643.7,109.3 645.2,102.4 646.7,95.2 648.2,89.1 649.7,84.2 651.1,79.8 652.5,76.5 654,73.7 655.5,71.8 656.9,70.5 658.4,70 659.9,69.7 661.4,70.4 662.9,71.8 664.3,73.1 665.8,74.2 667.3,75.5 668.9,76.7 670.4,78.3 671.6,79.8 672.6,80.6 673.4,80.8 674,81.2 674.5,81.3" fill="none" stroke="#82c8e8" stroke-width="2.8" stroke-linejoin="round"/></g>
<path d="M440,84.9 440.3,84.3 440.8,84.1 441.3,83.8 442,84 442.9,85.6 443.9,87.7 445,89.9 446,91.7 447,93.9 448,95.8 449,97.5 450,99.8 450.8,102.4 451.6,105.4 452.4,107.8 453.3,109.8 454.4,111.9 455.5,113.1 456.8,114.1 458,115.1 459.2,116.2 460.4,117.3 461.7,118 463,119 464.5,120.2 466.1,120.8 467.7,121.8 469.3,122.4 470.8,122.1 472.2,121.9 473.6,121.7 475,121.3 476.3,120.8 477.6,120.2 478.9,119.5 480,119.1 480.9,119 481.7,119.4 482.5,119.8 483.5,121.1 484.9,124.2 486.6,128.2 488.3,132.3 489.9,136.2 491.3,140 492.7,143.8 494,146.2 495.2,146.9 496.3,145.1 497.4,141.2 498.5,136.2 499.5,131.8 500.6,127.5 501.7,123.4 502.7,118.8 503.7,114.7 504.6,110.5 505.4,106.6 506.2,103.2 506.9,99.6 507.5,96.3 508,93.4 508.5,90.7 509,87.8 509.6,85.1 510.3,82.5 511.1,80.2 511.8,78.9 512.5,78.5 513.2,78.2 514,78.4 514.8,78.4 515.7,78.4 516.7,78.5 517.7,78.3 518.7,79.2 519.7,80.2 520.7,81.5 521.6,82.8 522.6,84.3 523.6,85.3 524.5,86.3 525.5,87.3 526.5,88.6 527.5,90.4 528.5,91.3 529.5,92.3 530.4,93.6 531.1,94.6 531.8,95.6 532.5,97 533.3,98.7 534.4,101.4 535.6,104.8 537,108.4 538.3,111.4 539.7,113 541.2,114.4 542.6,116 544,116.9 545.3,117.5 546.5,117.6 547.7,117.5 548.9,118.5 550,119.2 551,120 552,121.5 553.2,124.3 554.7,128.5 556.3,134.2 558,140.3 559.6,145.4 561.2,150.3 562.9,154.9 564.5,158.4 566,160 567.3,158.4 568.5,155 569.6,150.5 570.9,146.2 572.3,141.4 573.8,136.2 575.3,131.3 576.8,126.4 578.3,121.7 579.7,116.9 581.1,112.6 582.6,109 584.1,106.3 585.6,104.2 587,102.9 588.5,101.9 590,101.9 591.5,102.6 593,103.5 594.3,104.2 595.4,104.3 596.2,104.9 597.2,105.1 598.4,105.8 600.1,106.5 602.1,107.6 604.2,108.3 606.2,108.2 608.2,108.3 610.1,108.4 612.1,107.9 614,107 616,104.4 618,100.8 620,97.3 621.8,95.3 623.4,95.2 624.9,96.2 626.3,98.8 627.7,101.1 629.2,104.2 630.7,108.5 632.2,112.7 633.5,116.3 634.6,119.1 635.6,121.9 636.5,123.5 637.5,124.3 638.6,123.5 639.8,121.8 641,118.8 642.3,115 643.7,109.3 645.2,102.4 646.7,95.2 648.2,89.1 649.7,84.2 651.1,79.8 652.5,76.5 654,73.7 655.5,71.8 656.9,70.5 658.4,70 659.9,69.7 661.4,70.4 662.9,71.8 664.3,73.1 665.8,74.2 667.3,75.5 668.9,76.7 670.4,78.3 671.6,79.8 672.6,80.6 673.4,80.8 674,81.2 674.5,81.3" fill="none" stroke="#4cafdf" stroke-width="0.8"/>
<g opacity="0.88"><path d="M440,87.5 440.9,88.4 442.2,90.1 443.6,90.6 445,92.6 446.2,92.9 447.4,94.2 448.7,94.9 450,96.6 451.4,98 452.9,98.9 454.5,99.8 456,100.5 457.5,101.2 459.1,102.8 460.6,104.4 462,105.9 463.3,105.7 464.6,106.2 465.8,107.2 467,107.6 468,108.1 469,108.5 470,108.5 471,109 472.2,108.7 473.5,108.9 474.8,110 476,110.2 477.1,110.6 478.1,111.6 479.1,112.4 480,113 480.8,114 481.6,114.6 482.4,115.8 483.5,117.9 484.9,122.3 486.7,127.6 488.4,132.8 489.9,139.3 491.1,145.4 492.1,150 493.1,153.8 494.1,155.8 495.2,154.4 496.2,151.2 497.3,147.2 498.4,143.3 499.5,138.8 500.7,135.7 501.8,130 502.7,126.1 503.4,121.9 504,116.9 504.5,111.3 505,106.5 505.6,101.8 506.2,98.2 506.8,95.4 507.5,92 508.3,89.3 509.2,86.4 510.1,84.2 510.9,81.7 511.7,81.4 512.4,81 513.1,80.3 513.8,81.6 514.5,81.9 515.2,82.5 515.9,84.3 516.7,85.3 517.6,85.8 518.7,88.4 519.7,89.9 520.6,91.3 521.3,92.6 522,94.2 522.7,94.9 523.5,96.5 524.6,98.1 525.8,101.1 527.1,103.6 528.4,105.8 529.7,108.6 531.1,109.8 532.6,111 534,113.6 535.4,116.2 536.8,119.6 538.3,122.2 539.7,125.4 541.2,127.3 542.6,129.3 544.1,131.1 545.4,131.8 546.6,131.4 547.6,130 548.6,129.3 549.6,128.4 550.6,130.3 551.7,131.4 552.7,133 553.9,135.7 555.2,137.6 556.6,140.4 558.1,143.8 559.6,147.3 561.2,151.1 562.9,156.4 564.6,160.7 566.1,162 567.4,161.2 568.5,157.5 569.7,152.6 570.9,147.8 572.3,142.7 573.8,137.2 575.3,132.9 576.8,127 578.3,121.3 579.7,116.2 581.1,111.3 582.6,106.8 584.1,103.6 585.6,100.2 587,97.7 588.5,95.2 590,93.2 591.4,92.6 592.9,91.5 594.3,91.1 595.8,90.8 597.4,91.7 598.8,91.8 600,92.2 600.7,93.1 601,93.5 601.4,94.7 602.3,96 603.9,97.5 606,98.4 608.2,99.5 610.1,99.2 611.7,99.3 613.1,99.8 614.5,99.6 616,99.6 617.7,96.7 619.5,94.1 621.2,92.1 622.8,91.1 624.2,92.1 625.4,92.9 626.5,95 627.7,97.1 628.9,100.8 630.2,104.3 631.4,108.1 632.6,111.6 633.6,115 634.5,117.4 635.5,118.2 636.5,119.1 637.6,117.1 638.8,115.7 640.1,112.9 641.4,109.1 642.8,104.6 644.2,99.1 645.7,95.2 647.2,89.9 648.7,84.1 650.1,78.8 651.6,73.4 653.1,68.1 654.6,65.1 656,63.1 657.4,61.7 658.9,60 660.4,60.3 661.8,61.6 663.3,62.9 664.8,63.9 666.3,65.5 667.8,67 669.3,68.2 670.6,69 671.8,69.7 672.9,70.1 673.8,70.8 674.5,70.3 674.5,77.5 673.8,76.2 672.9,75.6 671.8,76 670.6,75.3 669.3,74.5 667.8,73.6 666.3,72.6 664.8,71.5 663.3,70.4 661.8,69.2 660.4,68.1 658.9,67.8 657.4,67.6 656,69.1 654.6,72.1 653.1,75.6 651.6,79.2 650.1,84.8 648.7,91.2 647.2,97.1 645.7,101.6 644.2,108 642.8,112.3 641.4,116.1 640.1,119.5 638.8,122.7 637.6,125.6 636.5,125.4 635.5,124.9 634.5,122.7 633.6,120.5 632.6,118.2 631.4,115.5 630.2,111.4 628.9,107.3 627.7,104.8 626.5,102 625.4,99.1 624.2,96.9 622.8,97.2 621.2,98.1 619.5,100.9 617.7,105.1 616,106.5 614.5,108.7 613.1,108.7 611.7,107.9 610.1,106.3 608.2,104.5 606,103.6 603.9,102.9 602.3,102.4 601.4,101.3 601,100.6 600.7,100.1 600,100.6 598.8,100.2 597.4,99 595.8,99.5 594.3,99.2 592.9,98.9 591.4,99.3 590,100.7 588.5,102.7 587,105.2 585.6,107.6 584.1,110.2 582.6,114.4 581.1,119.4 579.7,124.3 578.3,129.9 576.8,133.6 575.3,138.8 573.8,145.5 572.3,150.7 570.9,156.2 569.7,159.9 568.5,164.7 567.4,168.3 566.1,170.9 564.6,168.5 562.9,164.2 561.2,159.5 559.6,155.1 558.1,151.1 556.6,147.4 555.2,144.5 553.9,141.4 552.7,140.5 551.7,138 550.6,136.6 549.6,137.1 548.6,136.5 547.6,138.2 546.6,139 545.4,139.3 544.1,137.9 542.6,136.1 541.2,133.7 539.7,131.4 538.3,129.4 536.8,125.9 535.4,122.7 534,120.1 532.6,118 531.1,115.1 529.7,112.7 528.4,110.9 527.1,109.2 525.8,107.6 524.6,106.1 523.5,103.8 522.7,101.8 522,99.9 521.3,99.4 520.6,98 519.7,96.4 518.7,95 517.6,94.2 516.7,92.1 515.9,90.5 515.2,90.6 514.5,89.1 513.8,88.4 513.1,88.6 512.4,88.3 511.7,88.5 510.9,90.9 510.1,91 509.2,93.1 508.3,95.2 507.5,98 506.8,100.8 506.2,104.7 505.6,109.3 505,113.1 504.5,118 504,122.6 503.4,128 502.7,133.2 501.8,137.8 500.7,141.9 499.5,147.2 498.4,150 497.3,154.4 496.2,158.9 495.2,162.7 494.1,163.7 493.1,161.6 492.1,156.9 491.1,150.7 489.9,145.9 488.4,141.1 486.7,133.8 484.9,129 483.5,124.5 482.4,121.2 481.6,120.3 480.8,119.8 480,119.4 479.1,118.2 478.1,118.2 477.1,118.6 476,118.6 474.8,117.8 473.5,118.2 472.2,117.6 471,116.7 470,116.2 469,115.6 468,115.3 467,114.4 465.8,113 464.6,113.1 463.3,112.8 462,110.8 460.6,110.3 459.1,109.5 457.5,108.6 456,107.5 454.5,106.3 452.9,105.1 451.4,103.8 450,103.1 448.7,102.8 447.4,101.3 446.2,100.7 445,99 443.6,98.5 442.2,97 440.9,96.6 440,95.9Z" fill="#90d2ac"/><path d="M440,91.7 440.9,92.5 442.2,93.5 443.6,94.6 445,95.8 446.2,96.8 447.4,97.8 448.7,98.8 450,99.8 451.4,100.9 452.9,102 454.5,103.1 456,104 457.5,104.9 459.1,106.2 460.6,107.3 462,108.3 463.3,109.2 464.6,109.7 465.8,110.1 467,111 468,111.7 469,112.1 470,112.4 471,112.8 472.2,113.1 473.5,113.5 474.8,113.9 476,114.4 477.1,114.6 478.1,114.9 479.1,115.3 480,116.2 480.8,116.9 481.6,117.5 482.4,118.5 483.5,121.2 484.9,125.6 486.7,130.7 488.4,137 489.9,142.6 491.1,148.1 492.1,153.4 493.1,157.7 494.1,159.8 495.2,158.5 496.2,155 497.3,150.8 498.4,146.7 499.5,143 500.7,138.8 501.8,133.9 502.7,129.6 503.4,125 504,119.7 504.5,114.6 505,109.8 505.6,105.6 506.2,101.4 506.8,98.1 507.5,95 508.3,92.3 509.2,89.8 510.1,87.6 510.9,86.3 511.7,84.9 512.4,84.7 513.1,84.5 513.8,85 514.5,85.5 515.2,86.5 515.9,87.4 516.7,88.7 517.6,90 518.7,91.7 519.7,93.2 520.6,94.6 521.3,96 522,97 522.7,98.4 523.5,100.1 524.6,102.1 525.8,104.3 527.1,106.4 528.4,108.3 529.7,110.7 531.1,112.4 532.6,114.5 534,116.8 535.4,119.5 536.8,122.7 538.3,125.8 539.7,128.4 541.2,130.5 542.6,132.7 544.1,134.5 545.4,135.6 546.6,135.2 547.6,134.1 548.6,132.9 549.6,132.8 550.6,133.5 551.7,134.7 552.7,136.8 553.9,138.5 555.2,141 556.6,143.9 558.1,147.5 559.6,151.2 561.2,155.3 562.9,160.3 564.6,164.6 566.1,166.5 567.4,164.8 568.5,161.1 569.7,156.2 570.9,152 572.3,146.7 573.8,141.4 575.3,135.8 576.8,130.3 578.3,125.6 579.7,120.3 581.1,115.4 582.6,110.6 584.1,106.9 585.6,103.9 587,101.4 588.5,98.9 590,96.9 591.4,96 592.9,95.2 594.3,95.2 595.8,95.1 597.4,95.3 598.8,96 600,96.4 600.7,96.6 601,97 601.4,98 602.3,99.2 603.9,100.2 606,101 608.2,102 610.1,102.8 611.7,103.6 613.1,104.2 614.5,104.1 616,103.1 617.7,100.9 619.5,97.5 621.2,95.1 622.8,94.1 624.2,94.5 625.4,96 626.5,98.5 627.7,101 628.9,104 630.2,107.9 631.4,111.8 632.6,114.9 633.6,117.8 634.5,120.1 635.5,121.5 636.5,122.2 637.6,121.4 638.8,119.2 640.1,116.2 641.4,112.6 642.8,108.4 644.2,103.5 645.7,98.4 647.2,93.5 648.7,87.7 650.1,81.8 651.6,76.3 653.1,71.8 654.6,68.6 656,66.1 657.4,64.7 658.9,63.9 660.4,64.2 661.8,65.4 663.3,66.6 664.8,67.7 666.3,69 667.8,70.3 669.3,71.4 670.6,72.1 671.8,72.8 672.9,72.9 673.8,73.5 674.5,73.9" fill="none" stroke="#90d2ac" stroke-width="2.8" stroke-linejoin="round"/></g>
<path d="M440,91.7 440.9,92.5 442.2,93.5 443.6,94.6 445,95.8 446.2,96.8 447.4,97.8 448.7,98.8 450,99.8 451.4,100.9 452.9,102 454.5,103.1 456,104 457.5,104.9 459.1,106.2 460.6,107.3 462,108.3 463.3,109.2 464.6,109.7 465.8,110.1 467,111 468,111.7 469,112.1 470,112.4 471,112.8 472.2,113.1 473.5,113.5 474.8,113.9 476,114.4 477.1,114.6 478.1,114.9 479.1,115.3 480,116.2 480.8,116.9 481.6,117.5 482.4,118.5 483.5,121.2 484.9,125.6 486.7,130.7 488.4,137 489.9,142.6 491.1,148.1 492.1,153.4 493.1,157.7 494.1,159.8 495.2,158.5 496.2,155 497.3,150.8 498.4,146.7 499.5,143 500.7,138.8 501.8,133.9 502.7,129.6 503.4,125 504,119.7 504.5,114.6 505,109.8 505.6,105.6 506.2,101.4 506.8,98.1 507.5,95 508.3,92.3 509.2,89.8 510.1,87.6 510.9,86.3 511.7,84.9 512.4,84.7 513.1,84.5 513.8,85 514.5,85.5 515.2,86.5 515.9,87.4 516.7,88.7 517.6,90 518.7,91.7 519.7,93.2 520.6,94.6 521.3,96 522,97 522.7,98.4 523.5,100.1 524.6,102.1 525.8,104.3 527.1,106.4 528.4,108.3 529.7,110.7 531.1,112.4 532.6,114.5 534,116.8 535.4,119.5 536.8,122.7 538.3,125.8 539.7,128.4 541.2,130.5 542.6,132.7 544.1,134.5 545.4,135.6 546.6,135.2 547.6,134.1 548.6,132.9 549.6,132.8 550.6,133.5 551.7,134.7 552.7,136.8 553.9,138.5 555.2,141 556.6,143.9 558.1,147.5 559.6,151.2 561.2,155.3 562.9,160.3 564.6,164.6 566.1,166.5 567.4,164.8 568.5,161.1 569.7,156.2 570.9,152 572.3,146.7 573.8,141.4 575.3,135.8 576.8,130.3 578.3,125.6 579.7,120.3 581.1,115.4 582.6,110.6 584.1,106.9 585.6,103.9 587,101.4 588.5,98.9 590,96.9 591.4,96 592.9,95.2 594.3,95.2 595.8,95.1 597.4,95.3 598.8,96 600,96.4 600.7,96.6 601,97 601.4,98 602.3,99.2 603.9,100.2 606,101 608.2,102 610.1,102.8 611.7,103.6 613.1,104.2 614.5,104.1 616,103.1 617.7,100.9 619.5,97.5 621.2,95.1 622.8,94.1 624.2,94.5 625.4,96 626.5,98.5 627.7,101 628.9,104 630.2,107.9 631.4,111.8 632.6,114.9 633.6,117.8 634.5,120.1 635.5,121.5 636.5,122.2 637.6,121.4 638.8,119.2 640.1,116.2 641.4,112.6 642.8,108.4 644.2,103.5 645.7,98.4 647.2,93.5 648.7,87.7 650.1,81.8 651.6,76.3 653.1,71.8 654.6,68.6 656,66.1 657.4,64.7 658.9,63.9 660.4,64.2 661.8,65.4 663.3,66.6 664.8,67.7 666.3,69 667.8,70.3 669.3,71.4 670.6,72.1 671.8,72.8 672.9,72.9 673.8,73.5 674.5,73.9" fill="none" stroke="#62bc8c" stroke-width="0.8"/>
<g opacity="0.88"><path d="M440,96.5 440.9,97.5 442.2,98.4 443.6,98.9 445,100.2 446.2,100.1 447.4,99.5 448.7,100.7 450,101.3 451.4,102 452.9,103.2 454.5,104.4 456,105.1 457.5,106.7 459.1,107.2 460.6,108.3 462,108.7 463.3,108.5 464.6,108.5 465.8,109.8 467,111.6 468.1,112.6 469.1,113 470,113.4 471,113.6 472,113.3 472.9,112.9 473.9,112.3 475,111.6 476.3,111 477.6,110.5 479,109.1 480.3,109.6 481.4,109.6 482.5,110.5 483.6,111.9 484.6,114.9 485.7,120.9 486.7,126.5 487.7,132.2 488.8,138.1 489.9,144.4 491,150.3 492.1,156 493.1,160.6 494,163.9 494.7,167.6 495.5,168.9 496.3,170 497.3,170.2 498.3,169.2 499.4,166.5 500.5,164.4 501.6,162.2 502.7,159.2 503.8,154.9 504.8,150.8 505.7,147.6 506.6,144.3 507.4,140.9 508.5,136 509.8,131.7 511.2,128.8 512.7,125.5 514.2,123 515.6,120.4 517.1,117.8 518.5,116.2 519.9,113.8 521.2,111.9 522.4,110.9 523.6,109.9 524.8,108.8 525.9,109.4 527,109.4 528,111.2 529.1,112.5 530.2,114.3 531.2,115.6 532.2,117.5 533.3,118.9 534.4,120.8 535.5,123.2 536.6,124.5 537.6,125.4 538.5,126.4 539.4,126.4 540.2,125.7 541.1,124.9 542.1,122.3 543.2,120.7 544.3,119.4 545.4,117.1 546.5,114.3 547.6,111.4 548.7,108.7 549.6,105.1 550.3,101.7 551,99.1 551.6,96.2 552.4,94.4 553.5,91.9 554.7,90.9 556,91.6 557.3,92.4 558.5,93.6 559.8,95.6 561,98 562.2,99.5 563.2,102.9 564.2,104.5 565.1,105.5 566.1,105.3 567.1,104.3 568,102.8 569,100.4 570,97.5 571,92.8 572,87.5 573,81.7 573.9,75.8 574.7,70.5 575.5,65.3 576.2,60.8 576.8,55.7 577.3,51.9 577.7,48.9 578.2,45.5 578.9,42.5 579.9,40.4 581.1,38.5 582.4,38 583.8,37.1 585.2,37.5 586.6,38.3 588.1,39.3 589.6,40.1 591.2,42.6 592.9,44.6 594.7,47.1 596.5,49.1 598.4,51 600.4,53.6 602.4,56 604.3,58.7 606.1,59.6 607.8,59.5 609.5,61.3 611.1,61.9 612.7,62.1 614.2,62.1 615.6,61.4 617,62 618.3,61.8 619.5,60.7 620.6,60.2 621.8,60.3 623,62.5 624.2,64.9 625.5,68.3 626.7,71.9 627.9,75.5 629.2,79.5 630.4,82.7 631.6,86 632.8,88.2 634,91.2 635.3,93.9 636.5,93.9 637.7,93.7 639,91.1 640.2,88.7 641.4,85 642.6,80.8 643.7,76.1 644.9,70.8 646.2,65.4 647.6,60.3 649,55.3 650.5,50.3 652.1,46.9 653.8,44.1 655.5,42.7 657.2,42.4 658.9,42.1 660.4,42.2 661.9,44 663.4,47.2 664.8,48.9 666.3,50.3 667.8,51.7 669.3,53.3 670.6,54.9 671.8,56 672.9,57.9 673.8,60 674.5,60.4 674.5,67.6 673.8,66.4 672.9,65 671.8,63.5 670.6,61.3 669.3,60.8 667.8,59.8 666.3,57.6 664.8,56.1 663.4,53.8 661.9,52.5 660.4,50.4 658.9,48.7 657.2,48.8 655.5,49.9 653.8,51.1 652.1,53.3 650.5,57.8 649,63.3 647.6,68.8 646.2,74.3 644.9,79.3 643.7,84.6 642.6,89.6 641.4,93.6 640.2,96.5 639,99.8 637.7,101.2 636.5,102.5 635.3,100.8 634,99.2 632.8,96.4 631.6,92.5 630.4,89.8 629.2,86.5 627.9,83.6 626.7,80.2 625.5,76.5 624.2,73.2 623,69.7 621.8,67.6 620.6,66.7 619.5,66.4 618.3,67.3 617,68.1 615.6,68.9 614.2,68.4 612.7,68.5 611.1,67.9 609.5,67.6 607.8,68.1 606.1,67.3 604.3,65.3 602.4,64.1 600.4,61.9 598.4,59.3 596.5,56.2 594.7,53.4 592.9,51.3 591.2,49.9 589.6,48.9 588.1,47.2 586.6,46.4 585.2,45.4 583.8,45.9 582.4,46 581.1,46.8 579.9,47.8 578.9,50.1 578.2,52.3 577.7,55.6 577.3,59.5 576.8,64.4 576.2,68.1 575.5,73.4 574.7,78.4 573.9,83.2 573,88.1 572,94.6 571,100.2 570,104.4 569,107.8 568,110 567.1,111.7 566.1,112.4 565.1,111.1 564.2,109.6 563.2,107.8 562.2,106.8 561,103.3 559.8,101.3 558.5,99.3 557.3,98.5 556,98.5 554.7,99.4 553.5,99.8 552.4,99.8 551.6,102.7 551,105.9 550.3,109.6 549.6,111.8 548.7,114.2 547.6,117.6 546.5,121 545.4,122.9 544.3,125.9 543.2,129.3 542.1,130.9 541.1,132.2 540.2,133.3 539.4,133.8 538.5,133.8 537.6,134 536.6,132.8 535.5,130.3 534.4,128.5 533.3,126 532.2,123.8 531.2,122 530.2,120.2 529.1,118.3 528,117.2 527,116.7 525.9,116.1 524.8,116.6 523.6,116.8 522.4,117.4 521.2,118.3 519.9,120.6 518.5,122.3 517.1,125.1 515.6,127.5 514.2,130.6 512.7,133.9 511.2,136.5 509.8,139.8 508.5,142.8 507.4,146.1 506.6,151.1 505.7,155.1 504.8,159.2 503.8,162.4 502.7,165.5 501.6,168.9 500.5,171.7 499.4,173.7 498.3,175.1 497.3,176.8 496.3,176.7 495.5,175.6 494.7,172.8 494,170.7 493.1,166.7 492.1,162.3 491,158.3 489.9,152.4 488.8,147.1 487.7,141.1 486.7,134 485.7,127.3 484.6,123.3 483.6,120.5 482.5,117.6 481.4,116.9 480.3,116.2 479,116.6 477.6,116.3 476.3,117.7 475,118.2 473.9,119 472.9,119.5 472,120.5 471,120.7 470,120.9 469.1,120.9 468.1,120.5 467,119.9 465.8,119.7 464.6,118.5 463.3,116.7 462,115.2 460.6,114.8 459.1,114.5 457.5,113.1 456,112.6 454.5,112 452.9,110.7 451.4,110 450,108.6 448.7,107.7 447.4,107.6 446.2,106.6 445,106.1 443.6,105.8 442.2,104.5 440.9,103.1 440,103.3Z" fill="#eecb86"/><path d="M440,99.9 440.9,100.3 442.2,101.4 443.6,102.4 445,103.2 446.2,103.4 447.4,103.6 448.7,104.2 450,104.9 451.4,106 452.9,107 454.5,108.2 456,108.9 457.5,109.9 459.1,110.9 460.6,111.6 462,112 463.3,112.6 464.6,113.5 465.8,114.7 467,115.7 468.1,116.5 469.1,116.9 470,117.2 471,117.1 472,116.9 472.9,116.2 473.9,115.6 475,114.9 476.3,114.3 477.6,113.4 479,112.9 480.3,112.9 481.4,113.3 482.5,114.1 483.6,116.2 484.6,119.1 485.7,124.1 486.7,130.3 487.7,136.7 488.8,142.6 489.9,148.4 491,154.3 492.1,159.1 493.1,163.7 494,167.3 494.7,170.2 495.5,172.3 496.3,173.3 497.3,173.5 498.3,172.2 499.4,170.1 500.5,168 501.6,165.5 502.7,162.4 503.8,158.7 504.8,155 505.7,151.4 506.6,147.7 507.4,143.5 508.5,139.4 509.8,135.8 511.2,132.7 512.7,129.7 514.2,126.8 515.6,124 517.1,121.4 518.5,119.2 519.9,117.2 521.2,115.1 522.4,114.1 523.6,113.4 524.8,112.7 525.9,112.8 527,113 528,114.2 529.1,115.4 530.2,117.3 531.2,118.8 532.2,120.6 533.3,122.4 534.4,124.6 535.5,126.8 536.6,128.7 537.6,129.7 538.5,130.1 539.4,130.1 540.2,129.5 541.1,128.6 542.1,126.6 543.2,125 544.3,122.6 545.4,120 546.5,117.6 547.6,114.5 548.7,111.5 549.6,108.4 550.3,105.7 551,102.5 551.6,99.5 552.4,97.1 553.5,95.8 554.7,95.2 556,95.1 557.3,95.4 558.5,96.5 559.8,98.5 561,100.7 562.2,103.2 563.2,105.3 564.2,107.1 565.1,108.3 566.1,108.9 567.1,108 568,106.4 569,104.1 570,100.9 571,96.5 572,91 573,84.9 573.9,79.5 574.7,74.5 575.5,69.3 576.2,64.4 576.8,60 577.3,55.7 577.7,52.3 578.2,48.9 578.9,46.3 579.9,44.1 581.1,42.7 582.4,42 583.8,41.5 585.2,41.5 586.6,42.4 588.1,43.2 589.6,44.5 591.2,46.2 592.9,48 594.7,50.2 596.5,52.7 598.4,55.1 600.4,57.8 602.4,60.1 604.3,62 606.1,63.4 607.8,63.8 609.5,64.4 611.1,64.9 612.7,65.3 614.2,65.3 615.6,65.1 617,65.1 618.3,64.5 619.5,63.6 620.6,63.5 621.8,63.9 623,66.1 624.2,69 625.5,72.4 626.7,76 627.9,79.5 629.2,83 630.4,86.3 631.6,89.3 632.8,92.3 634,95.2 635.3,97.3 636.5,98.2 637.7,97.4 639,95.4 640.2,92.6 641.4,89.3 642.6,85.2 643.7,80.4 644.9,75.1 646.2,69.8 647.6,64.6 649,59.3 650.5,54 652.1,50.1 653.8,47.6 655.5,46.3 657.2,45.6 658.9,45.4 660.4,46.3 661.9,48.2 663.4,50.5 664.8,52.5 666.3,54 667.8,55.7 669.3,57.1 670.6,58.1 671.8,59.8 672.9,61.4 673.8,63.2 674.5,64" fill="none" stroke="#eecb86" stroke-width="2.8" stroke-linejoin="round"/></g>
<path d="M440,99.9 440.9,100.3 442.2,101.4 443.6,102.4 445,103.2 446.2,103.4 447.4,103.6 448.7,104.2 450,104.9 451.4,106 452.9,107 454.5,108.2 456,108.9 457.5,109.9 459.1,110.9 460.6,111.6 462,112 463.3,112.6 464.6,113.5 465.8,114.7 467,115.7 468.1,116.5 469.1,116.9 470,117.2 471,117.1 472,116.9 472.9,116.2 473.9,115.6 475,114.9 476.3,114.3 477.6,113.4 479,112.9 480.3,112.9 481.4,113.3 482.5,114.1 483.6,116.2 484.6,119.1 485.7,124.1 486.7,130.3 487.7,136.7 488.8,142.6 489.9,148.4 491,154.3 492.1,159.1 493.1,163.7 494,167.3 494.7,170.2 495.5,172.3 496.3,173.3 497.3,173.5 498.3,172.2 499.4,170.1 500.5,168 501.6,165.5 502.7,162.4 503.8,158.7 504.8,155 505.7,151.4 506.6,147.7 507.4,143.5 508.5,139.4 509.8,135.8 511.2,132.7 512.7,129.7 514.2,126.8 515.6,124 517.1,121.4 518.5,119.2 519.9,117.2 521.2,115.1 522.4,114.1 523.6,113.4 524.8,112.7 525.9,112.8 527,113 528,114.2 529.1,115.4 530.2,117.3 531.2,118.8 532.2,120.6 533.3,122.4 534.4,124.6 535.5,126.8 536.6,128.7 537.6,129.7 538.5,130.1 539.4,130.1 540.2,129.5 541.1,128.6 542.1,126.6 543.2,125 544.3,122.6 545.4,120 546.5,117.6 547.6,114.5 548.7,111.5 549.6,108.4 550.3,105.7 551,102.5 551.6,99.5 552.4,97.1 553.5,95.8 554.7,95.2 556,95.1 557.3,95.4 558.5,96.5 559.8,98.5 561,100.7 562.2,103.2 563.2,105.3 564.2,107.1 565.1,108.3 566.1,108.9 567.1,108 568,106.4 569,104.1 570,100.9 571,96.5 572,91 573,84.9 573.9,79.5 574.7,74.5 575.5,69.3 576.2,64.4 576.8,60 577.3,55.7 577.7,52.3 578.2,48.9 578.9,46.3 579.9,44.1 581.1,42.7 582.4,42 583.8,41.5 585.2,41.5 586.6,42.4 588.1,43.2 589.6,44.5 591.2,46.2 592.9,48 594.7,50.2 596.5,52.7 598.4,55.1 600.4,57.8 602.4,60.1 604.3,62 606.1,63.4 607.8,63.8 609.5,64.4 611.1,64.9 612.7,65.3 614.2,65.3 615.6,65.1 617,65.1 618.3,64.5 619.5,63.6 620.6,63.5 621.8,63.9 623,66.1 624.2,69 625.5,72.4 626.7,76 627.9,79.5 629.2,83 630.4,86.3 631.6,89.3 632.8,92.3 634,95.2 635.3,97.3 636.5,98.2 637.7,97.4 639,95.4 640.2,92.6 641.4,89.3 642.6,85.2 643.7,80.4 644.9,75.1 646.2,69.8 647.6,64.6 649,59.3 650.5,54 652.1,50.1 653.8,47.6 655.5,46.3 657.2,45.6 658.9,45.4 660.4,46.3 661.9,48.2 663.4,50.5 664.8,52.5 666.3,54 667.8,55.7 669.3,57.1 670.6,58.1 671.8,59.8 672.9,61.4 673.8,63.2 674.5,64" fill="none" stroke="#e0ae5e" stroke-width="0.8"/>
<g opacity="0.88"><path d="M440,90.4 440.3,91.4 440.7,92.1 441.2,93.7 441.8,94 442.6,93.9 443.4,94.2 444.4,94.3 445.3,94.2 446.2,95.1 447,96.1 447.9,96.5 448.9,96.9 449.9,98.4 451,97 452.2,98.2 453.3,98.7 454.4,98.9 455.5,99.6 456.6,100.3 457.7,100.8 458.8,102 459.9,103.1 461.1,103.8 462.2,105.7 463.3,106.5 464.4,108.7 465.5,109.4 466.6,111.9 467.7,112.5 468.8,113.6 469.9,115 471,115.6 472.1,114.6 473.3,114.5 474.4,113.1 475.5,113.1 476.5,113.7 477.4,113 478.2,112.7 479,111.4 479.7,110.2 480.4,109.6 481,108.5 481.7,107.9 482.4,108.3 483.1,109.8 483.8,111.7 484.6,114.6 485.6,119.9 486.6,125.3 487.7,131.2 488.8,138.2 489.9,145.2 491,151.6 492,157.8 493.1,165.1 494.2,173.5 495.3,181.7 496.3,188.4 497.3,194.3 498.1,198.4 498.9,201.1 499.6,203 500.5,204.1 501.5,203.8 502.6,201.9 503.7,198.4 504.8,194.4 505.9,192.7 506.9,190.5 507.9,187.9 509,185.2 510.1,182.3 511.1,179.1 512.2,177.7 513.3,174.3 514.4,171.9 515.5,168.9 516.5,165.6 517.6,161.7 518.7,158.7 519.7,155.1 520.7,151 521.8,148.1 522.9,144.9 523.9,142.3 525,139.5 526.1,135.5 527.2,132.6 528.2,130 529.3,125.9 530.3,123.8 531.2,121.7 532.1,121.1 533,120.7 534,119.7 535,120 536.1,119.7 537.2,119.5 538.3,119 539.4,116.6 540.4,113.8 541.5,111.2 542.6,109.5 543.7,105.3 544.9,100.5 546.1,96.1 547.5,91.4 549.1,86.5 551,82.4 552.8,78.3 554.4,76.3 555.7,76.6 556.9,78.2 558,80.5 559.2,84.3 560.6,86.7 562.1,89.3 563.7,92.4 565.1,93 566.4,92.3 567.7,89.8 568.9,87.6 570,84.6 570.9,82.4 571.6,79 572.2,75.8 572.9,72.2 573.6,67.5 574.3,63 575.1,58.3 575.8,53.4 576.5,48.8 577.3,44 578.1,39.1 578.9,34.7 579.8,32.1 580.7,30.3 581.7,28.9 582.8,28.9 584.1,28.5 585.6,29.8 587.2,30.6 588.7,31.2 590.2,34.2 591.6,36.8 593,41 594.5,43.1 596,44.6 597.5,47.3 598.9,49.8 600.4,52.7 601.9,54.8 603.3,56.7 604.7,58.8 606.2,61.8 607.7,63.3 609.1,64.6 610.6,66.6 612.1,67.8 613.6,68.1 615.1,68.3 616.5,68.5 617.9,68.6 619.2,69.4 620.4,68.8 621.6,69.5 622.8,70.3 624,72.7 625.2,75.4 626.5,77.9 627.7,80.7 628.9,83.8 630.2,87.7 631.4,91.4 632.6,95.3 633.8,99.5 635.1,102.7 636.3,104.7 637.5,106.2 638.7,106.2 639.9,104.9 641.1,102.4 642.3,99 643.5,94.1 644.7,89.9 646,84.9 647.2,79.4 648.4,74.2 649.6,68.6 650.8,64.1 652.1,60.8 653.5,58.2 654.9,56.4 656.4,55.2 658,53.5 659.7,52.9 661.4,54.7 663.1,55.5 664.8,55.9 666.4,56.9 667.9,57.8 669.3,59.2 670.6,59.5 671.8,60.1 672.9,59.7 673.8,59.7 674.5,60.2 674.5,67.9 673.8,67.9 672.9,67.9 671.8,66.6 670.6,67 669.3,66.2 667.9,65.7 666.4,65.4 664.8,64.6 663.1,62.7 661.4,62.8 659.7,63.9 658,62.8 656.4,63 654.9,63.7 653.5,65.4 652.1,67.8 650.8,71.9 649.6,77.1 648.4,83.2 647.2,88 646,92.5 644.7,98.2 643.5,104.2 642.3,107.3 641.1,110.6 639.9,113.1 638.7,115.2 637.5,115.3 636.3,113.3 635.1,109.7 633.8,106.2 632.6,103.3 631.4,100.3 630.2,96.5 628.9,93.5 627.7,90 626.5,86.8 625.2,83.8 624,81 622.8,79.6 621.6,78.1 620.4,77.8 619.2,77.2 617.9,77.2 616.5,77.2 615.1,77.2 613.6,77.2 612.1,76.3 610.6,75.6 609.1,74.6 607.7,72 606.2,70 604.7,68.7 603.3,65.6 601.9,62.2 600.4,59.4 598.9,57.9 597.5,55.3 596,52.6 594.5,49.6 593,46.8 591.6,45.8 590.2,43.5 588.7,41.9 587.2,39.4 585.6,38.4 584.1,38.7 582.8,38 581.7,39.2 580.7,39.2 579.8,39.9 578.9,42.5 578.1,45.7 577.3,51.1 576.5,57.3 575.8,62.3 575.1,66.6 574.3,70.9 573.6,75.6 572.9,79.6 572.2,83.3 571.6,86.7 570.9,90.5 570,94.4 568.9,96.7 567.7,99.7 566.4,100.8 565.1,101.4 563.7,100.1 562.1,97.1 560.6,93.8 559.2,91.1 558,89.8 556.9,86.5 555.7,84.7 554.4,84.5 552.8,86.8 551,90.1 549.1,94.8 547.5,98.7 546.1,103.3 544.9,108.1 543.7,112.5 542.6,115.9 541.5,119.8 540.4,122.3 539.4,124 538.3,124.6 537.2,125.9 536.1,127.7 535,127.9 534,129.3 533,129.4 532.1,129.6 531.2,131.1 530.3,131.9 529.3,134.7 528.2,137.5 527.2,141.4 526.1,145.3 525,147.9 523.9,151.5 522.9,155.2 521.8,158.5 520.7,161.7 519.7,164.1 518.7,167.4 517.6,170.6 516.5,173.2 515.5,176.4 514.4,179.8 513.3,183.3 512.2,185.9 511.1,189.2 510.1,191.7 509,194.4 507.9,196.3 506.9,199.4 505.9,202.7 504.8,205.4 503.7,207.3 502.6,209.2 501.5,211.3 500.5,212.5 499.6,212.4 498.9,210.9 498.1,206.5 497.3,201.5 496.3,196.1 495.3,188.9 494.2,181.7 493.1,175 492,168.3 491,160.7 489.9,153.5 488.8,147.1 487.7,140.7 486.6,134.2 485.6,127.5 484.6,123.5 483.8,120.4 483.1,117.9 482.4,117.6 481.7,117.6 481,117.5 480.4,118.1 479.7,119.7 479,121 478.2,121.2 477.4,121.6 476.5,121.6 475.5,122.7 474.4,123.9 473.3,123.7 472.1,123.5 471,122.3 469.9,122.2 468.8,122.1 467.7,120.7 466.6,118.8 465.5,118.3 464.4,116.9 463.3,116 462.2,113.9 461.1,113.6 459.9,111.5 458.8,111.1 457.7,110.5 456.6,109.4 455.5,108.4 454.4,107.6 453.3,106.7 452.2,106.1 451,105.5 449.9,103.6 448.9,104.6 447.9,104.2 447,103.6 446.2,104.2 445.3,104 444.4,103.3 443.4,102.8 442.6,102.3 441.8,101.5 441.2,100.5 440.7,100.1 440.3,99.3 440,99.2Z" fill="#efea7a"/><path d="M440,94.8 440.3,95.3 440.7,96.1 441.2,97.1 441.8,97.8 442.6,98.1 443.4,98.5 444.4,98.8 445.3,99.1 446.2,99.6 447,99.8 447.9,100.3 448.9,100.8 449.9,101 451,101.2 452.2,102.1 453.3,102.7 454.4,103.2 455.5,104 456.6,104.8 457.7,105.6 458.8,106.6 459.9,107.3 461.1,108.7 462.2,109.8 463.3,111.3 464.4,112.8 465.5,113.9 466.6,115.3 467.7,116.6 468.8,117.9 469.9,118.6 471,119 472.1,119 473.3,119.1 474.4,118.5 475.5,117.9 476.5,117.6 477.4,117.3 478.2,117 479,116.2 479.7,114.9 480.4,113.9 481,113 481.7,112.7 482.4,113 483.1,113.8 483.8,116 484.6,119 485.6,123.7 486.6,129.7 487.7,136 488.8,142.7 489.9,149.3 491,156.2 492,163.1 493.1,170.1 494.2,177.6 495.3,185.3 496.3,192.3 497.3,197.9 498.1,202.4 498.9,206 499.6,207.7 500.5,208.3 501.5,207.6 502.6,205.6 503.7,202.8 504.8,199.9 505.9,197.7 506.9,195 507.9,192.1 509,189.8 510.1,187 511.1,184.1 512.2,181.8 513.3,178.8 514.4,175.9 515.5,172.7 516.5,169.4 517.6,166.2 518.7,163 519.7,159.6 520.7,156.4 521.8,153.3 522.9,150.1 523.9,146.9 525,143.7 526.1,140.4 527.2,137 528.2,133.7 529.3,130.3 530.3,127.8 531.2,126.4 532.1,125.4 533,125.1 534,124.5 535,124 536.1,123.7 537.2,122.7 538.3,121.8 539.4,120.3 540.4,118 541.5,115.5 542.6,112.7 543.7,108.9 544.9,104.3 546.1,99.7 547.5,95.1 549.1,90.6 551,86.3 552.8,82.6 554.4,80.4 555.7,80.7 556.9,82.4 558,85.1 559.2,87.7 560.6,90.3 562.1,93.2 563.7,96.2 565.1,97.2 566.4,96.6 567.7,94.7 568.9,92.1 570,89.5 570.9,86.5 571.6,82.9 572.2,79.6 572.9,75.9 573.6,71.6 574.3,67 575.1,62.5 575.8,57.9 576.5,53.1 577.3,47.5 578.1,42.4 578.9,38.6 579.8,36 580.7,34.8 581.7,34.1 582.8,33.5 584.1,33.6 585.6,34.1 587.2,35 588.7,36.6 590.2,38.8 591.6,41.3 593,43.9 594.5,46.4 596,48.6 597.5,51.3 598.9,53.9 600.4,56 601.9,58.5 603.3,61.1 604.7,63.7 606.2,65.9 607.7,67.6 609.1,69.6 610.6,71.1 612.1,72 613.6,72.6 615.1,72.8 616.5,72.8 617.9,72.9 619.2,73.3 620.4,73.3 621.6,73.8 622.8,74.9 624,76.8 625.2,79.6 626.5,82.4 627.7,85.3 628.9,88.6 630.2,92.1 631.4,95.8 632.6,99.3 633.8,102.8 635.1,106.2 636.3,109 637.5,110.7 638.7,110.7 639.9,109 641.1,106.5 642.3,103.2 643.5,99.2 644.7,94.1 646,88.7 647.2,83.7 648.4,78.7 649.6,72.8 650.8,68 652.1,64.3 653.5,61.8 654.9,60.1 656.4,59.1 658,58.1 659.7,58.4 661.4,58.7 663.1,59.1 664.8,60.3 666.4,61.2 667.9,61.7 669.3,62.7 670.6,63.3 671.8,63.4 672.9,63.8 673.8,63.8 674.5,64.1" fill="none" stroke="#efea7a" stroke-width="3.3" stroke-linejoin="round"/></g>
<path d="M440,94.8 440.3,95.3 440.7,96.1 441.2,97.1 441.8,97.8 442.6,98.1 443.4,98.5 444.4,98.8 445.3,99.1 446.2,99.6 447,99.8 447.9,100.3 448.9,100.8 449.9,101 451,101.2 452.2,102.1 453.3,102.7 454.4,103.2 455.5,104 456.6,104.8 457.7,105.6 458.8,106.6 459.9,107.3 461.1,108.7 462.2,109.8 463.3,111.3 464.4,112.8 465.5,113.9 466.6,115.3 467.7,116.6 468.8,117.9 469.9,118.6 471,119 472.1,119 473.3,119.1 474.4,118.5 475.5,117.9 476.5,117.6 477.4,117.3 478.2,117 479,116.2 479.7,114.9 480.4,113.9 481,113 481.7,112.7 482.4,113 483.1,113.8 483.8,116 484.6,119 485.6,123.7 486.6,129.7 487.7,136 488.8,142.7 489.9,149.3 491,156.2 492,163.1 493.1,170.1 494.2,177.6 495.3,185.3 496.3,192.3 497.3,197.9 498.1,202.4 498.9,206 499.6,207.7 500.5,208.3 501.5,207.6 502.6,205.6 503.7,202.8 504.8,199.9 505.9,197.7 506.9,195 507.9,192.1 509,189.8 510.1,187 511.1,184.1 512.2,181.8 513.3,178.8 514.4,175.9 515.5,172.7 516.5,169.4 517.6,166.2 518.7,163 519.7,159.6 520.7,156.4 521.8,153.3 522.9,150.1 523.9,146.9 525,143.7 526.1,140.4 527.2,137 528.2,133.7 529.3,130.3 530.3,127.8 531.2,126.4 532.1,125.4 533,125.1 534,124.5 535,124 536.1,123.7 537.2,122.7 538.3,121.8 539.4,120.3 540.4,118 541.5,115.5 542.6,112.7 543.7,108.9 544.9,104.3 546.1,99.7 547.5,95.1 549.1,90.6 551,86.3 552.8,82.6 554.4,80.4 555.7,80.7 556.9,82.4 558,85.1 559.2,87.7 560.6,90.3 562.1,93.2 563.7,96.2 565.1,97.2 566.4,96.6 567.7,94.7 568.9,92.1 570,89.5 570.9,86.5 571.6,82.9 572.2,79.6 572.9,75.9 573.6,71.6 574.3,67 575.1,62.5 575.8,57.9 576.5,53.1 577.3,47.5 578.1,42.4 578.9,38.6 579.8,36 580.7,34.8 581.7,34.1 582.8,33.5 584.1,33.6 585.6,34.1 587.2,35 588.7,36.6 590.2,38.8 591.6,41.3 593,43.9 594.5,46.4 596,48.6 597.5,51.3 598.9,53.9 600.4,56 601.9,58.5 603.3,61.1 604.7,63.7 606.2,65.9 607.7,67.6 609.1,69.6 610.6,71.1 612.1,72 613.6,72.6 615.1,72.8 616.5,72.8 617.9,72.9 619.2,73.3 620.4,73.3 621.6,73.8 622.8,74.9 624,76.8 625.2,79.6 626.5,82.4 627.7,85.3 628.9,88.6 630.2,92.1 631.4,95.8 632.6,99.3 633.8,102.8 635.1,106.2 636.3,109 637.5,110.7 638.7,110.7 639.9,109 641.1,106.5 642.3,103.2 643.5,99.2 644.7,94.1 646,88.7 647.2,83.7 648.4,78.7 649.6,72.8 650.8,68 652.1,64.3 653.5,61.8 654.9,60.1 656.4,59.1 658,58.1 659.7,58.4 661.4,58.7 663.1,59.1 664.8,60.3 666.4,61.2 667.9,61.7 669.3,62.7 670.6,63.3 671.8,63.4 672.9,63.8 673.8,63.8 674.5,64.1" fill="none" stroke="#e2da50" stroke-width="0.8"/>
</g>
<line x1="533.5" y1="20.2" x2="533.5" y2="230.2" stroke="#9a9a9a" stroke-width="1.8"/>
<line x1="674.8" y1="66" x2="674.8" y2="88" stroke="#e6b96a" stroke-width="0.9"/>
<line x1="674.8" y1="88" x2="674.8" y2="101" stroke="#6cbde6" stroke-width="0.9"/>
<path d="M440,16.6V231.2H675.4" fill="none" stroke="#000" stroke-width="1.9"/>
<line x1="462.7" y1="230.2" x2="462.7" y2="227.4" stroke="#000" stroke-width="1.8"/>
<line x1="538.5" y1="230.2" x2="538.5" y2="227.4" stroke="#000" stroke-width="1.8"/>
<line x1="613.9" y1="230.2" x2="613.9" y2="227.4" stroke="#000" stroke-width="1.8"/>
<line x1="441" y1="65.2" x2="443.7" y2="65.2" stroke="#000" stroke-width="1.8"/>
<line x1="441" y1="183.7" x2="443.7" y2="183.7" stroke="#000" stroke-width="1.8"/>
<text x="421.1" y="70.6" font-size="13" textLength="14.5" lengthAdjust="spacingAndGlyphs" >30</text>
<text x="420.7" y="188.4" font-size="13" textLength="15.3" lengthAdjust="spacingAndGlyphs" >25</text>
<text x="456.6" y="244.6" font-size="13" textLength="8.1" lengthAdjust="spacingAndGlyphs" >0</text>
<text x="527.7" y="244.6" font-size="13" textLength="21.2" lengthAdjust="spacingAndGlyphs" >500</text>
<text x="601.2" y="244.2" font-size="13" textLength="28.7" lengthAdjust="spacingAndGlyphs" >1000</text>
<text x="461.8" y="261.5" font-size="15" textLength="196" lengthAdjust="spacingAndGlyphs" >time from stimulus onset (ms)</text>
<text x="589.1" y="28" font-size="12" textLength="58.4" lengthAdjust="spacingAndGlyphs" >monkey H</text>
<text x="538.1" y="205.8" font-size="11" textLength="81.5" lengthAdjust="spacingAndGlyphs" >next shape onset</text>
<text x="-0.3" y="308" font-size="14" textLength="9.2" lengthAdjust="spacingAndGlyphs" font-weight="bold" >b</text>
<g transform="translate(54.8,317.0) scale(4.71200,1.52857)">
<rect x="0" y="0" width="50" height="140" fill="#8ac37c"/>
<path fill="#93c570" d="M0 0h1v1h-1zM20 0h3v1h-3zM27 0h1v1h-1zM40 0h1v1h-1zM49 0h1v1h-1zM5 1h1v1h-1zM3 2h1v1h-1zM26 2h1v1h-1zM31 2h1v1h-1zM35 2h1v1h-1zM39 2h2v1h-2zM49 2h1v1h-1zM47 3h1v1h-1zM18 4h1v1h-1zM25 4h1v1h-1zM28 4h1v1h-1zM37 4h2v1h-2zM3 5h2v1h-2zM24 5h1v1h-1zM33 5h1v1h-1zM44 5h1v1h-1zM31 6h1v1h-1zM47 6h2v1h-2zM5 7h1v1h-1zM41 7h1v1h-1zM3 8h2v1h-2zM18 8h1v1h-1zM36 8h1v1h-1zM38 8h1v1h-1zM46 8h1v1h-1zM18 9h1v1h-1zM29 9h1v1h-1zM35 9h2v1h-2zM45 9h1v1h-1zM2 10h1v1h-1zM22 10h2v1h-2zM29 10h1v1h-1zM38 10h1v1h-1zM44 10h1v1h-1zM20 11h1v1h-1zM27 11h2v1h-2zM37 11h1v1h-1zM39 11h2v1h-2zM20 12h1v1h-1zM22 12h2v1h-2zM39 12h1v1h-1zM41 12h1v1h-1zM4 13h2v1h-2zM22 13h2v1h-2zM43 13h1v1h-1zM48 13h1v1h-1zM2 14h2v1h-2zM16 14h1v1h-1zM21 14h2v1h-2zM25 14h1v1h-1zM32 14h1v1h-1zM22 15h1v1h-1zM37 15h1v1h-1zM41 15h1v1h-1zM43 15h1v1h-1zM49 15h1v1h-1zM21 16h1v1h-1zM34 16h1v1h-1zM38 16h1v1h-1zM25 17h1v1h-1zM32 17h2v1h-2zM1 18h1v1h-1zM16 18h1v1h-1zM21 18h1v1h-1zM23 18h2v1h-2zM27 18h1v1h-1zM41 18h1v1h-1zM44 18h1v1h-1zM19 19h2v1h-2zM22 19h1v1h-1zM48 19h1v1h-1zM19 20h1v1h-1zM25 20h1v1h-1zM28 20h1v1h-1zM43 20h1v1h-1zM40 21h1v1h-1zM2 22h1v1h-1zM5 22h1v1h-1zM17 22h1v1h-1zM27 22h3v1h-3zM44 22h1v1h-1zM1 23h1v1h-1zM16 23h1v1h-1zM26 23h1v1h-1zM31 23h1v1h-1zM40 23h1v1h-1zM2 24h1v1h-1zM23 24h1v1h-1zM31 24h1v1h-1zM47 24h1v1h-1zM1 25h1v1h-1zM17 25h1v1h-1zM0 26h2v1h-2zM4 26h1v1h-1zM18 26h1v1h-1zM23 26h1v1h-1zM36 26h1v1h-1zM2 27h2v1h-2zM18 27h1v1h-1zM23 27h1v1h-1zM26 27h2v1h-2zM32 27h1v1h-1zM34 27h1v1h-1zM20 28h1v1h-1zM23 28h1v1h-1zM42 28h1v1h-1zM17 29h1v1h-1zM27 29h1v1h-1zM48 29h1v1h-1zM3 30h1v1h-1zM6 30h1v1h-1zM19 30h3v1h-3zM37 30h1v1h-1zM0 31h1v1h-1zM2 31h1v1h-1zM17 31h1v1h-1zM31 31h1v1h-1zM49 31h1v1h-1zM22 32h1v1h-1zM24 32h1v1h-1zM43 32h1v1h-1zM48 32h1v1h-1zM0 33h1v1h-1zM4 33h1v1h-1zM22 33h1v1h-1zM44 33h1v1h-1zM47 33h1v1h-1zM25 34h1v1h-1zM33 34h1v1h-1zM38 34h2v1h-2zM43 34h1v1h-1zM5 35h1v1h-1zM17 35h1v1h-1zM21 35h1v1h-1zM37 35h1v1h-1zM46 35h1v1h-1zM19 36h1v1h-1zM32 36h1v1h-1zM49 36h1v1h-1zM35 37h2v1h-2zM41 37h2v1h-2zM0 38h1v1h-1zM23 38h1v1h-1zM25 38h4v1h-4zM30 38h2v1h-2zM33 38h1v1h-1zM36 38h1v1h-1zM43 38h1v1h-1zM35 39h1v1h-1zM38 39h1v1h-1zM41 39h1v1h-1zM18 40h1v1h-1zM20 40h1v1h-1zM25 40h1v1h-1zM24 41h1v1h-1zM36 41h1v1h-1zM41 41h1v1h-1zM48 41h1v1h-1zM17 42h1v1h-1zM22 42h2v1h-2zM25 42h1v1h-1zM27 42h1v1h-1zM31 42h1v1h-1zM33 42h1v1h-1zM1 43h1v1h-1zM4 43h1v1h-1zM27 43h1v1h-1zM31 43h1v1h-1zM41 43h1v1h-1zM3 44h1v1h-1zM19 44h2v1h-2zM34 44h2v1h-2zM37 44h1v1h-1zM47 45h1v1h-1zM49 45h1v1h-1zM0 46h2v1h-2zM34 46h1v1h-1zM44 46h1v1h-1zM27 47h1v1h-1zM33 47h1v1h-1zM39 47h1v1h-1zM44 47h2v1h-2zM4 48h1v1h-1zM6 48h1v1h-1zM22 48h3v1h-3zM34 48h1v1h-1zM39 48h1v1h-1zM42 48h1v1h-1zM16 49h3v1h-3zM33 49h3v1h-3zM48 49h1v1h-1zM5 50h1v1h-1zM18 50h1v1h-1zM21 50h2v1h-2zM28 50h2v1h-2zM35 50h1v1h-1zM40 50h1v1h-1zM17 51h2v1h-2zM27 51h1v1h-1zM30 51h1v1h-1zM44 51h2v1h-2zM5 52h1v1h-1zM18 52h1v1h-1zM31 52h1v1h-1zM44 52h1v1h-1zM48 52h1v1h-1zM19 53h1v1h-1zM33 53h1v1h-1zM42 53h1v1h-1zM46 53h1v1h-1zM6 54h1v1h-1zM19 54h1v1h-1zM4 55h1v1h-1zM10 55h1v1h-1zM20 56h1v1h-1zM22 56h1v1h-1zM28 56h1v1h-1zM31 56h2v1h-2zM37 56h1v1h-1zM40 56h1v1h-1zM45 56h1v1h-1zM47 56h1v1h-1zM13 57h1v1h-1zM16 57h1v1h-1zM27 57h1v1h-1zM32 57h1v1h-1zM39 57h1v1h-1zM42 57h1v1h-1zM6 58h1v1h-1zM24 58h1v1h-1zM26 58h1v1h-1zM30 58h1v1h-1zM38 58h1v1h-1zM5 59h1v1h-1zM29 59h1v1h-1zM35 59h2v1h-2zM3 60h1v1h-1zM7 60h1v1h-1zM15 60h1v1h-1zM26 60h1v1h-1zM35 60h1v1h-1zM39 60h1v1h-1zM3 61h1v1h-1zM40 61h1v1h-1zM46 61h1v1h-1zM48 61h1v1h-1zM1 62h1v1h-1zM19 62h2v1h-2zM27 62h2v1h-2zM49 62h1v1h-1zM6 63h1v1h-1zM9 63h2v1h-2zM15 63h1v1h-1zM25 63h2v1h-2zM0 64h1v1h-1zM11 64h1v1h-1zM22 64h1v1h-1zM24 64h1v1h-1zM33 64h1v1h-1zM39 64h1v1h-1zM43 64h2v1h-2zM46 64h1v1h-1zM49 64h1v1h-1zM21 65h1v1h-1zM29 65h1v1h-1zM38 65h1v1h-1zM3 66h1v1h-1zM12 66h1v1h-1zM18 66h1v1h-1zM21 66h2v1h-2zM27 66h3v1h-3zM31 66h1v1h-1zM41 66h1v1h-1zM0 67h1v1h-1zM8 67h1v1h-1zM16 67h1v1h-1zM19 67h2v1h-2zM23 67h1v1h-1zM35 67h1v1h-1zM37 67h2v1h-2zM40 67h1v1h-1zM3 68h1v1h-1zM17 68h4v1h-4zM22 68h1v1h-1zM42 68h1v1h-1zM46 68h1v1h-1zM5 69h1v1h-1zM20 69h1v1h-1zM24 69h1v1h-1zM42 69h1v1h-1zM44 69h1v1h-1zM47 69h1v1h-1zM2 70h1v1h-1zM15 70h1v1h-1zM25 70h1v1h-1zM35 70h1v1h-1zM6 71h1v1h-1zM8 71h2v1h-2zM22 71h1v1h-1zM34 71h1v1h-1zM48 71h2v1h-2zM20 72h1v1h-1zM26 72h1v1h-1zM37 72h2v1h-2zM44 72h2v1h-2zM9 73h1v1h-1zM21 73h1v1h-1zM27 73h2v1h-2zM3 74h1v1h-1zM8 74h1v1h-1zM12 74h1v1h-1zM41 74h1v1h-1zM21 75h1v1h-1zM24 75h1v1h-1zM30 75h1v1h-1zM34 75h1v1h-1zM4 76h1v1h-1zM19 76h1v1h-1zM23 76h3v1h-3zM28 76h1v1h-1zM31 76h2v1h-2zM46 76h1v1h-1zM49 76h1v1h-1zM5 77h1v1h-1zM23 77h1v1h-1zM25 77h1v1h-1zM41 77h2v1h-2zM43 80h1v1h-1zM0 81h1v1h-1zM2 81h1v1h-1zM44 81h2v1h-2zM0 84h1v1h-1zM2 84h1v1h-1zM48 84h1v1h-1zM2 85h4v1h-4zM42 85h1v1h-1zM16 86h1v1h-1zM1 87h1v1h-1zM38 87h1v1h-1zM1 89h4v1h-4zM2 90h1v1h-1zM21 90h1v1h-1zM43 90h1v1h-1zM45 90h1v1h-1zM20 91h1v1h-1zM35 91h1v1h-1zM16 92h1v1h-1zM40 92h1v1h-1zM48 93h1v1h-1zM45 94h1v1h-1zM0 95h4v1h-4zM17 95h1v1h-1zM33 95h1v1h-1zM43 95h1v1h-1zM0 96h2v1h-2zM49 96h1v1h-1zM3 98h1v1h-1zM34 98h2v1h-2zM38 98h1v1h-1zM44 98h1v1h-1zM47 98h1v1h-1zM17 99h2v1h-2zM25 99h2v1h-2zM42 99h1v1h-1zM44 99h1v1h-1zM47 99h1v1h-1zM2 101h2v1h-2zM20 101h1v1h-1zM25 101h1v1h-1zM32 101h1v1h-1zM37 101h1v1h-1zM44 101h1v1h-1zM19 102h2v1h-2zM22 102h2v1h-2zM25 102h2v1h-2zM35 102h1v1h-1zM45 102h1v1h-1zM47 102h1v1h-1zM6 104h1v1h-1zM19 104h2v1h-2zM32 104h1v1h-1zM45 104h1v1h-1zM3 105h1v1h-1zM19 105h1v1h-1zM21 105h1v1h-1zM25 105h1v1h-1zM28 105h1v1h-1zM30 105h2v1h-2zM33 105h1v1h-1zM38 105h1v1h-1zM45 105h1v1h-1zM3 106h1v1h-1zM17 106h1v1h-1zM19 106h1v1h-1zM24 106h1v1h-1zM42 106h1v1h-1zM17 107h1v1h-1zM30 107h2v1h-2zM21 108h1v1h-1zM29 108h1v1h-1zM31 108h1v1h-1zM43 108h1v1h-1zM2 110h1v1h-1zM34 110h1v1h-1zM40 110h1v1h-1zM46 110h1v1h-1zM48 110h1v1h-1zM16 112h1v1h-1zM43 112h2v1h-2zM4 113h1v1h-1zM20 113h1v1h-1zM27 113h2v1h-2zM30 113h1v1h-1zM33 113h1v1h-1zM35 113h1v1h-1zM48 113h1v1h-1zM21 114h1v1h-1zM37 114h1v1h-1zM49 114h1v1h-1zM0 115h2v1h-2zM22 115h1v1h-1zM28 115h2v1h-2zM37 115h1v1h-1zM5 116h1v1h-1zM26 116h1v1h-1zM32 116h1v1h-1zM43 116h2v1h-2zM47 116h1v1h-1zM6 117h1v1h-1zM7 118h1v1h-1zM12 118h1v1h-1zM0 119h1v1h-1zM3 119h1v1h-1zM24 119h1v1h-1zM28 119h1v1h-1zM41 119h1v1h-1zM44 119h1v1h-1zM46 119h1v1h-1zM49 119h1v1h-1zM1 120h1v1h-1zM23 120h1v1h-1zM31 120h2v1h-2zM5 121h1v1h-1zM33 121h1v1h-1zM41 121h1v1h-1zM43 121h1v1h-1zM47 121h3v1h-3zM2 122h1v1h-1zM22 122h1v1h-1zM28 122h1v1h-1zM31 122h1v1h-1zM37 122h1v1h-1zM39 122h1v1h-1zM46 122h1v1h-1zM3 123h1v1h-1zM7 123h1v1h-1zM17 123h1v1h-1zM28 123h1v1h-1zM32 123h2v1h-2zM37 123h2v1h-2zM5 124h1v1h-1zM26 124h1v1h-1zM30 124h2v1h-2zM46 124h1v1h-1zM5 125h2v1h-2zM21 125h1v1h-1zM32 125h1v1h-1zM41 125h3v1h-3zM18 126h1v1h-1zM23 126h1v1h-1zM26 126h1v1h-1zM29 126h1v1h-1zM33 126h1v1h-1zM44 126h1v1h-1zM5 127h1v1h-1zM31 127h1v1h-1zM34 127h1v1h-1zM45 127h1v1h-1zM3 128h1v1h-1zM16 128h1v1h-1zM20 128h1v1h-1zM48 128h1v1h-1zM6 129h1v1h-1zM16 129h1v1h-1zM18 129h2v1h-2zM22 129h1v1h-1zM49 129h1v1h-1zM16 130h2v1h-2zM31 130h1v1h-1zM40 130h1v1h-1zM48 130h1v1h-1zM0 131h1v1h-1zM16 132h1v1h-1zM32 132h1v1h-1zM47 132h2v1h-2zM4 133h1v1h-1zM16 133h2v1h-2zM20 133h1v1h-1zM26 133h1v1h-1zM37 133h1v1h-1zM42 133h1v1h-1zM11 134h1v1h-1zM13 134h1v1h-1zM32 134h1v1h-1zM38 134h1v1h-1zM28 135h1v1h-1zM30 135h1v1h-1zM37 135h1v1h-1zM40 135h1v1h-1zM48 135h1v1h-1zM4 136h1v1h-1zM27 136h1v1h-1zM46 136h1v1h-1zM4 137h1v1h-1zM23 137h2v1h-2zM30 137h1v1h-1zM40 137h2v1h-2zM4 138h1v1h-1zM36 138h2v1h-2zM40 138h1v1h-1zM44 138h1v1h-1zM16 139h1v1h-1zM28 139h1v1h-1zM46 139h1v1h-1zM48 139h1v1h-1z"/>
<path fill="#89c07a" d="M1 0h1v1h-1zM4 0h1v1h-1zM25 0h1v1h-1zM38 0h1v1h-1zM24 2h2v1h-2zM42 2h1v1h-1zM22 3h2v1h-2zM25 3h1v1h-1zM31 3h1v1h-1zM33 3h1v1h-1zM43 3h1v1h-1zM25 5h1v1h-1zM19 6h1v1h-1zM21 6h1v1h-1zM37 6h1v1h-1zM4 11h1v1h-1zM26 11h1v1h-1zM29 11h1v1h-1zM31 11h1v1h-1zM49 11h1v1h-1zM45 12h1v1h-1zM48 14h1v1h-1zM3 15h1v1h-1zM4 18h1v1h-1zM3 20h2v1h-2zM39 20h1v1h-1zM48 20h1v1h-1zM4 22h1v1h-1zM16 22h1v1h-1zM30 24h1v1h-1zM16 25h1v1h-1zM19 27h1v1h-1zM33 27h1v1h-1zM45 27h1v1h-1zM49 27h1v1h-1zM43 28h1v1h-1zM5 29h1v1h-1zM32 29h1v1h-1zM0 30h1v1h-1zM18 31h1v1h-1zM46 33h1v1h-1zM5 34h1v1h-1zM31 34h1v1h-1zM34 34h1v1h-1zM26 35h1v1h-1zM31 35h1v1h-1zM41 35h1v1h-1zM16 36h1v1h-1zM0 37h2v1h-2zM40 37h1v1h-1zM46 37h1v1h-1zM38 38h1v1h-1zM41 38h1v1h-1zM14 39h1v1h-1zM16 39h1v1h-1zM30 41h1v1h-1zM3 42h1v1h-1zM29 42h1v1h-1zM49 43h1v1h-1zM10 45h1v1h-1zM13 45h1v1h-1zM6 46h1v1h-1zM2 48h2v1h-2zM20 48h1v1h-1zM49 48h1v1h-1zM6 49h1v1h-1zM19 49h2v1h-2zM27 49h1v1h-1zM7 50h1v1h-1zM16 50h1v1h-1zM32 50h1v1h-1zM3 51h1v1h-1zM43 51h1v1h-1zM3 53h1v1h-1zM21 53h1v1h-1zM25 53h2v1h-2zM32 53h1v1h-1zM40 53h1v1h-1zM47 53h2v1h-2zM12 55h1v1h-1zM21 56h1v1h-1zM10 57h1v1h-1zM48 57h1v1h-1zM7 58h2v1h-2zM12 58h1v1h-1zM35 58h1v1h-1zM37 58h1v1h-1zM7 59h1v1h-1zM13 59h1v1h-1zM15 59h1v1h-1zM11 60h1v1h-1zM14 60h1v1h-1zM1 61h1v1h-1zM26 61h1v1h-1zM34 61h1v1h-1zM45 61h1v1h-1zM0 62h1v1h-1zM8 63h1v1h-1zM14 63h1v1h-1zM14 64h1v1h-1zM34 64h1v1h-1zM9 65h1v1h-1zM11 65h1v1h-1zM4 66h1v1h-1zM7 66h1v1h-1zM23 66h1v1h-1zM40 66h1v1h-1zM1 67h2v1h-2zM5 67h1v1h-1zM11 67h1v1h-1zM13 67h1v1h-1zM15 67h1v1h-1zM21 67h1v1h-1zM26 67h1v1h-1zM31 67h1v1h-1zM9 68h1v1h-1zM11 68h1v1h-1zM36 68h1v1h-1zM49 68h1v1h-1zM6 69h1v1h-1zM8 69h2v1h-2zM18 69h2v1h-2zM31 69h1v1h-1zM27 70h1v1h-1zM7 71h1v1h-1zM12 71h1v1h-1zM1 72h1v1h-1zM6 72h1v1h-1zM15 72h1v1h-1zM19 72h1v1h-1zM10 74h2v1h-2zM15 74h1v1h-1zM37 75h2v1h-2zM42 75h1v1h-1zM48 75h1v1h-1zM11 76h1v1h-1zM17 76h1v1h-1zM4 81h1v1h-1zM5 83h1v1h-1zM6 84h1v1h-1zM4 87h1v1h-1zM16 91h1v1h-1zM6 96h1v1h-1zM16 98h1v1h-1zM32 99h2v1h-2zM36 99h1v1h-1zM24 101h1v1h-1zM34 101h1v1h-1zM4 102h1v1h-1zM16 102h1v1h-1zM21 102h1v1h-1zM3 104h1v1h-1zM4 105h1v1h-1zM6 105h1v1h-1zM22 105h1v1h-1zM25 106h2v1h-2zM43 106h2v1h-2zM18 107h1v1h-1zM41 107h3v1h-3zM0 108h1v1h-1zM2 108h1v1h-1zM18 108h1v1h-1zM45 108h1v1h-1zM6 109h1v1h-1zM11 109h1v1h-1zM16 110h1v1h-1zM22 110h1v1h-1zM28 110h1v1h-1zM36 110h1v1h-1zM41 110h1v1h-1zM49 110h1v1h-1zM6 112h1v1h-1zM24 112h1v1h-1zM41 112h2v1h-2zM0 113h3v1h-3zM24 113h1v1h-1zM41 113h1v1h-1zM49 113h1v1h-1zM1 114h2v1h-2zM18 114h1v1h-1zM40 114h1v1h-1zM43 114h1v1h-1zM48 114h1v1h-1zM15 115h1v1h-1zM29 116h1v1h-1zM11 117h1v1h-1zM13 117h1v1h-1zM0 118h1v1h-1zM10 118h1v1h-1zM6 119h1v1h-1zM12 119h1v1h-1zM8 120h1v1h-1zM20 121h1v1h-1zM25 121h1v1h-1zM5 122h1v1h-1zM24 122h3v1h-3zM29 122h1v1h-1zM41 122h1v1h-1zM43 122h1v1h-1zM13 123h2v1h-2zM16 123h1v1h-1zM39 123h1v1h-1zM0 124h2v1h-2zM9 124h1v1h-1zM14 124h1v1h-1zM7 125h1v1h-1zM7 126h1v1h-1zM48 126h1v1h-1zM14 127h1v1h-1zM18 128h2v1h-2zM25 128h1v1h-1zM34 128h1v1h-1zM10 129h1v1h-1zM37 130h1v1h-1zM39 130h1v1h-1zM37 132h1v1h-1zM19 133h1v1h-1zM47 133h1v1h-1zM6 135h1v1h-1zM9 135h1v1h-1zM39 135h1v1h-1zM31 136h2v1h-2zM38 136h1v1h-1zM42 136h1v1h-1zM45 136h1v1h-1zM47 136h1v1h-1zM14 137h1v1h-1zM35 137h1v1h-1zM3 138h1v1h-1zM22 138h1v1h-1zM39 138h1v1h-1zM43 138h1v1h-1z"/>
<path fill="#89c57a" d="M2 0h1v1h-1zM19 0h1v1h-1zM28 0h1v1h-1zM17 1h1v1h-1zM19 2h1v1h-1zM33 2h1v1h-1zM47 2h1v1h-1zM3 3h1v1h-1zM6 3h1v1h-1zM46 3h1v1h-1zM31 4h1v1h-1zM45 8h1v1h-1zM4 9h1v1h-1zM25 11h1v1h-1zM27 12h1v1h-1zM38 12h1v1h-1zM42 12h1v1h-1zM40 14h1v1h-1zM6 17h1v1h-1zM41 20h1v1h-1zM45 20h1v1h-1zM35 22h1v1h-1zM6 23h1v1h-1zM30 23h1v1h-1zM17 26h1v1h-1zM37 26h1v1h-1zM20 27h1v1h-1zM41 27h4v1h-4zM31 28h1v1h-1zM16 31h1v1h-1zM34 31h1v1h-1zM26 33h1v1h-1zM22 35h2v1h-2zM25 35h1v1h-1zM4 37h1v1h-1zM20 37h1v1h-1zM16 38h1v1h-1zM37 38h1v1h-1zM4 39h1v1h-1zM37 42h1v1h-1zM22 43h1v1h-1zM34 43h1v1h-1zM15 46h1v1h-1zM32 47h1v1h-1zM22 49h1v1h-1zM44 49h1v1h-1zM1 50h1v1h-1zM4 51h1v1h-1zM24 51h1v1h-1zM34 53h1v1h-1zM0 54h1v1h-1zM8 54h2v1h-2zM37 54h1v1h-1zM1 55h1v1h-1zM5 55h1v1h-1zM4 56h1v1h-1zM18 56h1v1h-1zM10 59h1v1h-1zM21 61h1v1h-1zM23 61h1v1h-1zM43 61h1v1h-1zM6 62h1v1h-1zM13 66h1v1h-1zM32 66h1v1h-1zM4 67h1v1h-1zM7 67h1v1h-1zM14 67h1v1h-1zM43 67h1v1h-1zM4 68h1v1h-1zM39 68h1v1h-1zM11 71h1v1h-1zM25 72h1v1h-1zM16 74h1v1h-1zM2 75h1v1h-1zM22 75h1v1h-1zM39 75h1v1h-1zM49 75h1v1h-1zM1 76h1v1h-1zM21 76h1v1h-1zM9 77h1v1h-1zM6 85h1v1h-1zM16 88h1v1h-1zM0 91h1v1h-1zM2 91h1v1h-1zM0 94h1v1h-1zM5 94h1v1h-1zM18 95h1v1h-1zM3 99h1v1h-1zM45 99h2v1h-2zM45 101h1v1h-1zM32 102h1v1h-1zM38 102h1v1h-1zM46 102h1v1h-1zM45 106h2v1h-2zM20 107h1v1h-1zM35 107h1v1h-1zM41 108h1v1h-1zM42 110h1v1h-1zM22 114h2v1h-2zM33 114h1v1h-1zM42 114h1v1h-1zM12 116h1v1h-1zM11 118h1v1h-1zM46 118h1v1h-1zM23 119h1v1h-1zM35 121h1v1h-1zM4 122h1v1h-1zM17 122h1v1h-1zM49 122h1v1h-1zM10 124h1v1h-1zM16 124h1v1h-1zM31 125h1v1h-1zM33 125h1v1h-1zM39 125h2v1h-2zM38 127h1v1h-1zM21 128h1v1h-1zM23 128h1v1h-1zM31 128h1v1h-1zM47 128h1v1h-1zM42 132h1v1h-1zM39 133h1v1h-1zM12 134h1v1h-1zM19 135h1v1h-1zM10 136h1v1h-1zM22 136h1v1h-1zM26 136h1v1h-1zM0 137h1v1h-1zM24 138h1v1h-1zM29 138h1v1h-1zM34 138h1v1h-1z"/>
<path fill="#8ec57a" d="M3 0h1v1h-1zM26 0h1v1h-1zM39 0h1v1h-1zM32 2h1v1h-1zM48 2h1v1h-1zM32 3h1v1h-1zM36 5h1v1h-1zM30 6h1v1h-1zM37 8h1v1h-1zM17 10h1v1h-1zM46 10h1v1h-1zM17 11h1v1h-1zM4 12h1v1h-1zM28 12h1v1h-1zM35 12h1v1h-1zM30 15h1v1h-1zM22 20h1v1h-1zM31 20h1v1h-1zM42 20h1v1h-1zM0 22h1v1h-1zM25 25h1v1h-1zM25 26h1v1h-1zM0 28h1v1h-1zM3 28h1v1h-1zM33 28h1v1h-1zM29 31h1v1h-1zM35 31h1v1h-1zM39 31h1v1h-1zM4 32h1v1h-1zM44 32h1v1h-1zM3 33h1v1h-1zM16 33h1v1h-1zM27 33h1v1h-1zM22 34h2v1h-2zM4 35h1v1h-1zM5 36h1v1h-1zM43 36h1v1h-1zM2 37h1v1h-1zM23 37h1v1h-1zM37 37h1v1h-1zM5 38h1v1h-1zM1 40h2v1h-2zM45 40h1v1h-1zM40 41h1v1h-1zM19 42h1v1h-1zM5 43h1v1h-1zM16 43h1v1h-1zM38 43h1v1h-1zM20 46h1v1h-1zM43 46h1v1h-1zM48 46h1v1h-1zM16 47h1v1h-1zM1 48h1v1h-1zM19 48h1v1h-1zM33 50h1v1h-1zM16 51h1v1h-1zM31 51h1v1h-1zM34 51h1v1h-1zM42 51h1v1h-1zM28 53h1v1h-1zM31 53h1v1h-1zM7 54h1v1h-1zM14 54h1v1h-1zM39 56h1v1h-1zM22 58h1v1h-1zM28 58h1v1h-1zM43 58h1v1h-1zM8 59h1v1h-1zM22 61h1v1h-1zM24 61h1v1h-1zM30 61h1v1h-1zM38 61h1v1h-1zM13 63h1v1h-1zM18 63h1v1h-1zM7 65h1v1h-1zM14 65h1v1h-1zM34 65h1v1h-1zM1 66h1v1h-1zM18 67h1v1h-1zM2 68h1v1h-1zM33 68h1v1h-1zM43 68h1v1h-1zM17 69h1v1h-1zM7 70h1v1h-1zM7 73h1v1h-1zM14 74h1v1h-1zM0 75h1v1h-1zM4 75h2v1h-2zM40 75h1v1h-1zM46 75h1v1h-1zM12 76h1v1h-1zM26 76h1v1h-1zM6 77h1v1h-1zM6 86h1v1h-1zM3 90h1v1h-1zM33 90h1v1h-1zM1 91h1v1h-1zM47 91h1v1h-1zM16 93h1v1h-1zM48 95h1v1h-1zM6 97h1v1h-1zM29 99h1v1h-1zM38 99h1v1h-1zM48 99h1v1h-1zM5 100h1v1h-1zM5 101h1v1h-1zM24 102h1v1h-1zM34 102h1v1h-1zM48 102h1v1h-1zM40 104h1v1h-1zM39 105h1v1h-1zM6 106h1v1h-1zM3 107h1v1h-1zM16 107h1v1h-1zM19 107h1v1h-1zM33 107h1v1h-1zM45 107h1v1h-1zM48 108h1v1h-1zM38 110h1v1h-1zM11 111h2v1h-2zM26 112h1v1h-1zM39 112h1v1h-1zM46 112h1v1h-1zM16 113h1v1h-1zM19 114h1v1h-1zM31 114h2v1h-2zM9 118h1v1h-1zM13 119h1v1h-1zM19 119h1v1h-1zM24 121h1v1h-1zM44 121h1v1h-1zM21 122h1v1h-1zM47 125h1v1h-1zM5 126h1v1h-1zM10 126h1v1h-1zM41 126h1v1h-1zM6 127h2v1h-2zM10 127h1v1h-1zM39 127h1v1h-1zM43 127h1v1h-1zM29 128h1v1h-1zM36 128h1v1h-1zM47 130h1v1h-1zM24 133h1v1h-1zM9 134h1v1h-1zM7 135h1v1h-1zM44 135h1v1h-1zM49 135h1v1h-1zM17 136h1v1h-1zM21 136h1v1h-1zM37 136h1v1h-1zM43 136h1v1h-1zM35 138h1v1h-1z"/>
<path fill="#84c084" d="M5 0h1v1h-1zM0 2h1v1h-1zM45 2h1v1h-1zM34 3h1v1h-1zM44 3h2v1h-2zM22 6h1v1h-1zM24 6h1v1h-1zM27 6h1v1h-1zM49 6h1v1h-1zM3 10h1v1h-1zM45 10h1v1h-1zM5 11h1v1h-1zM29 15h1v1h-1zM15 21h1v1h-1zM6 27h1v1h-1zM16 27h1v1h-1zM2 28h1v1h-1zM6 28h1v1h-1zM40 28h1v1h-1zM7 29h1v1h-1zM16 29h1v1h-1zM10 30h1v1h-1zM6 31h1v1h-1zM38 31h1v1h-1zM43 31h1v1h-1zM3 32h1v1h-1zM16 34h1v1h-1zM28 34h1v1h-1zM6 36h1v1h-1zM13 36h1v1h-1zM5 37h1v1h-1zM7 38h1v1h-1zM7 39h1v1h-1zM13 39h1v1h-1zM15 40h1v1h-1zM10 41h1v1h-1zM13 41h1v1h-1zM0 44h1v1h-1zM12 44h1v1h-1zM6 45h1v1h-1zM12 45h1v1h-1zM14 45h1v1h-1zM9 46h1v1h-1zM11 47h1v1h-1zM41 47h1v1h-1zM12 48h1v1h-1zM11 49h1v1h-1zM13 49h1v1h-1zM12 52h2v1h-2zM0 53h1v1h-1zM11 54h1v1h-1zM15 54h1v1h-1zM15 55h1v1h-1zM14 56h1v1h-1zM30 56h1v1h-1zM12 57h1v1h-1zM11 58h1v1h-1zM13 58h1v1h-1zM5 61h1v1h-1zM7 61h1v1h-1zM9 61h1v1h-1zM18 61h1v1h-1zM20 61h1v1h-1zM25 61h1v1h-1zM29 61h1v1h-1zM11 62h3v1h-3zM10 65h1v1h-1zM0 66h1v1h-1zM10 66h1v1h-1zM15 66h1v1h-1zM8 68h1v1h-1zM29 68h1v1h-1zM32 68h1v1h-1zM10 69h1v1h-1zM12 69h2v1h-2zM14 70h1v1h-1zM15 71h1v1h-1zM11 75h1v1h-1zM14 75h2v1h-2zM47 75h1v1h-1zM14 76h2v1h-2zM6 82h1v1h-1zM16 85h1v1h-1zM6 92h1v1h-1zM5 99h1v1h-1zM43 102h1v1h-1zM6 103h1v1h-1zM15 103h1v1h-1zM16 105h1v1h-1zM1 108h1v1h-1zM15 108h1v1h-1zM8 109h1v1h-1zM12 109h1v1h-1zM10 112h1v1h-1zM19 112h1v1h-1zM6 113h1v1h-1zM40 113h1v1h-1zM4 114h2v1h-2zM7 115h1v1h-1zM9 115h1v1h-1zM12 115h1v1h-1zM11 116h1v1h-1zM47 119h1v1h-1zM11 120h1v1h-1zM13 121h1v1h-1zM21 121h1v1h-1zM7 122h1v1h-1zM14 122h1v1h-1zM12 123h1v1h-1zM15 123h1v1h-1zM11 124h1v1h-1zM16 125h1v1h-1zM13 126h3v1h-3zM47 126h1v1h-1zM2 128h1v1h-1zM22 128h1v1h-1zM45 128h1v1h-1zM11 129h2v1h-2zM15 129h1v1h-1zM7 131h1v1h-1zM14 132h1v1h-1zM14 133h1v1h-1zM27 133h1v1h-1zM14 135h1v1h-1zM38 135h1v1h-1zM3 136h1v1h-1zM18 138h1v1h-1zM21 138h1v1h-1zM31 138h1v1h-1zM33 138h1v1h-1z"/>
<path fill="#7ac08e" d="M6 0h1v1h-1zM5 2h1v1h-1zM17 2h1v1h-1zM6 8h1v1h-1zM8 9h1v1h-1zM11 9h2v1h-2zM6 11h1v1h-1zM15 12h1v1h-1zM11 13h1v1h-1zM15 14h1v1h-1zM7 16h1v1h-1zM10 17h1v1h-1zM7 19h1v1h-1zM15 19h1v1h-1zM8 21h1v1h-1zM11 21h1v1h-1zM10 22h2v1h-2zM10 23h1v1h-1zM14 23h1v1h-1zM6 24h1v1h-1zM12 24h1v1h-1zM14 24h2v1h-2zM9 25h1v1h-1zM13 25h1v1h-1zM6 26h1v1h-1zM12 26h1v1h-1zM7 27h1v1h-1zM7 28h1v1h-1zM9 28h1v1h-1zM14 28h1v1h-1zM13 29h1v1h-1zM7 30h3v1h-3zM13 30h1v1h-1zM8 31h1v1h-1zM8 32h2v1h-2zM13 32h1v1h-1zM9 33h1v1h-1zM11 33h1v1h-1zM13 33h1v1h-1zM10 36h1v1h-1zM14 36h1v1h-1zM7 37h1v1h-1zM9 37h2v1h-2zM8 38h3v1h-3zM12 38h1v1h-1zM9 39h3v1h-3zM12 40h1v1h-1zM14 40h1v1h-1zM9 41h1v1h-1zM14 41h1v1h-1zM7 42h1v1h-1zM9 42h3v1h-3zM9 43h1v1h-1zM11 43h1v1h-1zM15 43h1v1h-1zM8 46h1v1h-1zM11 46h4v1h-4zM8 47h1v1h-1zM14 47h1v1h-1zM14 49h1v1h-1zM9 50h3v1h-3zM15 50h1v1h-1zM7 51h3v1h-3zM11 51h1v1h-1zM13 51h1v1h-1zM15 51h1v1h-1zM9 53h1v1h-1zM12 53h1v1h-1zM14 55h1v1h-1zM6 56h1v1h-1zM10 56h2v1h-2zM13 56h1v1h-1zM10 61h2v1h-2zM15 61h1v1h-1zM9 62h2v1h-2zM15 68h1v1h-1zM35 68h1v1h-1zM7 76h1v1h-1zM7 84h1v1h-1zM7 85h1v1h-1zM5 87h1v1h-1zM6 91h1v1h-1zM7 94h1v1h-1zM15 94h1v1h-1zM6 95h1v1h-1zM15 95h1v1h-1zM11 96h1v1h-1zM8 97h1v1h-1zM12 97h2v1h-2zM5 98h1v1h-1zM15 98h1v1h-1zM0 99h1v1h-1zM6 100h1v1h-1zM9 100h1v1h-1zM11 100h1v1h-1zM9 103h1v1h-1zM12 103h1v1h-1zM14 103h1v1h-1zM11 104h1v1h-1zM15 104h1v1h-1zM9 105h1v1h-1zM15 105h1v1h-1zM8 106h1v1h-1zM11 106h1v1h-1zM15 106h1v1h-1zM6 107h1v1h-1zM9 110h4v1h-4zM14 111h1v1h-1zM8 112h1v1h-1zM8 113h1v1h-1zM10 113h1v1h-1zM13 113h1v1h-1zM15 113h1v1h-1zM6 114h1v1h-1zM13 114h3v1h-3zM8 116h3v1h-3zM14 116h1v1h-1zM8 119h1v1h-1zM9 121h2v1h-2zM10 122h1v1h-1zM12 122h1v1h-1zM8 123h1v1h-1zM10 123h1v1h-1zM12 125h1v1h-1zM14 125h1v1h-1zM7 128h1v1h-1zM14 128h2v1h-2zM33 128h1v1h-1zM9 130h1v1h-1zM11 133h3v1h-3zM11 136h1v1h-1zM12 137h1v1h-1z"/>
<path fill="#5cbbc0" d="M7 0h1v1h-1zM9 85h1v1h-1z"/>
<path fill="#2aace3" d="M8 0h1v1h-1zM11 81h1v1h-1z"/>
<path fill="#2a98d4" d="M9 0h1v1h-1z"/>
<path fill="#2a70b6" d="M10 0h1v1h-1zM10 80h1v1h-1zM7 81h1v1h-1z"/>
<path fill="#2a75bb" d="M11 0h1v1h-1zM7 79h1v1h-1zM10 79h1v1h-1z"/>
<path fill="#2a8ecf" d="M12 0h1v1h-1z"/>
<path fill="#39b1de" d="M13 0h1v1h-1zM14 81h1v1h-1z"/>
<path fill="#5cbbbb" d="M14 0h1v1h-1zM10 1h1v1h-1zM13 1h2v1h-2zM13 90h1v1h-1z"/>
<path fill="#70c09d" d="M15 0h2v1h-2zM15 1h1v1h-1zM6 2h1v1h-1zM7 5h1v1h-1zM8 7h3v1h-3zM15 8h1v1h-1zM7 9h1v1h-1zM14 9h1v1h-1zM9 10h1v1h-1zM11 10h1v1h-1zM13 10h1v1h-1zM15 10h1v1h-1zM15 11h1v1h-1zM10 12h2v1h-2zM13 13h1v1h-1zM8 14h1v1h-1zM14 14h1v1h-1zM9 15h1v1h-1zM12 15h1v1h-1zM13 16h2v1h-2zM13 17h1v1h-1zM8 18h1v1h-1zM10 18h1v1h-1zM12 18h1v1h-1zM9 19h1v1h-1zM11 19h1v1h-1zM13 19h1v1h-1zM9 21h2v1h-2zM13 22h1v1h-1zM8 23h1v1h-1zM12 23h1v1h-1zM8 24h1v1h-1zM11 24h1v1h-1zM11 26h1v1h-1zM14 26h1v1h-1zM14 27h1v1h-1zM11 31h1v1h-1zM15 31h1v1h-1zM11 32h1v1h-1zM12 35h2v1h-2zM10 43h1v1h-1zM12 82h1v1h-1zM8 83h1v1h-1zM15 83h1v1h-1zM11 85h1v1h-1zM15 85h1v1h-1zM14 86h2v1h-2zM7 87h1v1h-1zM8 88h2v1h-2zM13 88h1v1h-1zM15 88h1v1h-1zM9 89h1v1h-1zM13 91h1v1h-1zM7 93h1v1h-1zM14 93h1v1h-1zM9 94h1v1h-1zM13 94h1v1h-1zM11 95h1v1h-1zM15 96h1v1h-1zM14 98h1v1h-1zM8 99h1v1h-1zM12 99h1v1h-1zM14 99h1v1h-1zM12 101h1v1h-1zM14 101h1v1h-1zM9 102h1v1h-1zM13 102h3v1h-3zM13 104h2v1h-2zM11 105h1v1h-1zM11 107h1v1h-1zM8 108h1v1h-1zM10 108h1v1h-1zM12 108h1v1h-1zM8 114h1v1h-1zM10 114h1v1h-1zM12 128h1v1h-1z"/>
<path fill="#66c0ac" d="M17 0h1v1h-1zM14 11h1v1h-1zM10 14h1v1h-1zM13 18h1v1h-1zM13 79h1v1h-1zM9 84h1v1h-1zM12 84h1v1h-1zM12 85h1v1h-1zM11 86h1v1h-1zM8 90h1v1h-1zM13 93h1v1h-1z"/>
<path fill="#70c098" d="M18 0h1v1h-1zM11 8h1v1h-1zM10 9h1v1h-1zM7 11h1v1h-1zM8 13h1v1h-1zM14 13h1v1h-1zM9 16h1v1h-1zM9 18h1v1h-1zM14 22h1v1h-1zM9 23h1v1h-1zM12 31h1v1h-1zM9 34h1v1h-1zM7 40h1v1h-1zM7 89h1v1h-1zM14 91h1v1h-1zM11 93h1v1h-1zM12 94h1v1h-1zM14 94h1v1h-1zM7 95h1v1h-1zM10 95h1v1h-1zM14 95h1v1h-1zM9 104h1v1h-1zM10 107h1v1h-1zM13 107h1v1h-1z"/>
<path fill="#8ec575" d="M23 0h2v1h-2zM37 0h1v1h-1zM44 0h1v1h-1zM48 0h1v1h-1zM1 2h1v1h-1zM22 2h2v1h-2zM36 2h1v1h-1zM38 2h1v1h-1zM19 3h1v1h-1zM21 3h1v1h-1zM30 3h1v1h-1zM35 3h1v1h-1zM40 3h3v1h-3zM48 3h1v1h-1zM2 4h1v1h-1zM5 4h1v1h-1zM30 4h1v1h-1zM1 5h2v1h-2zM5 5h1v1h-1zM26 5h1v1h-1zM35 5h1v1h-1zM37 5h1v1h-1zM42 5h2v1h-2zM17 6h1v1h-1zM28 6h1v1h-1zM35 6h1v1h-1zM43 6h1v1h-1zM16 7h1v1h-1zM5 8h1v1h-1zM3 9h1v1h-1zM18 10h1v1h-1zM24 10h1v1h-1zM28 10h1v1h-1zM30 10h1v1h-1zM36 10h1v1h-1zM2 11h2v1h-2zM21 11h1v1h-1zM32 11h3v1h-3zM43 11h2v1h-2zM48 11h1v1h-1zM1 12h1v1h-1zM21 12h1v1h-1zM29 12h1v1h-1zM34 12h1v1h-1zM16 13h1v1h-1zM28 13h1v1h-1zM33 13h1v1h-1zM5 14h1v1h-1zM29 14h1v1h-1zM31 14h1v1h-1zM41 14h1v1h-1zM46 14h1v1h-1zM49 14h1v1h-1zM4 15h1v1h-1zM16 15h1v1h-1zM18 15h1v1h-1zM21 15h1v1h-1zM42 15h1v1h-1zM16 16h1v1h-1zM44 16h1v1h-1zM47 17h1v1h-1zM0 18h1v1h-1zM20 18h1v1h-1zM35 18h1v1h-1zM38 18h1v1h-1zM45 18h1v1h-1zM1 20h1v1h-1zM18 20h1v1h-1zM20 20h1v1h-1zM26 20h2v1h-2zM30 20h1v1h-1zM33 20h2v1h-2zM38 20h1v1h-1zM49 20h1v1h-1zM6 21h1v1h-1zM6 22h1v1h-1zM22 22h1v1h-1zM36 22h1v1h-1zM46 23h1v1h-1zM16 24h1v1h-1zM21 25h1v1h-1zM24 26h1v1h-1zM26 26h2v1h-2zM30 26h1v1h-1zM5 27h1v1h-1zM24 27h2v1h-2zM37 27h2v1h-2zM4 28h1v1h-1zM21 28h2v1h-2zM25 28h1v1h-1zM32 28h1v1h-1zM36 28h1v1h-1zM5 31h1v1h-1zM19 31h1v1h-1zM23 31h4v1h-4zM33 31h1v1h-1zM41 31h1v1h-1zM0 32h1v1h-1zM16 32h2v1h-2zM2 33h1v1h-1zM37 33h1v1h-1zM41 33h2v1h-2zM0 34h1v1h-1zM21 34h1v1h-1zM27 34h1v1h-1zM37 34h1v1h-1zM40 34h1v1h-1zM45 34h1v1h-1zM0 35h1v1h-1zM6 35h1v1h-1zM24 35h1v1h-1zM27 35h1v1h-1zM30 35h1v1h-1zM32 35h4v1h-4zM39 35h1v1h-1zM43 35h1v1h-1zM48 35h1v1h-1zM19 37h1v1h-1zM30 37h1v1h-1zM34 37h1v1h-1zM43 37h3v1h-3zM3 38h2v1h-2zM24 38h1v1h-1zM39 38h1v1h-1zM42 38h1v1h-1zM48 38h1v1h-1zM0 39h1v1h-1zM6 39h1v1h-1zM16 40h1v1h-1zM19 40h1v1h-1zM47 40h2v1h-2zM25 41h1v1h-1zM31 41h1v1h-1zM43 41h1v1h-1zM47 41h1v1h-1zM2 42h1v1h-1zM16 42h1v1h-1zM18 42h1v1h-1zM20 42h1v1h-1zM32 42h1v1h-1zM44 42h1v1h-1zM46 42h2v1h-2zM2 43h2v1h-2zM19 43h1v1h-1zM23 43h2v1h-2zM28 43h3v1h-3zM36 43h1v1h-1zM39 43h2v1h-2zM42 43h1v1h-1zM45 43h2v1h-2zM48 43h1v1h-1zM2 44h1v1h-1zM6 44h1v1h-1zM5 46h1v1h-1zM28 46h1v1h-1zM33 46h1v1h-1zM42 46h1v1h-1zM26 47h1v1h-1zM35 47h1v1h-1zM42 47h1v1h-1zM0 48h1v1h-1zM7 48h1v1h-1zM16 48h1v1h-1zM18 48h1v1h-1zM21 48h1v1h-1zM35 48h2v1h-2zM43 48h1v1h-1zM48 48h1v1h-1zM0 49h1v1h-1zM12 49h1v1h-1zM21 49h1v1h-1zM26 49h1v1h-1zM47 49h1v1h-1zM6 50h1v1h-1zM41 50h1v1h-1zM1 51h1v1h-1zM25 51h1v1h-1zM33 51h1v1h-1zM15 52h1v1h-1zM27 52h3v1h-3zM35 52h2v1h-2zM1 53h1v1h-1zM4 53h1v1h-1zM17 53h2v1h-2zM20 53h1v1h-1zM38 53h2v1h-2zM12 54h2v1h-2zM39 54h1v1h-1zM9 55h1v1h-1zM11 55h1v1h-1zM16 55h2v1h-2zM0 56h1v1h-1zM3 56h1v1h-1zM35 56h2v1h-2zM48 56h1v1h-1zM6 57h1v1h-1zM14 57h1v1h-1zM18 57h1v1h-1zM22 57h1v1h-1zM31 57h1v1h-1zM40 57h1v1h-1zM49 57h1v1h-1zM23 58h1v1h-1zM25 58h1v1h-1zM27 58h1v1h-1zM29 58h1v1h-1zM40 58h1v1h-1zM3 59h1v1h-1zM14 59h1v1h-1zM27 60h4v1h-4zM2 61h1v1h-1zM4 61h1v1h-1zM27 61h1v1h-1zM31 61h1v1h-1zM33 61h1v1h-1zM35 61h1v1h-1zM42 61h1v1h-1zM47 61h1v1h-1zM2 62h1v1h-1zM34 62h2v1h-2zM3 63h1v1h-1zM7 63h1v1h-1zM17 63h1v1h-1zM4 64h1v1h-1zM10 64h1v1h-1zM13 64h1v1h-1zM15 64h1v1h-1zM21 64h1v1h-1zM31 64h1v1h-1zM8 65h1v1h-1zM12 65h2v1h-2zM16 65h1v1h-1zM35 65h1v1h-1zM11 66h1v1h-1zM16 66h1v1h-1zM10 67h1v1h-1zM17 67h1v1h-1zM22 67h1v1h-1zM27 67h1v1h-1zM32 67h3v1h-3zM39 67h1v1h-1zM37 68h2v1h-2zM47 68h2v1h-2zM21 69h1v1h-1zM35 69h1v1h-1zM11 70h1v1h-1zM24 70h1v1h-1zM26 70h1v1h-1zM45 70h1v1h-1zM47 70h1v1h-1zM0 71h1v1h-1zM2 71h1v1h-1zM10 71h1v1h-1zM16 71h1v1h-1zM40 71h1v1h-1zM4 72h2v1h-2zM24 72h1v1h-1zM28 72h1v1h-1zM33 72h1v1h-1zM35 72h1v1h-1zM42 72h1v1h-1zM46 72h2v1h-2zM2 73h1v1h-1zM13 73h2v1h-2zM45 73h1v1h-1zM13 74h1v1h-1zM1 75h1v1h-1zM6 75h2v1h-2zM17 75h1v1h-1zM25 75h1v1h-1zM36 75h1v1h-1zM41 75h1v1h-1zM43 75h1v1h-1zM0 76h1v1h-1zM20 76h1v1h-1zM22 76h1v1h-1zM45 76h1v1h-1zM14 77h2v1h-2zM1 80h1v1h-1zM1 84h1v1h-1zM0 87h1v1h-1zM24 87h1v1h-1zM49 87h1v1h-1zM5 88h1v1h-1zM5 89h1v1h-1zM4 90h1v1h-1zM16 90h1v1h-1zM46 90h1v1h-1zM34 95h1v1h-1zM39 95h1v1h-1zM47 95h1v1h-1zM2 96h1v1h-1zM47 96h1v1h-1zM5 97h1v1h-1zM1 98h1v1h-1zM17 98h1v1h-1zM19 98h1v1h-1zM28 98h1v1h-1zM46 98h1v1h-1zM49 98h1v1h-1zM23 99h1v1h-1zM35 99h1v1h-1zM39 99h1v1h-1zM43 99h1v1h-1zM0 101h1v1h-1zM27 101h2v1h-2zM35 101h1v1h-1zM42 101h1v1h-1zM0 102h2v1h-2zM31 102h1v1h-1zM44 102h1v1h-1zM3 103h1v1h-1zM0 104h2v1h-2zM4 104h1v1h-1zM16 104h1v1h-1zM37 104h1v1h-1zM39 104h1v1h-1zM41 104h1v1h-1zM0 105h3v1h-3zM32 105h1v1h-1zM34 105h1v1h-1zM36 105h2v1h-2zM40 105h1v1h-1zM4 106h1v1h-1zM18 106h1v1h-1zM22 106h1v1h-1zM41 106h1v1h-1zM21 107h3v1h-3zM32 107h1v1h-1zM34 107h1v1h-1zM36 107h1v1h-1zM49 107h1v1h-1zM4 108h1v1h-1zM16 108h1v1h-1zM26 108h2v1h-2zM36 108h3v1h-3zM40 108h1v1h-1zM42 108h1v1h-1zM49 108h1v1h-1zM17 110h2v1h-2zM20 110h1v1h-1zM30 110h1v1h-1zM35 110h1v1h-1zM6 111h1v1h-1zM25 112h1v1h-1zM27 112h2v1h-2zM32 112h1v1h-1zM40 112h1v1h-1zM47 112h1v1h-1zM3 113h1v1h-1zM19 113h1v1h-1zM26 113h1v1h-1zM34 113h1v1h-1zM36 113h1v1h-1zM38 113h1v1h-1zM42 113h3v1h-3zM46 113h2v1h-2zM0 114h1v1h-1zM39 114h1v1h-1zM47 114h1v1h-1zM42 115h1v1h-1zM4 116h1v1h-1zM28 116h1v1h-1zM7 117h1v1h-1zM14 118h2v1h-2zM4 119h1v1h-1zM16 119h1v1h-1zM20 119h1v1h-1zM34 119h1v1h-1zM16 120h1v1h-1zM33 120h2v1h-2zM16 121h1v1h-1zM23 121h1v1h-1zM26 121h1v1h-1zM34 121h1v1h-1zM36 121h1v1h-1zM39 121h1v1h-1zM45 121h1v1h-1zM16 122h1v1h-1zM27 122h1v1h-1zM30 122h1v1h-1zM33 122h1v1h-1zM6 124h1v1h-1zM20 124h1v1h-1zM28 124h1v1h-1zM17 125h1v1h-1zM22 125h1v1h-1zM25 125h1v1h-1zM29 125h2v1h-2zM35 125h1v1h-1zM38 125h1v1h-1zM44 125h2v1h-2zM49 125h1v1h-1zM6 126h1v1h-1zM39 126h1v1h-1zM42 126h2v1h-2zM0 127h1v1h-1zM15 127h1v1h-1zM20 127h1v1h-1zM26 127h1v1h-1zM37 127h1v1h-1zM40 127h1v1h-1zM30 128h1v1h-1zM39 128h1v1h-1zM49 128h1v1h-1zM7 129h3v1h-3zM23 130h1v1h-1zM33 130h1v1h-1zM41 130h2v1h-2zM25 131h1v1h-1zM11 132h1v1h-1zM15 132h1v1h-1zM36 132h1v1h-1zM43 132h1v1h-1zM28 133h2v1h-2zM31 133h2v1h-2zM40 133h2v1h-2zM45 133h2v1h-2zM48 133h1v1h-1zM33 134h1v1h-1zM18 135h1v1h-1zM21 135h1v1h-1zM24 135h1v1h-1zM31 135h1v1h-1zM5 136h1v1h-1zM23 136h1v1h-1zM29 136h1v1h-1zM35 136h1v1h-1zM44 136h1v1h-1zM15 137h1v1h-1zM26 138h1v1h-1zM38 138h1v1h-1zM49 138h1v1h-1zM0 139h1v1h-1zM27 139h1v1h-1z"/>
<path fill="#84c07f" d="M29 0h2v1h-2zM32 0h1v1h-1zM4 2h1v1h-1zM20 2h2v1h-2zM29 2h1v1h-1zM37 2h1v1h-1zM16 3h1v1h-1zM6 5h1v1h-1zM0 6h1v1h-1zM5 6h1v1h-1zM25 6h1v1h-1zM32 6h1v1h-1zM34 6h1v1h-1zM38 6h1v1h-1zM44 6h1v1h-1zM46 6h1v1h-1zM4 10h1v1h-1zM16 10h1v1h-1zM16 11h1v1h-1zM30 11h1v1h-1zM46 12h1v1h-1zM49 12h1v1h-1zM0 14h2v1h-2zM4 14h1v1h-1zM47 14h1v1h-1zM2 15h1v1h-1zM7 15h1v1h-1zM6 16h1v1h-1zM16 17h1v1h-1zM5 18h1v1h-1zM39 18h1v1h-1zM16 19h1v1h-1zM2 20h1v1h-1zM17 20h1v1h-1zM24 20h1v1h-1zM7 21h1v1h-1zM3 22h1v1h-1zM6 25h1v1h-1zM15 25h1v1h-1zM5 26h1v1h-1zM16 26h1v1h-1zM31 26h1v1h-1zM1 27h1v1h-1zM1 28h1v1h-1zM5 28h1v1h-1zM16 28h1v1h-1zM44 28h1v1h-1zM15 29h1v1h-1zM11 30h1v1h-1zM7 32h1v1h-1zM6 34h1v1h-1zM3 35h1v1h-1zM42 35h1v1h-1zM47 35h1v1h-1zM29 37h1v1h-1zM6 38h1v1h-1zM5 39h1v1h-1zM15 39h1v1h-1zM22 40h2v1h-2zM43 40h2v1h-2zM15 41h1v1h-1zM28 42h1v1h-1zM6 43h1v1h-1zM8 44h1v1h-1zM15 44h1v1h-1zM11 45h1v1h-1zM7 46h1v1h-1zM7 47h1v1h-1zM10 47h1v1h-1zM36 47h2v1h-2zM8 49h1v1h-1zM15 49h1v1h-1zM2 50h1v1h-1zM49 51h1v1h-1zM14 52h1v1h-1zM27 53h1v1h-1zM36 53h2v1h-2zM10 54h1v1h-1zM16 54h1v1h-1zM6 55h1v1h-1zM8 55h1v1h-1zM13 55h1v1h-1zM8 56h1v1h-1zM29 56h1v1h-1zM49 56h1v1h-1zM7 57h3v1h-3zM15 57h1v1h-1zM9 58h1v1h-1zM16 58h1v1h-1zM6 59h1v1h-1zM9 59h1v1h-1zM11 59h2v1h-2zM8 60h1v1h-1zM10 60h1v1h-1zM13 60h1v1h-1zM0 61h1v1h-1zM16 61h1v1h-1zM28 61h1v1h-1zM37 61h1v1h-1zM44 61h1v1h-1zM7 62h1v1h-1zM14 62h1v1h-1zM11 63h1v1h-1zM9 64h1v1h-1zM12 64h1v1h-1zM8 66h1v1h-1zM14 66h1v1h-1zM24 66h1v1h-1zM33 66h1v1h-1zM6 67h1v1h-1zM12 68h1v1h-1zM23 68h1v1h-1zM25 68h1v1h-1zM0 69h1v1h-1zM10 70h1v1h-1zM12 70h1v1h-1zM46 70h1v1h-1zM13 71h2v1h-2zM7 72h1v1h-1zM9 72h1v1h-1zM13 72h2v1h-2zM18 72h1v1h-1zM32 72h1v1h-1zM8 73h1v1h-1zM3 75h1v1h-1zM9 75h2v1h-2zM10 76h1v1h-1zM13 76h1v1h-1zM27 76h1v1h-1zM10 77h2v1h-2zM3 81h1v1h-1zM6 89h1v1h-1zM16 89h1v1h-1zM5 90h1v1h-1zM5 93h1v1h-1zM16 95h1v1h-1zM16 96h1v1h-1zM15 97h1v1h-1zM39 98h1v1h-1zM43 98h1v1h-1zM16 99h1v1h-1zM37 99h1v1h-1zM49 99h1v1h-1zM2 102h2v1h-2zM33 102h1v1h-1zM41 102h1v1h-1zM49 102h1v1h-1zM5 105h1v1h-1zM47 105h1v1h-1zM47 106h1v1h-1zM0 107h1v1h-1zM4 107h2v1h-2zM46 108h1v1h-1zM14 109h2v1h-2zM29 110h1v1h-1zM37 110h1v1h-1zM10 111h1v1h-1zM13 111h1v1h-1zM15 111h1v1h-1zM4 112h1v1h-1zM11 112h1v1h-1zM22 113h2v1h-2zM25 113h1v1h-1zM29 113h1v1h-1zM41 114h1v1h-1zM13 115h1v1h-1zM8 117h1v1h-1zM14 117h2v1h-2zM11 119h1v1h-1zM35 119h1v1h-1zM14 120h2v1h-2zM6 121h1v1h-1zM6 122h1v1h-1zM13 122h1v1h-1zM8 125h1v1h-1zM26 125h1v1h-1zM34 125h1v1h-1zM37 125h1v1h-1zM40 126h1v1h-1zM8 127h2v1h-2zM11 127h3v1h-3zM41 127h2v1h-2zM0 128h1v1h-1zM32 128h1v1h-1zM38 128h1v1h-1zM40 128h2v1h-2zM18 130h1v1h-1zM8 131h1v1h-1zM10 132h1v1h-1zM12 132h1v1h-1zM15 133h1v1h-1zM30 133h1v1h-1zM11 135h1v1h-1zM16 135h1v1h-1zM20 135h1v1h-1zM25 135h1v1h-1zM43 135h1v1h-1zM2 136h1v1h-1zM16 136h1v1h-1zM24 136h1v1h-1zM36 136h1v1h-1zM48 136h1v1h-1zM1 138h1v1h-1zM17 138h1v1h-1zM19 138h1v1h-1zM25 138h1v1h-1zM27 138h1v1h-1zM42 138h1v1h-1zM47 138h2v1h-2z"/>
<path fill="#89c07f" d="M31 0h1v1h-1zM33 0h1v1h-1zM43 0h1v1h-1zM45 0h1v1h-1zM28 2h1v1h-1zM46 2h1v1h-1zM2 3h1v1h-1zM4 3h1v1h-1zM24 3h1v1h-1zM20 6h1v1h-1zM26 6h1v1h-1zM41 6h2v1h-2zM5 12h1v1h-1zM16 12h3v1h-3zM28 14h1v1h-1zM28 15h1v1h-1zM25 18h2v1h-2zM40 18h1v1h-1zM40 20h1v1h-1zM5 24h1v1h-1zM21 26h2v1h-2zM4 27h1v1h-1zM46 27h1v1h-1zM17 28h1v1h-1zM27 28h1v1h-1zM37 28h1v1h-1zM4 30h1v1h-1zM17 34h1v1h-1zM16 35h1v1h-1zM38 35h1v1h-1zM28 37h1v1h-1zM38 37h1v1h-1zM46 40h1v1h-1zM5 41h1v1h-1zM4 42h1v1h-1zM7 43h2v1h-2zM35 43h1v1h-1zM37 43h1v1h-1zM1 44h1v1h-1zM7 44h1v1h-1zM6 47h1v1h-1zM36 49h1v1h-1zM6 51h1v1h-1zM46 51h1v1h-1zM5 53h1v1h-1zM16 53h1v1h-1zM35 53h1v1h-1zM41 53h1v1h-1zM44 53h1v1h-1zM49 53h1v1h-1zM36 54h1v1h-1zM0 55h1v1h-1zM11 57h1v1h-1zM41 57h1v1h-1zM45 58h1v1h-1zM17 61h1v1h-1zM49 61h1v1h-1zM12 63h1v1h-1zM5 64h2v1h-2zM15 65h1v1h-1zM5 68h1v1h-1zM10 68h1v1h-1zM13 68h1v1h-1zM26 68h1v1h-1zM15 69h1v1h-1zM25 69h1v1h-1zM8 70h2v1h-2zM10 72h1v1h-1zM12 72h1v1h-1zM16 75h1v1h-1zM9 76h1v1h-1zM16 76h1v1h-1zM16 81h1v1h-1zM16 87h1v1h-1zM18 98h1v1h-1zM2 99h1v1h-1zM13 100h1v1h-1zM15 100h1v1h-1zM16 101h1v1h-1zM18 102h1v1h-1zM42 102h1v1h-1zM48 105h1v1h-1zM44 107h1v1h-1zM46 107h2v1h-2zM6 108h1v1h-1zM30 108h1v1h-1zM47 108h1v1h-1zM5 112h1v1h-1zM17 114h1v1h-1zM24 114h2v1h-2zM35 114h1v1h-1zM44 114h1v1h-1zM5 115h1v1h-1zM6 116h1v1h-1zM15 116h1v1h-1zM8 118h1v1h-1zM14 119h1v1h-1zM48 119h1v1h-1zM22 121h1v1h-1zM32 122h1v1h-1zM42 122h1v1h-1zM4 123h1v1h-1zM27 124h1v1h-1zM23 125h1v1h-1zM27 125h2v1h-2zM46 125h1v1h-1zM48 125h1v1h-1zM46 126h1v1h-1zM4 128h1v1h-1zM37 128h1v1h-1zM46 128h1v1h-1zM10 130h1v1h-1zM36 130h1v1h-1zM8 132h1v1h-1zM6 133h1v1h-1zM8 135h1v1h-1zM12 135h2v1h-2zM42 135h1v1h-1zM25 136h1v1h-1zM30 136h1v1h-1zM40 136h1v1h-1zM28 138h1v1h-1zM30 138h1v1h-1z"/>
<path fill="#a2ca61" d="M34 0h1v1h-1zM33 1h1v1h-1zM39 1h2v1h-2zM0 3h1v1h-1zM28 3h1v1h-1zM22 4h1v1h-1zM29 4h1v1h-1zM36 4h1v1h-1zM42 4h1v1h-1zM44 4h1v1h-1zM48 4h1v1h-1zM18 5h1v1h-1zM49 5h1v1h-1zM29 7h1v1h-1zM32 7h1v1h-1zM34 7h1v1h-1zM36 7h1v1h-1zM21 8h1v1h-1zM30 8h1v1h-1zM25 9h1v1h-1zM27 9h1v1h-1zM49 9h1v1h-1zM20 13h2v1h-2zM17 14h1v1h-1zM0 15h1v1h-1zM44 15h1v1h-1zM24 16h1v1h-1zM28 16h1v1h-1zM42 16h1v1h-1zM46 16h1v1h-1zM0 17h1v1h-1zM27 17h1v1h-1zM29 17h1v1h-1zM34 17h1v1h-1zM45 17h1v1h-1zM25 19h1v1h-1zM45 19h1v1h-1zM47 19h1v1h-1zM2 21h1v1h-1zM4 21h1v1h-1zM17 21h1v1h-1zM32 21h1v1h-1zM43 21h2v1h-2zM49 21h1v1h-1zM20 22h1v1h-1zM3 23h1v1h-1zM27 23h1v1h-1zM36 23h2v1h-2zM0 24h1v1h-1zM45 24h1v1h-1zM49 24h1v1h-1zM18 25h2v1h-2zM37 25h1v1h-1zM43 25h1v1h-1zM45 25h1v1h-1zM48 25h1v1h-1zM33 26h1v1h-1zM39 26h1v1h-1zM42 26h1v1h-1zM48 28h1v1h-1zM20 29h1v1h-1zM22 29h1v1h-1zM24 29h1v1h-1zM34 29h1v1h-1zM36 29h4v1h-4zM42 29h1v1h-1zM45 29h1v1h-1zM17 30h1v1h-1zM23 30h1v1h-1zM34 30h1v1h-1zM21 32h1v1h-1zM25 32h1v1h-1zM29 32h1v1h-1zM32 32h1v1h-1zM20 33h2v1h-2zM31 33h1v1h-1zM33 33h1v1h-1zM35 33h1v1h-1zM29 34h1v1h-1zM20 36h3v1h-3zM35 36h2v1h-2zM39 36h1v1h-1zM41 36h1v1h-1zM46 36h2v1h-2zM21 38h1v1h-1zM40 39h1v1h-1zM48 39h2v1h-2zM31 40h1v1h-1zM33 40h1v1h-1zM20 41h1v1h-1zM23 41h1v1h-1zM39 42h1v1h-1zM42 42h1v1h-1zM32 44h1v1h-1zM47 44h1v1h-1zM1 45h1v1h-1zM21 45h1v1h-1zM24 45h1v1h-1zM26 45h1v1h-1zM30 45h1v1h-1zM38 45h1v1h-1zM40 45h1v1h-1zM39 46h3v1h-3zM24 47h1v1h-1zM33 48h1v1h-1zM41 49h2v1h-2zM20 50h1v1h-1zM23 50h1v1h-1zM37 50h1v1h-1zM20 51h1v1h-1zM38 51h1v1h-1zM19 52h1v1h-1zM25 52h1v1h-1zM21 54h1v1h-1zM32 54h1v1h-1zM22 55h1v1h-1zM26 55h1v1h-1zM30 55h1v1h-1zM35 55h1v1h-1zM38 55h1v1h-1zM41 55h1v1h-1zM42 56h2v1h-2zM1 57h1v1h-1zM34 57h1v1h-1zM45 57h2v1h-2zM22 59h1v1h-1zM24 59h1v1h-1zM30 59h1v1h-1zM45 59h1v1h-1zM40 60h1v1h-1zM4 62h1v1h-1zM22 62h1v1h-1zM32 62h1v1h-1zM40 62h2v1h-2zM44 62h1v1h-1zM0 63h1v1h-1zM32 63h2v1h-2zM40 63h1v1h-1zM42 63h1v1h-1zM47 63h1v1h-1zM3 65h2v1h-2zM39 65h1v1h-1zM49 65h1v1h-1zM44 66h2v1h-2zM47 66h1v1h-1zM3 70h1v1h-1zM19 70h1v1h-1zM37 70h1v1h-1zM43 70h1v1h-1zM18 71h1v1h-1zM27 71h1v1h-1zM45 71h1v1h-1zM49 72h1v1h-1zM16 73h2v1h-2zM19 73h2v1h-2zM36 73h1v1h-1zM41 73h2v1h-2zM5 74h1v1h-1zM32 74h1v1h-1zM35 74h1v1h-1zM37 74h1v1h-1zM45 74h1v1h-1zM48 74h1v1h-1zM27 75h1v1h-1zM37 76h2v1h-2zM17 77h1v1h-1zM45 77h1v1h-1zM2 78h1v1h-1zM34 78h1v1h-1zM45 78h2v1h-2zM5 79h1v1h-1zM45 79h1v1h-1zM47 79h1v1h-1zM4 80h1v1h-1zM25 80h1v1h-1zM31 80h1v1h-1zM33 80h1v1h-1zM47 80h1v1h-1zM17 81h1v1h-1zM21 81h1v1h-1zM30 81h2v1h-2zM47 81h2v1h-2zM3 83h1v1h-1zM16 83h1v1h-1zM3 84h1v1h-1zM16 84h1v1h-1zM46 84h1v1h-1zM17 85h1v1h-1zM39 85h1v1h-1zM1 86h1v1h-1zM30 86h1v1h-1zM39 86h1v1h-1zM45 86h1v1h-1zM30 87h1v1h-1zM32 87h1v1h-1zM40 88h1v1h-1zM42 88h1v1h-1zM44 88h1v1h-1zM49 88h1v1h-1zM17 89h1v1h-1zM20 89h1v1h-1zM25 89h1v1h-1zM38 89h1v1h-1zM47 89h2v1h-2zM17 90h3v1h-3zM29 90h2v1h-2zM36 90h1v1h-1zM48 90h1v1h-1zM4 91h1v1h-1zM22 91h1v1h-1zM31 91h2v1h-2zM39 91h2v1h-2zM49 91h1v1h-1zM18 92h1v1h-1zM21 92h1v1h-1zM35 92h1v1h-1zM38 92h1v1h-1zM41 92h1v1h-1zM44 92h1v1h-1zM3 93h1v1h-1zM20 93h1v1h-1zM23 93h1v1h-1zM25 93h1v1h-1zM33 93h2v1h-2zM41 93h1v1h-1zM47 93h1v1h-1zM26 94h1v1h-1zM28 94h1v1h-1zM41 94h1v1h-1zM41 95h1v1h-1zM44 95h2v1h-2zM17 96h1v1h-1zM19 96h2v1h-2zM22 96h1v1h-1zM30 96h1v1h-1zM37 96h1v1h-1zM42 96h1v1h-1zM27 97h1v1h-1zM40 97h1v1h-1zM49 97h1v1h-1zM0 98h1v1h-1zM36 98h1v1h-1zM45 98h1v1h-1zM31 100h1v1h-1zM40 100h1v1h-1zM45 100h1v1h-1zM1 101h1v1h-1zM19 103h1v1h-1zM29 107h1v1h-1zM3 109h1v1h-1zM17 109h1v1h-1zM25 109h1v1h-1zM28 109h1v1h-1zM36 109h1v1h-1zM26 110h1v1h-1zM1 111h1v1h-1zM5 111h1v1h-1zM27 111h1v1h-1zM33 111h1v1h-1zM40 111h1v1h-1zM35 115h1v1h-1zM1 116h1v1h-1zM40 116h1v1h-1zM30 117h1v1h-1zM40 117h1v1h-1zM45 117h1v1h-1zM48 117h1v1h-1zM6 118h1v1h-1zM25 118h1v1h-1zM48 118h1v1h-1zM21 119h1v1h-1zM27 119h1v1h-1zM30 119h2v1h-2zM38 119h1v1h-1zM6 120h1v1h-1zM21 120h1v1h-1zM28 120h1v1h-1zM44 120h1v1h-1zM47 120h1v1h-1zM49 120h1v1h-1zM2 123h1v1h-1zM22 123h1v1h-1zM25 123h2v1h-2zM40 123h1v1h-1zM33 124h1v1h-1zM35 124h2v1h-2zM44 124h1v1h-1zM49 124h1v1h-1zM0 129h1v1h-1zM5 129h1v1h-1zM35 129h1v1h-1zM37 129h1v1h-1zM40 129h1v1h-1zM1 130h1v1h-1zM3 130h1v1h-1zM22 130h1v1h-1zM28 130h1v1h-1zM17 131h2v1h-2zM31 131h1v1h-1zM34 131h1v1h-1zM39 131h1v1h-1zM43 131h1v1h-1zM20 132h1v1h-1zM22 132h1v1h-1zM24 132h1v1h-1zM34 132h1v1h-1zM18 134h1v1h-1zM22 134h1v1h-1zM27 134h2v1h-2zM30 134h1v1h-1zM48 134h1v1h-1zM46 135h1v1h-1zM25 137h1v1h-1zM28 137h1v1h-1zM33 137h1v1h-1zM44 137h1v1h-1zM45 138h2v1h-2zM25 139h1v1h-1zM32 139h1v1h-1zM35 139h1v1h-1zM41 139h1v1h-1z"/>
<path fill="#acca57" d="M35 0h1v1h-1zM24 1h1v1h-1zM38 1h1v1h-1zM39 5h1v1h-1zM2 7h1v1h-1zM22 7h1v1h-1zM33 7h1v1h-1zM45 7h1v1h-1zM36 11h1v1h-1zM34 15h1v1h-1zM37 17h2v1h-2zM44 17h1v1h-1zM32 18h1v1h-1zM38 19h2v1h-2zM29 21h1v1h-1zM36 21h1v1h-1zM38 21h1v1h-1zM26 24h1v1h-1zM23 25h1v1h-1zM41 25h1v1h-1zM47 25h1v1h-1zM45 36h1v1h-1zM3 45h1v1h-1zM37 45h1v1h-1zM25 46h1v1h-1zM39 49h2v1h-2zM46 52h1v1h-1zM48 54h1v1h-1zM25 59h1v1h-1zM16 64h1v1h-1zM40 65h1v1h-1zM42 65h2v1h-2zM48 65h1v1h-1zM0 70h1v1h-1zM28 71h1v1h-1zM33 74h1v1h-1zM35 77h1v1h-1zM46 77h1v1h-1zM42 79h1v1h-1zM40 80h1v1h-1zM18 81h1v1h-1zM34 81h2v1h-2zM43 84h1v1h-1zM31 85h1v1h-1zM29 86h1v1h-1zM31 86h1v1h-1zM34 86h2v1h-2zM41 86h1v1h-1zM17 87h1v1h-1zM27 87h1v1h-1zM43 88h1v1h-1zM47 88h1v1h-1zM40 89h1v1h-1zM33 92h1v1h-1zM49 92h1v1h-1zM29 93h1v1h-1zM37 93h2v1h-2zM36 94h1v1h-1zM30 95h1v1h-1zM18 96h1v1h-1zM27 96h1v1h-1zM32 96h1v1h-1zM40 96h1v1h-1zM32 97h1v1h-1zM37 97h1v1h-1zM39 97h1v1h-1zM44 97h1v1h-1zM25 100h2v1h-2zM26 109h1v1h-1zM42 109h1v1h-1zM49 111h1v1h-1zM24 117h1v1h-1zM36 117h1v1h-1zM47 117h1v1h-1zM19 118h1v1h-1zM23 118h1v1h-1zM27 120h1v1h-1zM1 121h1v1h-1zM2 132h1v1h-1zM2 134h1v1h-1zM16 134h1v1h-1zM45 134h1v1h-1zM18 139h1v1h-1zM34 139h1v1h-1z"/>
<path fill="#98c56b" d="M36 0h1v1h-1zM30 2h1v1h-1zM1 3h1v1h-1zM29 3h1v1h-1zM39 3h1v1h-1zM49 3h1v1h-1zM1 4h1v1h-1zM3 4h2v1h-2zM19 4h1v1h-1zM26 4h1v1h-1zM32 4h1v1h-1zM39 4h2v1h-2zM29 5h1v1h-1zM38 5h1v1h-1zM47 5h1v1h-1zM3 6h1v1h-1zM17 7h2v1h-2zM44 7h1v1h-1zM19 8h1v1h-1zM31 8h1v1h-1zM35 8h1v1h-1zM48 8h1v1h-1zM20 9h3v1h-3zM24 9h1v1h-1zM28 9h1v1h-1zM33 9h1v1h-1zM37 9h1v1h-1zM42 9h1v1h-1zM46 9h1v1h-1zM0 10h1v1h-1zM32 10h3v1h-3zM37 10h1v1h-1zM47 10h1v1h-1zM1 11h1v1h-1zM41 11h1v1h-1zM3 12h1v1h-1zM25 12h1v1h-1zM36 12h1v1h-1zM40 12h1v1h-1zM0 13h1v1h-1zM42 13h1v1h-1zM49 13h1v1h-1zM18 14h2v1h-2zM23 14h1v1h-1zM26 14h1v1h-1zM30 14h1v1h-1zM33 14h1v1h-1zM35 14h1v1h-1zM37 14h1v1h-1zM42 14h4v1h-4zM1 15h1v1h-1zM6 15h1v1h-1zM24 15h1v1h-1zM40 15h1v1h-1zM46 15h1v1h-1zM0 16h1v1h-1zM5 16h1v1h-1zM19 16h2v1h-2zM26 16h1v1h-1zM33 16h1v1h-1zM41 16h1v1h-1zM43 16h1v1h-1zM3 17h1v1h-1zM24 17h1v1h-1zM28 17h1v1h-1zM35 17h1v1h-1zM3 18h1v1h-1zM37 18h1v1h-1zM42 18h1v1h-1zM49 18h1v1h-1zM5 19h1v1h-1zM21 19h1v1h-1zM29 19h1v1h-1zM37 20h1v1h-1zM44 20h1v1h-1zM5 21h1v1h-1zM27 21h1v1h-1zM48 21h1v1h-1zM1 22h1v1h-1zM21 22h1v1h-1zM24 22h2v1h-2zM30 22h1v1h-1zM32 22h1v1h-1zM34 22h1v1h-1zM37 22h1v1h-1zM43 22h1v1h-1zM47 22h1v1h-1zM4 23h2v1h-2zM32 23h1v1h-1zM39 23h1v1h-1zM43 23h1v1h-1zM48 23h1v1h-1zM1 24h1v1h-1zM3 24h1v1h-1zM19 24h1v1h-1zM33 24h2v1h-2zM36 24h2v1h-2zM39 24h1v1h-1zM48 24h1v1h-1zM20 25h1v1h-1zM22 25h1v1h-1zM26 25h1v1h-1zM30 25h1v1h-1zM2 26h1v1h-1zM20 26h1v1h-1zM32 26h1v1h-1zM34 26h1v1h-1zM44 26h1v1h-1zM49 26h1v1h-1zM28 27h1v1h-1zM30 27h2v1h-2zM36 27h1v1h-1zM39 27h2v1h-2zM19 28h1v1h-1zM28 28h1v1h-1zM30 28h1v1h-1zM34 28h1v1h-1zM49 28h1v1h-1zM28 29h1v1h-1zM31 29h1v1h-1zM40 29h1v1h-1zM1 30h1v1h-1zM29 30h1v1h-1zM31 30h1v1h-1zM44 30h3v1h-3zM22 31h1v1h-1zM27 31h1v1h-1zM37 31h1v1h-1zM40 31h1v1h-1zM20 32h1v1h-1zM38 32h2v1h-2zM46 32h1v1h-1zM25 33h1v1h-1zM38 33h2v1h-2zM43 33h1v1h-1zM45 33h1v1h-1zM48 33h1v1h-1zM4 34h1v1h-1zM24 34h1v1h-1zM42 34h1v1h-1zM48 34h1v1h-1zM19 35h1v1h-1zM29 35h1v1h-1zM49 35h1v1h-1zM4 36h1v1h-1zM23 36h3v1h-3zM28 36h1v1h-1zM30 36h1v1h-1zM3 37h1v1h-1zM24 37h1v1h-1zM48 37h1v1h-1zM20 38h1v1h-1zM22 38h1v1h-1zM32 38h1v1h-1zM47 38h1v1h-1zM3 39h1v1h-1zM22 39h3v1h-3zM26 39h1v1h-1zM30 39h1v1h-1zM33 39h1v1h-1zM46 39h1v1h-1zM5 40h1v1h-1zM26 40h1v1h-1zM28 40h1v1h-1zM30 40h1v1h-1zM42 40h1v1h-1zM49 40h1v1h-1zM3 41h1v1h-1zM28 41h1v1h-1zM49 41h1v1h-1zM1 42h1v1h-1zM24 42h1v1h-1zM26 42h1v1h-1zM36 42h1v1h-1zM38 42h1v1h-1zM40 42h1v1h-1zM49 42h1v1h-1zM32 43h2v1h-2zM43 43h1v1h-1zM4 44h1v1h-1zM16 44h1v1h-1zM21 44h1v1h-1zM42 44h2v1h-2zM5 45h1v1h-1zM18 45h1v1h-1zM27 45h2v1h-2zM4 46h1v1h-1zM16 46h1v1h-1zM19 46h1v1h-1zM29 46h1v1h-1zM35 46h2v1h-2zM45 46h1v1h-1zM49 46h1v1h-1zM3 47h1v1h-1zM5 47h1v1h-1zM21 47h1v1h-1zM23 47h1v1h-1zM25 47h1v1h-1zM28 47h1v1h-1zM34 47h1v1h-1zM46 47h1v1h-1zM48 47h1v1h-1zM17 48h1v1h-1zM28 48h1v1h-1zM30 48h1v1h-1zM37 48h2v1h-2zM40 48h1v1h-1zM47 48h1v1h-1zM1 49h1v1h-1zM23 49h1v1h-1zM19 50h1v1h-1zM26 50h1v1h-1zM31 50h1v1h-1zM34 50h1v1h-1zM44 50h2v1h-2zM5 51h1v1h-1zM22 51h1v1h-1zM29 51h1v1h-1zM32 51h1v1h-1zM35 51h2v1h-2zM47 51h1v1h-1zM1 52h1v1h-1zM16 52h1v1h-1zM21 52h1v1h-1zM38 52h1v1h-1zM43 52h1v1h-1zM30 53h1v1h-1zM43 53h1v1h-1zM1 54h1v1h-1zM4 54h2v1h-2zM27 54h1v1h-1zM30 54h1v1h-1zM44 54h3v1h-3zM49 54h1v1h-1zM2 55h1v1h-1zM18 55h1v1h-1zM31 55h2v1h-2zM42 55h1v1h-1zM46 55h3v1h-3zM23 56h1v1h-1zM26 56h2v1h-2zM46 56h1v1h-1zM5 57h1v1h-1zM24 57h1v1h-1zM29 57h1v1h-1zM36 57h1v1h-1zM0 58h1v1h-1zM2 58h4v1h-4zM17 58h1v1h-1zM20 58h1v1h-1zM39 58h1v1h-1zM41 58h1v1h-1zM2 59h1v1h-1zM21 59h1v1h-1zM28 59h1v1h-1zM32 59h1v1h-1zM34 59h1v1h-1zM4 60h1v1h-1zM18 60h2v1h-2zM24 60h2v1h-2zM33 60h1v1h-1zM44 60h1v1h-1zM46 60h2v1h-2zM21 62h1v1h-1zM23 62h1v1h-1zM26 62h1v1h-1zM29 62h2v1h-2zM33 62h1v1h-1zM36 62h1v1h-1zM46 62h1v1h-1zM5 63h1v1h-1zM16 63h1v1h-1zM19 63h1v1h-1zM21 63h1v1h-1zM38 63h1v1h-1zM43 63h2v1h-2zM23 64h1v1h-1zM26 64h1v1h-1zM35 64h1v1h-1zM37 64h1v1h-1zM27 65h1v1h-1zM44 65h3v1h-3zM2 66h1v1h-1zM20 66h1v1h-1zM26 66h1v1h-1zM43 66h1v1h-1zM9 67h1v1h-1zM29 67h1v1h-1zM48 67h1v1h-1zM27 68h1v1h-1zM41 68h1v1h-1zM44 68h2v1h-2zM4 69h1v1h-1zM27 69h2v1h-2zM36 69h1v1h-1zM41 69h1v1h-1zM43 69h1v1h-1zM45 69h1v1h-1zM48 69h1v1h-1zM20 70h1v1h-1zM23 70h1v1h-1zM29 70h1v1h-1zM36 70h1v1h-1zM1 71h1v1h-1zM23 71h1v1h-1zM32 71h1v1h-1zM35 71h1v1h-1zM37 71h3v1h-3zM41 71h1v1h-1zM2 72h1v1h-1zM22 72h2v1h-2zM29 72h1v1h-1zM43 72h1v1h-1zM3 73h1v1h-1zM15 73h1v1h-1zM22 73h2v1h-2zM34 73h1v1h-1zM39 73h1v1h-1zM43 73h1v1h-1zM49 73h1v1h-1zM7 74h1v1h-1zM17 74h1v1h-1zM19 74h2v1h-2zM44 74h1v1h-1zM49 74h1v1h-1zM18 75h1v1h-1zM26 75h1v1h-1zM29 75h1v1h-1zM31 75h3v1h-3zM44 75h1v1h-1zM3 76h1v1h-1zM29 76h1v1h-1zM40 76h3v1h-3zM2 77h2v1h-2zM8 77h1v1h-1zM12 77h2v1h-2zM18 77h1v1h-1zM21 77h1v1h-1zM26 77h1v1h-1zM29 77h1v1h-1zM40 77h1v1h-1zM1 78h1v1h-1zM4 78h2v1h-2zM42 80h1v1h-1zM49 80h1v1h-1zM5 81h1v1h-1zM39 81h1v1h-1zM46 81h1v1h-1zM2 82h2v1h-2zM5 82h1v1h-1zM5 84h1v1h-1zM47 84h1v1h-1zM49 84h1v1h-1zM0 85h1v1h-1zM29 85h1v1h-1zM41 85h1v1h-1zM44 85h2v1h-2zM49 85h1v1h-1zM5 86h1v1h-1zM3 87h1v1h-1zM23 87h1v1h-1zM25 87h1v1h-1zM35 87h1v1h-1zM39 87h1v1h-1zM45 87h1v1h-1zM48 87h1v1h-1zM0 88h3v1h-3zM4 88h1v1h-1zM31 90h1v1h-1zM38 90h1v1h-1zM41 90h1v1h-1zM5 91h1v1h-1zM27 91h1v1h-1zM46 91h1v1h-1zM48 91h1v1h-1zM4 92h1v1h-1zM48 92h1v1h-1zM4 93h1v1h-1zM43 93h2v1h-2zM19 94h1v1h-1zM40 95h1v1h-1zM49 95h1v1h-1zM34 96h1v1h-1zM46 96h1v1h-1zM18 97h1v1h-1zM47 97h1v1h-1zM22 98h2v1h-2zM25 98h1v1h-1zM32 98h1v1h-1zM19 99h1v1h-1zM27 99h1v1h-1zM40 99h2v1h-2zM2 100h1v1h-1zM46 100h1v1h-1zM48 100h1v1h-1zM17 101h1v1h-1zM29 101h3v1h-3zM33 101h1v1h-1zM46 101h1v1h-1zM27 102h1v1h-1zM36 102h2v1h-2zM1 103h1v1h-1zM5 103h1v1h-1zM16 103h1v1h-1zM20 103h2v1h-2zM38 103h1v1h-1zM40 103h1v1h-1zM43 103h1v1h-1zM5 104h1v1h-1zM17 104h2v1h-2zM23 104h2v1h-2zM28 104h2v1h-2zM31 104h1v1h-1zM35 104h1v1h-1zM44 104h1v1h-1zM17 105h1v1h-1zM20 105h1v1h-1zM24 105h1v1h-1zM41 105h2v1h-2zM46 105h1v1h-1zM49 105h1v1h-1zM16 106h1v1h-1zM29 106h1v1h-1zM33 106h1v1h-1zM36 106h1v1h-1zM49 106h1v1h-1zM2 107h1v1h-1zM24 107h2v1h-2zM27 107h1v1h-1zM22 108h1v1h-1zM25 108h1v1h-1zM32 108h1v1h-1zM35 108h1v1h-1zM29 109h1v1h-1zM32 109h1v1h-1zM44 109h1v1h-1zM24 110h1v1h-1zM27 110h1v1h-1zM43 110h1v1h-1zM45 110h1v1h-1zM47 110h1v1h-1zM16 111h2v1h-2zM21 111h1v1h-1zM24 111h1v1h-1zM32 111h1v1h-1zM43 111h1v1h-1zM18 112h1v1h-1zM22 112h1v1h-1zM30 112h1v1h-1zM35 112h4v1h-4zM17 113h1v1h-1zM31 113h1v1h-1zM20 114h1v1h-1zM26 114h3v1h-3zM2 115h1v1h-1zM4 115h1v1h-1zM16 115h1v1h-1zM21 115h1v1h-1zM46 115h2v1h-2zM17 116h1v1h-1zM25 116h1v1h-1zM27 116h1v1h-1zM31 116h1v1h-1zM38 116h1v1h-1zM4 117h2v1h-2zM26 117h1v1h-1zM13 118h1v1h-1zM40 119h1v1h-1zM5 120h1v1h-1zM7 120h1v1h-1zM17 120h2v1h-2zM20 120h1v1h-1zM22 120h1v1h-1zM36 120h1v1h-1zM40 120h1v1h-1zM4 121h1v1h-1zM17 121h2v1h-2zM29 121h1v1h-1zM31 121h1v1h-1zM37 121h1v1h-1zM1 122h1v1h-1zM3 122h1v1h-1zM36 122h1v1h-1zM40 122h1v1h-1zM44 122h1v1h-1zM1 123h1v1h-1zM18 123h1v1h-1zM20 123h1v1h-1zM23 123h2v1h-2zM27 123h1v1h-1zM34 123h1v1h-1zM41 123h1v1h-1zM46 123h1v1h-1zM3 124h2v1h-2zM25 124h1v1h-1zM32 124h1v1h-1zM37 124h1v1h-1zM43 124h1v1h-1zM48 124h1v1h-1zM3 125h1v1h-1zM24 125h1v1h-1zM3 126h1v1h-1zM25 126h1v1h-1zM27 126h1v1h-1zM49 126h1v1h-1zM4 127h1v1h-1zM29 127h2v1h-2zM33 127h1v1h-1zM35 127h1v1h-1zM46 127h1v1h-1zM17 128h1v1h-1zM42 128h1v1h-1zM1 129h1v1h-1zM23 129h1v1h-1zM33 129h2v1h-2zM39 129h1v1h-1zM19 130h1v1h-1zM26 130h1v1h-1zM34 130h2v1h-2zM43 130h3v1h-3zM6 131h1v1h-1zM15 131h1v1h-1zM19 131h2v1h-2zM24 131h1v1h-1zM46 131h1v1h-1zM48 131h1v1h-1zM29 132h3v1h-3zM33 132h1v1h-1zM49 132h1v1h-1zM0 133h2v1h-2zM5 133h1v1h-1zM8 133h1v1h-1zM21 133h1v1h-1zM23 133h1v1h-1zM33 133h1v1h-1zM36 133h1v1h-1zM44 133h1v1h-1zM6 134h1v1h-1zM15 134h1v1h-1zM1 135h1v1h-1zM22 135h1v1h-1zM32 135h1v1h-1zM45 135h1v1h-1zM20 136h1v1h-1zM1 137h1v1h-1zM3 137h1v1h-1zM5 137h1v1h-1zM10 137h1v1h-1zM34 137h1v1h-1zM37 137h1v1h-1zM16 138h1v1h-1zM3 139h1v1h-1zM22 139h1v1h-1zM39 139h1v1h-1zM47 139h1v1h-1z"/>
<path fill="#9dc566" d="M41 0h1v1h-1zM2 2h1v1h-1zM41 2h1v1h-1zM5 3h1v1h-1zM36 3h3v1h-3zM17 4h1v1h-1zM23 4h2v1h-2zM41 4h1v1h-1zM46 4h1v1h-1zM21 5h2v1h-2zM27 5h1v1h-1zM30 5h2v1h-2zM48 5h1v1h-1zM39 6h1v1h-1zM26 7h1v1h-1zM31 7h1v1h-1zM37 7h4v1h-4zM42 7h1v1h-1zM26 8h2v1h-2zM49 8h1v1h-1zM1 9h1v1h-1zM17 9h1v1h-1zM1 10h1v1h-1zM26 10h1v1h-1zM48 10h1v1h-1zM18 11h2v1h-2zM47 11h1v1h-1zM31 12h1v1h-1zM44 12h1v1h-1zM3 13h1v1h-1zM30 13h1v1h-1zM32 13h1v1h-1zM45 13h1v1h-1zM17 15h1v1h-1zM23 15h1v1h-1zM39 15h1v1h-1zM22 16h1v1h-1zM25 16h1v1h-1zM29 16h1v1h-1zM31 16h1v1h-1zM36 16h1v1h-1zM48 16h1v1h-1zM5 17h1v1h-1zM17 17h1v1h-1zM19 17h1v1h-1zM21 17h1v1h-1zM26 17h1v1h-1zM36 17h1v1h-1zM39 17h1v1h-1zM2 18h1v1h-1zM28 18h1v1h-1zM31 18h1v1h-1zM48 18h1v1h-1zM0 19h3v1h-3zM23 19h1v1h-1zM33 19h1v1h-1zM36 19h2v1h-2zM40 19h3v1h-3zM29 20h1v1h-1zM36 20h1v1h-1zM47 20h1v1h-1zM1 21h1v1h-1zM22 21h2v1h-2zM25 21h1v1h-1zM28 21h1v1h-1zM45 21h1v1h-1zM33 22h1v1h-1zM38 22h1v1h-1zM19 23h1v1h-1zM33 23h1v1h-1zM44 23h1v1h-1zM47 23h1v1h-1zM49 23h1v1h-1zM18 24h1v1h-1zM24 24h1v1h-1zM28 24h2v1h-2zM32 24h1v1h-1zM35 24h1v1h-1zM46 24h1v1h-1zM0 25h1v1h-1zM4 25h1v1h-1zM24 25h1v1h-1zM27 25h1v1h-1zM29 25h1v1h-1zM31 25h1v1h-1zM34 25h1v1h-1zM38 25h1v1h-1zM44 25h1v1h-1zM19 26h1v1h-1zM38 26h1v1h-1zM40 26h1v1h-1zM43 26h1v1h-1zM29 27h1v1h-1zM48 27h1v1h-1zM0 29h1v1h-1zM2 29h1v1h-1zM26 29h1v1h-1zM33 29h1v1h-1zM24 30h1v1h-1zM32 30h1v1h-1zM35 30h1v1h-1zM42 30h2v1h-2zM48 30h2v1h-2zM3 31h1v1h-1zM1 32h1v1h-1zM6 32h1v1h-1zM26 32h2v1h-2zM35 32h1v1h-1zM40 32h1v1h-1zM49 32h1v1h-1zM19 33h1v1h-1zM29 33h2v1h-2zM34 33h1v1h-1zM36 33h1v1h-1zM19 34h1v1h-1zM47 34h1v1h-1zM40 35h1v1h-1zM45 35h1v1h-1zM17 36h1v1h-1zM26 36h2v1h-2zM29 36h1v1h-1zM48 36h1v1h-1zM18 37h1v1h-1zM22 37h1v1h-1zM25 37h1v1h-1zM27 37h1v1h-1zM32 37h1v1h-1zM18 38h1v1h-1zM44 38h3v1h-3zM1 39h1v1h-1zM19 39h1v1h-1zM21 39h1v1h-1zM28 39h1v1h-1zM37 39h1v1h-1zM47 39h1v1h-1zM3 40h1v1h-1zM27 40h1v1h-1zM29 41h1v1h-1zM32 41h2v1h-2zM37 41h1v1h-1zM45 41h1v1h-1zM0 42h1v1h-1zM0 43h1v1h-1zM18 43h1v1h-1zM25 43h2v1h-2zM44 43h1v1h-1zM22 44h4v1h-4zM27 44h3v1h-3zM33 44h1v1h-1zM4 45h1v1h-1zM22 45h1v1h-1zM25 45h1v1h-1zM35 45h2v1h-2zM39 45h1v1h-1zM2 46h2v1h-2zM22 46h1v1h-1zM27 46h1v1h-1zM31 46h1v1h-1zM46 46h1v1h-1zM0 47h1v1h-1zM2 47h1v1h-1zM4 47h1v1h-1zM29 47h2v1h-2zM49 47h1v1h-1zM26 48h1v1h-1zM41 48h1v1h-1zM45 48h1v1h-1zM24 49h1v1h-1zM29 49h1v1h-1zM31 49h1v1h-1zM24 50h2v1h-2zM30 50h1v1h-1zM38 50h1v1h-1zM19 51h1v1h-1zM26 51h1v1h-1zM37 51h1v1h-1zM41 51h1v1h-1zM0 52h1v1h-1zM37 52h1v1h-1zM39 52h1v1h-1zM45 52h1v1h-1zM2 53h1v1h-1zM2 54h2v1h-2zM17 54h1v1h-1zM20 54h1v1h-1zM26 54h1v1h-1zM31 54h1v1h-1zM35 54h1v1h-1zM40 54h2v1h-2zM25 55h1v1h-1zM29 55h1v1h-1zM33 55h1v1h-1zM2 56h1v1h-1zM17 56h1v1h-1zM25 56h1v1h-1zM44 56h1v1h-1zM2 57h1v1h-1zM25 57h2v1h-2zM30 57h1v1h-1zM35 57h1v1h-1zM38 57h1v1h-1zM43 57h1v1h-1zM46 58h1v1h-1zM23 59h1v1h-1zM27 59h1v1h-1zM31 59h1v1h-1zM33 59h1v1h-1zM47 59h1v1h-1zM31 60h1v1h-1zM36 60h1v1h-1zM17 62h2v1h-2zM37 62h1v1h-1zM39 62h1v1h-1zM42 62h2v1h-2zM45 62h1v1h-1zM1 63h1v1h-1zM35 63h2v1h-2zM45 63h1v1h-1zM48 63h1v1h-1zM3 64h1v1h-1zM20 64h1v1h-1zM30 64h1v1h-1zM36 64h1v1h-1zM42 64h1v1h-1zM0 65h1v1h-1zM2 65h1v1h-1zM18 65h1v1h-1zM20 65h1v1h-1zM22 65h2v1h-2zM30 65h3v1h-3zM6 66h1v1h-1zM25 66h1v1h-1zM30 66h1v1h-1zM34 66h1v1h-1zM24 67h1v1h-1zM28 67h1v1h-1zM36 67h1v1h-1zM41 67h1v1h-1zM1 69h1v1h-1zM3 69h1v1h-1zM29 69h1v1h-1zM39 69h1v1h-1zM1 70h1v1h-1zM5 70h1v1h-1zM18 70h1v1h-1zM21 70h1v1h-1zM30 70h1v1h-1zM39 70h2v1h-2zM4 71h2v1h-2zM21 71h1v1h-1zM30 71h2v1h-2zM33 71h1v1h-1zM36 71h1v1h-1zM42 71h1v1h-1zM30 72h1v1h-1zM1 73h1v1h-1zM5 73h2v1h-2zM26 73h1v1h-1zM32 73h2v1h-2zM21 74h1v1h-1zM24 74h1v1h-1zM29 74h1v1h-1zM38 74h2v1h-2zM19 75h1v1h-1zM33 76h1v1h-1zM7 77h1v1h-1zM16 77h1v1h-1zM24 77h1v1h-1zM30 77h1v1h-1zM47 78h1v1h-1zM49 78h1v1h-1zM3 80h1v1h-1zM37 80h1v1h-1zM20 81h1v1h-1zM40 81h1v1h-1zM49 81h1v1h-1zM28 83h1v1h-1zM43 83h2v1h-2zM1 85h1v1h-1zM23 85h1v1h-1zM37 85h1v1h-1zM48 85h1v1h-1zM42 86h1v1h-1zM44 86h1v1h-1zM47 86h1v1h-1zM2 87h1v1h-1zM31 87h1v1h-1zM34 87h1v1h-1zM41 87h1v1h-1zM3 88h1v1h-1zM32 88h1v1h-1zM20 90h1v1h-1zM42 90h1v1h-1zM49 90h1v1h-1zM28 91h1v1h-1zM38 91h1v1h-1zM44 91h1v1h-1zM0 92h3v1h-3zM45 92h3v1h-3zM19 93h1v1h-1zM22 93h1v1h-1zM24 93h1v1h-1zM26 93h1v1h-1zM32 93h1v1h-1zM46 93h1v1h-1zM1 94h1v1h-1zM3 94h1v1h-1zM18 94h1v1h-1zM38 94h1v1h-1zM44 94h1v1h-1zM48 94h1v1h-1zM4 95h1v1h-1zM3 96h1v1h-1zM25 96h2v1h-2zM29 96h1v1h-1zM33 96h1v1h-1zM45 96h1v1h-1zM0 97h2v1h-2zM4 97h1v1h-1zM33 97h1v1h-1zM48 97h1v1h-1zM20 98h1v1h-1zM37 98h1v1h-1zM22 99h1v1h-1zM31 99h1v1h-1zM3 100h1v1h-1zM23 100h1v1h-1zM49 100h1v1h-1zM18 101h1v1h-1zM23 101h1v1h-1zM47 101h1v1h-1zM49 101h1v1h-1zM7 102h1v1h-1zM4 103h1v1h-1zM28 103h1v1h-1zM39 103h1v1h-1zM45 103h1v1h-1zM47 103h1v1h-1zM22 104h1v1h-1zM34 104h1v1h-1zM2 106h1v1h-1zM28 106h1v1h-1zM30 106h2v1h-2zM1 107h1v1h-1zM26 107h1v1h-1zM28 107h1v1h-1zM38 107h2v1h-2zM39 108h1v1h-1zM4 109h1v1h-1zM20 109h1v1h-1zM22 109h1v1h-1zM30 109h2v1h-2zM33 109h2v1h-2zM37 109h2v1h-2zM32 110h1v1h-1zM44 110h1v1h-1zM0 111h1v1h-1zM3 111h1v1h-1zM22 111h2v1h-2zM31 111h1v1h-1zM35 111h1v1h-1zM42 111h1v1h-1zM2 112h2v1h-2zM3 115h1v1h-1zM17 115h1v1h-1zM23 115h1v1h-1zM27 115h1v1h-1zM31 115h1v1h-1zM36 115h1v1h-1zM20 116h2v1h-2zM34 116h1v1h-1zM45 116h2v1h-2zM49 116h1v1h-1zM2 117h2v1h-2zM19 117h1v1h-1zM32 117h3v1h-3zM38 117h1v1h-1zM16 118h1v1h-1zM21 118h1v1h-1zM31 118h2v1h-2zM18 119h1v1h-1zM25 119h1v1h-1zM32 119h2v1h-2zM42 119h1v1h-1zM2 120h1v1h-1zM24 120h2v1h-2zM30 120h1v1h-1zM38 120h1v1h-1zM41 120h1v1h-1zM43 120h1v1h-1zM48 120h1v1h-1zM3 121h1v1h-1zM27 121h1v1h-1zM45 122h1v1h-1zM19 123h1v1h-1zM21 123h1v1h-1zM29 123h2v1h-2zM48 123h2v1h-2zM22 124h1v1h-1zM42 124h1v1h-1zM45 124h1v1h-1zM47 124h1v1h-1zM1 125h1v1h-1zM0 126h3v1h-3zM16 126h1v1h-1zM30 126h3v1h-3zM35 126h1v1h-1zM37 126h1v1h-1zM19 127h1v1h-1zM21 127h1v1h-1zM23 127h1v1h-1zM48 127h1v1h-1zM3 129h1v1h-1zM17 129h1v1h-1zM28 129h1v1h-1zM38 129h1v1h-1zM46 129h1v1h-1zM25 130h1v1h-1zM29 130h1v1h-1zM2 131h3v1h-3zM16 131h1v1h-1zM32 131h2v1h-2zM37 131h1v1h-1zM42 131h1v1h-1zM44 131h1v1h-1zM47 131h1v1h-1zM0 132h1v1h-1zM3 132h1v1h-1zM21 132h1v1h-1zM35 132h1v1h-1zM41 132h1v1h-1zM44 132h2v1h-2zM22 133h1v1h-1zM25 133h1v1h-1zM20 134h1v1h-1zM25 134h2v1h-2zM31 134h1v1h-1zM41 134h1v1h-1zM43 134h1v1h-1zM2 135h1v1h-1zM23 135h1v1h-1zM27 135h1v1h-1zM34 135h1v1h-1zM36 135h1v1h-1zM6 136h1v1h-1zM19 136h1v1h-1zM28 136h1v1h-1zM38 137h2v1h-2zM46 137h1v1h-1zM1 139h1v1h-1zM4 139h2v1h-2zM17 139h1v1h-1zM20 139h2v1h-2zM30 139h2v1h-2zM36 139h1v1h-1zM38 139h1v1h-1zM42 139h2v1h-2z"/>
<path fill="#9dc56b" d="M42 0h1v1h-1zM20 3h1v1h-1zM27 3h1v1h-1zM20 4h2v1h-2zM45 4h1v1h-1zM17 5h1v1h-1zM19 5h1v1h-1zM40 6h1v1h-1zM27 7h2v1h-2zM20 8h1v1h-1zM25 8h1v1h-1zM32 8h1v1h-1zM34 8h1v1h-1zM43 8h1v1h-1zM23 9h1v1h-1zM30 9h1v1h-1zM40 9h1v1h-1zM41 10h1v1h-1zM43 10h1v1h-1zM22 11h1v1h-1zM24 11h1v1h-1zM46 11h1v1h-1zM0 12h1v1h-1zM26 12h1v1h-1zM30 12h1v1h-1zM47 12h1v1h-1zM19 13h1v1h-1zM26 13h2v1h-2zM34 13h1v1h-1zM40 13h1v1h-1zM20 14h1v1h-1zM36 14h1v1h-1zM38 14h1v1h-1zM19 15h2v1h-2zM25 15h1v1h-1zM45 15h1v1h-1zM1 16h1v1h-1zM3 16h1v1h-1zM37 16h1v1h-1zM39 16h1v1h-1zM4 17h1v1h-1zM46 17h1v1h-1zM48 17h1v1h-1zM18 18h1v1h-1zM29 18h1v1h-1zM36 18h1v1h-1zM47 18h1v1h-1zM3 19h1v1h-1zM30 19h3v1h-3zM32 20h1v1h-1zM0 21h1v1h-1zM18 21h1v1h-1zM26 21h1v1h-1zM33 21h2v1h-2zM41 21h1v1h-1zM26 22h1v1h-1zM31 22h1v1h-1zM39 22h2v1h-2zM2 23h1v1h-1zM17 23h1v1h-1zM20 23h2v1h-2zM28 23h1v1h-1zM38 23h1v1h-1zM45 23h1v1h-1zM4 24h1v1h-1zM22 24h1v1h-1zM27 24h1v1h-1zM41 24h2v1h-2zM2 25h1v1h-1zM5 25h1v1h-1zM28 25h1v1h-1zM41 26h1v1h-1zM29 28h1v1h-1zM35 28h1v1h-1zM3 29h1v1h-1zM21 29h1v1h-1zM23 29h1v1h-1zM35 29h1v1h-1zM36 30h1v1h-1zM48 31h1v1h-1zM34 32h1v1h-1zM32 33h1v1h-1zM1 34h1v1h-1zM3 34h1v1h-1zM18 34h1v1h-1zM26 34h1v1h-1zM1 35h1v1h-1zM18 35h1v1h-1zM0 36h1v1h-1zM3 36h1v1h-1zM18 36h1v1h-1zM34 36h1v1h-1zM37 36h1v1h-1zM42 36h1v1h-1zM44 36h1v1h-1zM21 37h1v1h-1zM49 37h1v1h-1zM1 38h1v1h-1zM17 38h1v1h-1zM34 38h1v1h-1zM40 38h1v1h-1zM43 39h1v1h-1zM37 40h1v1h-1zM41 40h1v1h-1zM22 41h1v1h-1zM42 41h1v1h-1zM34 42h1v1h-1zM41 42h1v1h-1zM43 42h1v1h-1zM48 42h1v1h-1zM17 43h1v1h-1zM16 45h1v1h-1zM19 45h1v1h-1zM31 45h1v1h-1zM43 45h1v1h-1zM46 45h1v1h-1zM18 46h1v1h-1zM21 46h1v1h-1zM32 46h1v1h-1zM18 47h3v1h-3zM5 48h1v1h-1zM25 48h1v1h-1zM27 48h1v1h-1zM5 49h1v1h-1zM32 49h1v1h-1zM37 49h1v1h-1zM45 49h2v1h-2zM3 50h1v1h-1zM36 50h1v1h-1zM46 50h1v1h-1zM49 50h1v1h-1zM39 51h1v1h-1zM32 52h1v1h-1zM33 54h1v1h-1zM42 54h1v1h-1zM27 55h2v1h-2zM49 55h1v1h-1zM0 57h1v1h-1zM4 57h1v1h-1zM23 57h1v1h-1zM37 57h1v1h-1zM1 58h1v1h-1zM31 58h1v1h-1zM48 58h1v1h-1zM16 59h1v1h-1zM2 60h1v1h-1zM17 60h1v1h-1zM37 60h1v1h-1zM43 60h1v1h-1zM2 63h1v1h-1zM24 63h1v1h-1zM30 63h2v1h-2zM39 63h1v1h-1zM40 64h1v1h-1zM5 65h1v1h-1zM17 65h1v1h-1zM5 66h1v1h-1zM37 66h2v1h-2zM42 66h1v1h-1zM49 67h1v1h-1zM32 69h1v1h-1zM38 69h1v1h-1zM16 70h1v1h-1zM38 70h1v1h-1zM41 70h2v1h-2zM48 70h2v1h-2zM47 71h1v1h-1zM39 72h1v1h-1zM48 72h1v1h-1zM10 73h1v1h-1zM25 73h1v1h-1zM29 73h3v1h-3zM35 73h1v1h-1zM38 73h1v1h-1zM40 73h1v1h-1zM46 73h1v1h-1zM0 74h1v1h-1zM6 74h1v1h-1zM18 74h1v1h-1zM22 74h1v1h-1zM40 74h1v1h-1zM23 75h1v1h-1zM19 77h2v1h-2zM32 77h2v1h-2zM39 77h1v1h-1zM48 78h1v1h-1zM4 79h1v1h-1zM16 79h1v1h-1zM35 80h1v1h-1zM38 80h1v1h-1zM44 80h1v1h-1zM1 81h1v1h-1zM1 82h1v1h-1zM0 83h1v1h-1zM4 83h1v1h-1zM33 84h1v1h-1zM38 85h1v1h-1zM46 85h1v1h-1zM40 87h1v1h-1zM47 87h1v1h-1zM41 88h1v1h-1zM35 89h2v1h-2zM0 90h1v1h-1zM22 90h1v1h-1zM25 90h1v1h-1zM27 90h1v1h-1zM35 90h1v1h-1zM37 90h1v1h-1zM39 90h1v1h-1zM47 90h1v1h-1zM26 91h1v1h-1zM34 91h1v1h-1zM42 91h1v1h-1zM45 93h1v1h-1zM4 94h1v1h-1zM25 95h1v1h-1zM42 95h1v1h-1zM46 95h1v1h-1zM4 96h1v1h-1zM36 96h1v1h-1zM43 96h2v1h-2zM2 97h1v1h-1zM19 97h1v1h-1zM22 97h1v1h-1zM26 98h1v1h-1zM20 99h1v1h-1zM28 99h1v1h-1zM30 99h1v1h-1zM41 100h1v1h-1zM43 100h1v1h-1zM21 101h1v1h-1zM38 101h1v1h-1zM28 102h1v1h-1zM0 103h1v1h-1zM22 103h1v1h-1zM37 103h1v1h-1zM42 103h1v1h-1zM46 103h1v1h-1zM2 104h1v1h-1zM25 104h1v1h-1zM43 104h1v1h-1zM46 104h1v1h-1zM49 104h1v1h-1zM43 105h1v1h-1zM21 106h1v1h-1zM27 106h1v1h-1zM23 109h2v1h-2zM35 109h1v1h-1zM0 110h1v1h-1zM3 110h1v1h-1zM33 110h1v1h-1zM20 111h1v1h-1zM38 111h2v1h-2zM21 112h1v1h-1zM29 112h1v1h-1zM18 113h1v1h-1zM20 115h1v1h-1zM39 115h1v1h-1zM49 115h1v1h-1zM2 116h1v1h-1zM33 116h1v1h-1zM37 116h1v1h-1zM39 116h1v1h-1zM18 117h1v1h-1zM5 118h1v1h-1zM28 118h2v1h-2zM34 118h1v1h-1zM40 118h1v1h-1zM1 119h1v1h-1zM17 119h1v1h-1zM29 119h1v1h-1zM39 119h1v1h-1zM19 120h1v1h-1zM29 120h1v1h-1zM35 120h1v1h-1zM28 121h1v1h-1zM30 121h1v1h-1zM32 121h1v1h-1zM19 122h1v1h-1zM31 123h1v1h-1zM42 123h1v1h-1zM45 123h1v1h-1zM47 123h1v1h-1zM38 124h3v1h-3zM0 125h1v1h-1zM18 125h2v1h-2zM19 126h1v1h-1zM22 126h1v1h-1zM24 126h1v1h-1zM45 126h1v1h-1zM3 127h1v1h-1zM24 127h1v1h-1zM32 127h1v1h-1zM35 128h1v1h-1zM21 129h1v1h-1zM25 129h1v1h-1zM45 129h1v1h-1zM5 130h1v1h-1zM20 130h2v1h-2zM30 130h1v1h-1zM38 130h1v1h-1zM21 131h1v1h-1zM27 131h1v1h-1zM26 132h1v1h-1zM39 132h1v1h-1zM49 133h1v1h-1zM10 134h1v1h-1zM42 134h1v1h-1zM3 135h2v1h-2zM26 135h1v1h-1zM29 135h1v1h-1zM33 135h1v1h-1zM34 136h1v1h-1zM16 137h1v1h-1zM26 137h1v1h-1zM2 139h1v1h-1z"/>
<path fill="#93c575" d="M46 0h1v1h-1zM34 2h1v1h-1zM49 4h1v1h-1zM18 6h1v1h-1zM17 8h1v1h-1zM23 8h2v1h-2zM39 8h1v1h-1zM19 9h1v1h-1zM41 9h1v1h-1zM21 10h1v1h-1zM25 10h1v1h-1zM38 11h1v1h-1zM45 11h1v1h-1zM24 12h1v1h-1zM33 12h1v1h-1zM29 13h1v1h-1zM27 14h1v1h-1zM5 15h1v1h-1zM45 16h1v1h-1zM19 18h1v1h-1zM22 18h1v1h-1zM43 18h1v1h-1zM27 19h1v1h-1zM49 19h1v1h-1zM21 20h1v1h-1zM18 22h1v1h-1zM25 23h1v1h-1zM38 24h1v1h-1zM35 26h1v1h-1zM45 26h2v1h-2zM17 27h1v1h-1zM22 27h1v1h-1zM18 28h1v1h-1zM38 28h1v1h-1zM45 28h1v1h-1zM2 30h1v1h-1zM5 30h1v1h-1zM16 30h1v1h-1zM30 30h1v1h-1zM1 31h1v1h-1zM28 31h1v1h-1zM30 31h1v1h-1zM32 31h1v1h-1zM42 31h1v1h-1zM18 32h1v1h-1zM1 33h1v1h-1zM5 33h1v1h-1zM17 33h2v1h-2zM28 33h1v1h-1zM35 34h1v1h-1zM49 34h1v1h-1zM28 35h1v1h-1zM31 36h1v1h-1zM31 37h1v1h-1zM47 37h1v1h-1zM2 38h1v1h-1zM19 38h1v1h-1zM29 38h1v1h-1zM49 38h1v1h-1zM17 39h1v1h-1zM31 39h1v1h-1zM34 39h1v1h-1zM24 40h1v1h-1zM0 41h1v1h-1zM26 41h2v1h-2zM30 42h1v1h-1zM45 42h1v1h-1zM20 43h2v1h-2zM31 44h1v1h-1zM32 45h2v1h-2zM22 47h1v1h-1zM38 47h1v1h-1zM43 47h1v1h-1zM29 48h1v1h-1zM3 49h2v1h-2zM28 49h1v1h-1zM43 49h1v1h-1zM49 49h1v1h-1zM0 51h1v1h-1zM28 51h1v1h-1zM48 51h1v1h-1zM26 52h1v1h-1zM49 52h1v1h-1zM38 54h1v1h-1zM19 55h1v1h-1zM19 56h1v1h-1zM24 56h1v1h-1zM34 56h1v1h-1zM18 58h1v1h-1zM33 58h1v1h-1zM36 58h1v1h-1zM4 59h1v1h-1zM41 61h1v1h-1zM5 62h1v1h-1zM15 62h1v1h-1zM22 63h1v1h-1zM1 64h1v1h-1zM27 64h1v1h-1zM38 64h1v1h-1zM45 64h1v1h-1zM6 65h1v1h-1zM26 65h1v1h-1zM28 65h1v1h-1zM19 66h1v1h-1zM3 67h1v1h-1zM30 67h1v1h-1zM44 67h1v1h-1zM46 67h1v1h-1zM1 68h1v1h-1zM40 68h1v1h-1zM7 69h1v1h-1zM22 69h1v1h-1zM30 69h1v1h-1zM49 69h1v1h-1zM34 70h1v1h-1zM24 71h1v1h-1zM3 72h1v1h-1zM11 72h1v1h-1zM16 72h2v1h-2zM27 72h1v1h-1zM31 72h1v1h-1zM34 72h1v1h-1zM40 72h2v1h-2zM44 73h1v1h-1zM48 73h1v1h-1zM35 75h1v1h-1zM0 78h1v1h-1zM37 78h1v1h-1zM2 80h1v1h-1zM0 89h1v1h-1zM24 90h1v1h-1zM34 90h1v1h-1zM40 90h1v1h-1zM44 90h1v1h-1zM3 91h1v1h-1zM5 92h1v1h-1zM49 93h1v1h-1zM5 95h1v1h-1zM48 96h1v1h-1zM27 98h1v1h-1zM33 98h1v1h-1zM41 98h2v1h-2zM48 98h1v1h-1zM24 99h1v1h-1zM47 100h1v1h-1zM41 101h1v1h-1zM43 101h1v1h-1zM17 102h1v1h-1zM30 102h1v1h-1zM2 103h1v1h-1zM38 104h1v1h-1zM35 105h1v1h-1zM44 105h1v1h-1zM23 106h1v1h-1zM32 106h1v1h-1zM48 106h1v1h-1zM37 107h1v1h-1zM40 107h1v1h-1zM48 107h1v1h-1zM24 108h1v1h-1zM44 108h1v1h-1zM0 109h1v1h-1zM5 109h1v1h-1zM5 110h1v1h-1zM19 110h1v1h-1zM21 110h1v1h-1zM39 110h1v1h-1zM1 112h1v1h-1zM20 112h1v1h-1zM23 112h1v1h-1zM45 112h1v1h-1zM5 113h1v1h-1zM21 113h1v1h-1zM45 113h1v1h-1zM29 114h1v1h-1zM38 114h1v1h-1zM46 114h1v1h-1zM41 115h1v1h-1zM19 116h1v1h-1zM35 116h2v1h-2zM12 117h1v1h-1zM45 118h1v1h-1zM43 119h1v1h-1zM38 121h1v1h-1zM40 121h1v1h-1zM42 121h1v1h-1zM18 122h1v1h-1zM20 122h1v1h-1zM23 122h1v1h-1zM38 122h1v1h-1zM2 124h1v1h-1zM19 124h1v1h-1zM21 124h1v1h-1zM29 124h1v1h-1zM36 125h1v1h-1zM21 126h1v1h-1zM28 126h1v1h-1zM34 126h1v1h-1zM27 127h1v1h-1zM44 127h1v1h-1zM47 127h1v1h-1zM24 128h1v1h-1zM2 129h1v1h-1zM24 130h1v1h-1zM32 130h1v1h-1zM14 131h1v1h-1zM46 132h1v1h-1zM3 133h1v1h-1zM18 133h1v1h-1zM38 133h1v1h-1zM43 133h1v1h-1zM37 134h1v1h-1zM10 135h1v1h-1zM17 135h1v1h-1zM33 136h1v1h-1zM41 136h1v1h-1zM29 137h1v1h-1zM36 137h1v1h-1zM47 137h1v1h-1zM0 138h1v1h-1zM20 138h1v1h-1zM41 138h1v1h-1zM49 139h1v1h-1z"/>
<path fill="#98c570" d="M47 0h1v1h-1zM27 2h1v1h-1zM26 3h1v1h-1zM27 4h1v1h-1zM32 5h1v1h-1zM34 5h1v1h-1zM1 6h2v1h-2zM4 6h1v1h-1zM29 6h1v1h-1zM36 6h1v1h-1zM35 7h1v1h-1zM40 8h1v1h-1zM44 8h1v1h-1zM47 8h1v1h-1zM2 9h1v1h-1zM16 9h1v1h-1zM34 9h1v1h-1zM44 9h1v1h-1zM27 10h1v1h-1zM31 10h1v1h-1zM35 10h1v1h-1zM42 10h1v1h-1zM42 11h1v1h-1zM2 12h1v1h-1zM19 12h1v1h-1zM32 12h1v1h-1zM37 12h1v1h-1zM43 12h1v1h-1zM48 12h1v1h-1zM39 13h1v1h-1zM44 13h1v1h-1zM24 14h1v1h-1zM34 14h1v1h-1zM39 14h1v1h-1zM27 15h1v1h-1zM38 15h1v1h-1zM47 15h2v1h-2zM4 16h1v1h-1zM35 16h1v1h-1zM20 17h1v1h-1zM40 17h1v1h-1zM30 18h1v1h-1zM34 18h1v1h-1zM46 18h1v1h-1zM18 19h1v1h-1zM28 19h1v1h-1zM0 20h1v1h-1zM35 20h1v1h-1zM46 20h1v1h-1zM42 21h1v1h-1zM46 21h2v1h-2zM23 22h1v1h-1zM41 22h1v1h-1zM45 22h2v1h-2zM48 22h2v1h-2zM18 23h1v1h-1zM29 23h1v1h-1zM49 25h1v1h-1zM3 26h1v1h-1zM28 26h1v1h-1zM47 26h1v1h-1zM21 27h1v1h-1zM47 27h1v1h-1zM24 28h1v1h-1zM39 28h1v1h-1zM46 28h1v1h-1zM4 29h1v1h-1zM49 29h1v1h-1zM18 30h1v1h-1zM25 30h1v1h-1zM38 30h2v1h-2zM36 31h1v1h-1zM45 31h1v1h-1zM2 32h1v1h-1zM19 32h1v1h-1zM23 32h1v1h-1zM31 32h1v1h-1zM45 32h1v1h-1zM47 32h1v1h-1zM23 33h2v1h-2zM40 33h1v1h-1zM20 34h1v1h-1zM32 34h1v1h-1zM36 34h1v1h-1zM41 34h1v1h-1zM44 34h1v1h-1zM46 34h1v1h-1zM2 35h1v1h-1zM20 35h1v1h-1zM36 35h1v1h-1zM44 35h1v1h-1zM33 36h1v1h-1zM33 37h1v1h-1zM35 38h1v1h-1zM2 39h1v1h-1zM18 39h1v1h-1zM25 39h1v1h-1zM29 39h1v1h-1zM42 39h1v1h-1zM44 39h2v1h-2zM17 40h1v1h-1zM21 40h1v1h-1zM1 41h2v1h-2zM4 41h1v1h-1zM21 41h1v1h-1zM35 41h1v1h-1zM39 41h1v1h-1zM44 41h1v1h-1zM21 42h1v1h-1zM47 43h1v1h-1zM18 44h1v1h-1zM30 44h1v1h-1zM36 44h1v1h-1zM34 45h1v1h-1zM48 45h1v1h-1zM17 46h1v1h-1zM30 46h1v1h-1zM47 46h1v1h-1zM1 47h1v1h-1zM31 47h1v1h-1zM44 48h1v1h-1zM46 48h1v1h-1zM2 49h1v1h-1zM17 50h1v1h-1zM27 50h1v1h-1zM39 50h1v1h-1zM2 51h1v1h-1zM23 51h1v1h-1zM2 52h2v1h-2zM17 52h1v1h-1zM22 52h2v1h-2zM30 52h1v1h-1zM33 52h2v1h-2zM29 53h1v1h-1zM45 53h1v1h-1zM43 54h1v1h-1zM43 55h1v1h-1zM16 56h1v1h-1zM38 56h1v1h-1zM3 57h1v1h-1zM17 57h1v1h-1zM19 57h1v1h-1zM21 57h1v1h-1zM28 57h1v1h-1zM47 57h1v1h-1zM19 58h1v1h-1zM21 58h1v1h-1zM42 58h1v1h-1zM44 58h1v1h-1zM44 59h1v1h-1zM34 60h1v1h-1zM38 60h1v1h-1zM42 60h1v1h-1zM45 60h1v1h-1zM36 61h1v1h-1zM39 61h1v1h-1zM3 62h1v1h-1zM31 62h1v1h-1zM4 63h1v1h-1zM20 63h1v1h-1zM23 63h1v1h-1zM27 63h1v1h-1zM28 64h2v1h-2zM32 64h1v1h-1zM19 65h1v1h-1zM24 65h2v1h-2zM33 65h1v1h-1zM17 66h1v1h-1zM36 66h1v1h-1zM39 66h1v1h-1zM46 66h1v1h-1zM12 67h1v1h-1zM42 67h1v1h-1zM45 67h1v1h-1zM47 67h1v1h-1zM0 68h1v1h-1zM21 68h1v1h-1zM28 68h1v1h-1zM16 69h1v1h-1zM23 69h1v1h-1zM26 69h1v1h-1zM34 69h1v1h-1zM37 69h1v1h-1zM40 69h1v1h-1zM6 70h1v1h-1zM28 70h1v1h-1zM32 70h2v1h-2zM17 71h1v1h-1zM21 72h1v1h-1zM36 72h1v1h-1zM11 73h2v1h-2zM24 73h1v1h-1zM37 73h1v1h-1zM9 74h1v1h-1zM2 76h1v1h-1zM6 76h1v1h-1zM18 76h1v1h-1zM30 76h1v1h-1zM47 76h2v1h-2zM22 77h1v1h-1zM43 77h1v1h-1zM36 78h1v1h-1zM16 80h1v1h-1zM43 85h1v1h-1zM4 86h1v1h-1zM1 90h1v1h-1zM23 90h1v1h-1zM26 90h1v1h-1zM28 90h1v1h-1zM32 90h1v1h-1zM21 91h1v1h-1zM43 91h1v1h-1zM39 92h1v1h-1zM0 93h1v1h-1zM46 94h1v1h-1zM27 95h1v1h-1zM35 95h2v1h-2zM5 96h1v1h-1zM35 96h1v1h-1zM24 98h1v1h-1zM29 98h2v1h-2zM34 99h1v1h-1zM19 101h1v1h-1zM36 101h1v1h-1zM40 101h1v1h-1zM48 101h1v1h-1zM39 102h2v1h-2zM27 103h1v1h-1zM41 103h1v1h-1zM33 104h1v1h-1zM36 104h1v1h-1zM42 104h1v1h-1zM47 104h2v1h-2zM23 105h1v1h-1zM27 105h1v1h-1zM29 105h1v1h-1zM0 106h1v1h-1zM5 106h1v1h-1zM40 106h1v1h-1zM3 108h1v1h-1zM17 108h1v1h-1zM19 108h2v1h-2zM23 108h1v1h-1zM28 108h1v1h-1zM33 108h1v1h-1zM16 109h1v1h-1zM1 110h1v1h-1zM2 111h1v1h-1zM0 112h1v1h-1zM31 112h1v1h-1zM33 112h2v1h-2zM48 112h1v1h-1zM32 113h1v1h-1zM37 113h1v1h-1zM30 114h1v1h-1zM36 114h1v1h-1zM38 115h1v1h-1zM45 115h1v1h-1zM48 115h1v1h-1zM3 116h1v1h-1zM16 116h1v1h-1zM18 116h1v1h-1zM30 116h1v1h-1zM48 116h1v1h-1zM22 118h1v1h-1zM35 118h2v1h-2zM47 118h1v1h-1zM5 119h1v1h-1zM36 119h1v1h-1zM0 120h1v1h-1zM4 120h1v1h-1zM39 120h1v1h-1zM19 121h1v1h-1zM0 123h1v1h-1zM5 123h1v1h-1zM36 123h1v1h-1zM4 125h1v1h-1zM20 125h1v1h-1zM4 126h1v1h-1zM20 126h1v1h-1zM36 126h1v1h-1zM16 127h1v1h-1zM25 127h1v1h-1zM28 127h1v1h-1zM36 127h1v1h-1zM43 128h1v1h-1zM32 129h1v1h-1zM48 129h1v1h-1zM0 130h1v1h-1zM46 130h1v1h-1zM45 131h1v1h-1zM17 132h1v1h-1zM38 132h1v1h-1zM2 133h1v1h-1zM14 134h1v1h-1zM34 134h1v1h-1zM0 135h1v1h-1zM5 135h1v1h-1zM35 135h1v1h-1zM41 135h1v1h-1zM18 136h1v1h-1zM17 137h2v1h-2zM31 137h2v1h-2zM48 137h1v1h-1zM23 138h1v1h-1z"/>
<path fill="#b6cf52" d="M0 1h1v1h-1zM19 1h1v1h-1zM21 1h1v1h-1zM30 1h1v1h-1zM34 1h1v1h-1zM48 1h1v1h-1zM48 7h1v1h-1zM46 19h1v1h-1zM22 23h1v1h-1zM22 60h1v1h-1zM20 71h1v1h-1zM47 77h1v1h-1zM18 78h1v1h-1zM21 78h1v1h-1zM31 78h1v1h-1zM2 79h1v1h-1zM23 79h2v1h-2zM26 79h1v1h-1zM29 79h1v1h-1zM31 79h1v1h-1zM36 79h3v1h-3zM49 79h1v1h-1zM18 80h2v1h-2zM26 81h1v1h-1zM32 81h2v1h-2zM16 82h1v1h-1zM19 83h1v1h-1zM48 83h1v1h-1zM26 84h1v1h-1zM31 84h1v1h-1zM44 84h1v1h-1zM21 85h1v1h-1zM25 85h1v1h-1zM17 86h1v1h-1zM27 86h2v1h-2zM21 88h2v1h-2zM36 88h1v1h-1zM28 89h1v1h-1zM18 91h1v1h-1zM30 91h1v1h-1zM20 94h1v1h-1zM40 94h1v1h-1zM36 100h1v1h-1zM18 103h1v1h-1zM27 109h1v1h-1zM48 109h2v1h-2zM29 111h1v1h-1zM23 116h1v1h-1zM42 129h1v1h-1z"/>
<path fill="#acca5c" d="M1 1h1v1h-1zM41 1h1v1h-1zM44 1h1v1h-1zM47 1h1v1h-1zM49 1h1v1h-1zM43 4h1v1h-1zM3 7h2v1h-2zM23 7h1v1h-1zM0 8h2v1h-2zM26 9h1v1h-1zM40 10h1v1h-1zM17 13h1v1h-1zM37 13h1v1h-1zM41 13h1v1h-1zM46 13h1v1h-1zM17 16h1v1h-1zM30 17h1v1h-1zM42 17h2v1h-2zM17 18h1v1h-1zM33 18h1v1h-1zM35 19h1v1h-1zM19 21h1v1h-1zM46 25h1v1h-1zM25 29h1v1h-1zM44 29h1v1h-1zM46 31h1v1h-1zM17 37h1v1h-1zM35 40h1v1h-1zM39 40h1v1h-1zM16 41h1v1h-1zM48 44h1v1h-1zM0 45h1v1h-1zM17 45h1v1h-1zM42 45h1v1h-1zM44 45h2v1h-2zM32 48h1v1h-1zM0 50h1v1h-1zM20 52h1v1h-1zM47 52h1v1h-1zM28 54h1v1h-1zM21 55h1v1h-1zM47 58h1v1h-1zM38 59h1v1h-1zM42 59h1v1h-1zM0 60h1v1h-1zM21 60h1v1h-1zM34 63h1v1h-1zM17 64h1v1h-1zM41 65h1v1h-1zM47 65h1v1h-1zM48 66h1v1h-1zM33 69h1v1h-1zM46 69h1v1h-1zM4 73h1v1h-1zM2 74h1v1h-1zM30 74h1v1h-1zM34 74h1v1h-1zM47 74h1v1h-1zM34 76h1v1h-1zM0 77h1v1h-1zM37 77h1v1h-1zM24 78h1v1h-1zM32 78h1v1h-1zM41 78h2v1h-2zM3 79h1v1h-1zM40 79h1v1h-1zM48 79h1v1h-1zM26 80h1v1h-1zM46 80h1v1h-1zM23 81h2v1h-2zM27 81h1v1h-1zM41 81h2v1h-2zM18 83h1v1h-1zM34 83h2v1h-2zM42 83h1v1h-1zM45 83h2v1h-2zM45 84h1v1h-1zM22 85h1v1h-1zM24 85h1v1h-1zM35 85h2v1h-2zM3 86h1v1h-1zM18 86h1v1h-1zM23 86h1v1h-1zM25 86h1v1h-1zM40 86h1v1h-1zM46 86h1v1h-1zM18 87h1v1h-1zM22 87h1v1h-1zM43 87h1v1h-1zM19 88h1v1h-1zM23 88h1v1h-1zM30 88h1v1h-1zM39 88h1v1h-1zM22 89h1v1h-1zM41 89h1v1h-1zM24 91h1v1h-1zM29 91h1v1h-1zM23 92h1v1h-1zM25 92h1v1h-1zM34 92h1v1h-1zM37 92h1v1h-1zM2 93h1v1h-1zM21 93h1v1h-1zM36 93h1v1h-1zM23 94h1v1h-1zM21 95h1v1h-1zM21 96h1v1h-1zM17 97h1v1h-1zM20 97h2v1h-2zM35 97h2v1h-2zM42 97h1v1h-1zM4 100h1v1h-1zM18 100h1v1h-1zM27 100h1v1h-1zM38 100h2v1h-2zM30 103h1v1h-1zM32 103h1v1h-1zM49 103h1v1h-1zM19 109h1v1h-1zM40 109h1v1h-1zM43 109h1v1h-1zM25 110h1v1h-1zM28 111h1v1h-1zM45 111h1v1h-1zM26 115h1v1h-1zM34 115h1v1h-1zM27 117h1v1h-1zM29 117h1v1h-1zM27 118h1v1h-1zM37 118h2v1h-2zM0 121h1v1h-1zM2 121h1v1h-1zM0 122h1v1h-1zM47 122h1v1h-1zM17 124h2v1h-2zM4 129h1v1h-1zM20 129h1v1h-1zM26 129h1v1h-1zM41 129h1v1h-1zM5 131h1v1h-1zM1 132h1v1h-1zM40 132h1v1h-1zM35 133h1v1h-1zM0 134h1v1h-1zM17 134h1v1h-1zM6 138h1v1h-1zM23 139h1v1h-1z"/>
<path fill="#b1cf57" d="M2 1h1v1h-1zM23 1h1v1h-1zM25 1h1v1h-1zM31 1h1v1h-1zM20 7h2v1h-2zM46 7h1v1h-1zM0 9h1v1h-1zM2 13h1v1h-1zM22 17h1v1h-1zM30 21h1v1h-1zM29 29h1v1h-1zM47 31h1v1h-1zM36 40h1v1h-1zM40 44h1v1h-1zM47 54h1v1h-1zM41 59h1v1h-1zM46 59h1v1h-1zM43 74h1v1h-1zM22 78h1v1h-1zM39 78h1v1h-1zM0 79h1v1h-1zM28 79h1v1h-1zM30 79h1v1h-1zM32 79h1v1h-1zM23 83h1v1h-1zM0 86h1v1h-1zM19 86h1v1h-1zM22 86h1v1h-1zM33 86h1v1h-1zM37 86h1v1h-1zM20 87h2v1h-2zM26 87h1v1h-1zM27 88h2v1h-2zM18 89h2v1h-2zM23 89h1v1h-1zM33 89h1v1h-1zM42 89h2v1h-2zM17 91h1v1h-1zM19 92h1v1h-1zM24 92h1v1h-1zM27 92h2v1h-2zM32 92h1v1h-1zM16 94h1v1h-1zM22 94h1v1h-1zM24 94h1v1h-1zM32 94h2v1h-2zM42 94h1v1h-1zM23 95h1v1h-1zM29 95h1v1h-1zM31 96h1v1h-1zM23 97h1v1h-1zM25 97h1v1h-1zM30 97h1v1h-1zM43 97h1v1h-1zM17 100h1v1h-1zM17 103h1v1h-1zM26 104h1v1h-1zM4 111h1v1h-1zM30 111h1v1h-1zM34 111h1v1h-1zM47 111h2v1h-2zM23 117h1v1h-1zM28 117h1v1h-1zM46 117h1v1h-1zM18 118h1v1h-1zM24 118h1v1h-1zM2 119h1v1h-1zM7 133h1v1h-1zM4 134h1v1h-1zM49 137h1v1h-1z"/>
<path fill="#b1cf52" d="M3 1h1v1h-1zM22 1h1v1h-1zM29 1h1v1h-1zM32 1h1v1h-1zM36 1h1v1h-1zM42 1h2v1h-2zM45 1h1v1h-1zM29 8h1v1h-1zM31 9h1v1h-1zM49 17h1v1h-1zM37 21h1v1h-1zM23 23h1v1h-1zM19 29h1v1h-1zM41 44h1v1h-1zM29 45h1v1h-1zM40 59h1v1h-1zM19 71h1v1h-1zM27 77h1v1h-1zM25 78h1v1h-1zM1 79h1v1h-1zM41 79h1v1h-1zM27 80h2v1h-2zM39 80h1v1h-1zM25 81h1v1h-1zM36 81h1v1h-1zM22 83h1v1h-1zM32 83h1v1h-1zM37 83h1v1h-1zM49 83h1v1h-1zM21 84h1v1h-1zM23 84h1v1h-1zM29 84h1v1h-1zM26 85h1v1h-1zM20 86h1v1h-1zM24 86h1v1h-1zM36 86h1v1h-1zM19 87h1v1h-1zM20 88h1v1h-1zM29 88h1v1h-1zM35 88h1v1h-1zM26 89h2v1h-2zM20 92h1v1h-1zM26 92h1v1h-1zM31 94h1v1h-1zM39 94h1v1h-1zM29 97h1v1h-1zM1 100h1v1h-1zM21 100h1v1h-1zM29 100h1v1h-1zM33 100h1v1h-1zM6 102h1v1h-1zM33 103h1v1h-1zM22 116h1v1h-1zM2 118h1v1h-1zM30 131h1v1h-1zM36 131h1v1h-1zM7 132h1v1h-1zM3 134h1v1h-1zM15 138h1v1h-1zM44 139h1v1h-1z"/>
<path fill="#a7ca5c" d="M4 1h1v1h-1zM46 1h1v1h-1zM33 4h1v1h-1zM28 5h1v1h-1zM46 5h1v1h-1zM1 7h1v1h-1zM2 8h1v1h-1zM28 8h1v1h-1zM32 9h1v1h-1zM38 9h1v1h-1zM48 9h1v1h-1zM0 11h1v1h-1zM35 11h1v1h-1zM18 13h1v1h-1zM35 13h2v1h-2zM33 15h1v1h-1zM27 16h1v1h-1zM40 16h1v1h-1zM2 17h1v1h-1zM3 21h1v1h-1zM31 21h1v1h-1zM35 21h1v1h-1zM34 23h1v1h-1zM42 23h1v1h-1zM21 24h1v1h-1zM25 24h1v1h-1zM32 25h2v1h-2zM40 25h1v1h-1zM42 25h1v1h-1zM22 30h1v1h-1zM28 30h1v1h-1zM33 32h1v1h-1zM37 32h1v1h-1zM2 34h1v1h-1zM40 36h1v1h-1zM20 39h1v1h-1zM32 40h1v1h-1zM34 41h1v1h-1zM5 44h1v1h-1zM39 44h1v1h-1zM44 44h2v1h-2zM2 45h1v1h-1zM20 45h1v1h-1zM41 45h1v1h-1zM24 46h1v1h-1zM26 46h1v1h-1zM38 46h1v1h-1zM31 48h1v1h-1zM25 49h1v1h-1zM30 49h1v1h-1zM38 49h1v1h-1zM21 51h1v1h-1zM41 52h1v1h-1zM22 54h2v1h-2zM25 54h1v1h-1zM34 54h1v1h-1zM39 55h1v1h-1zM45 55h1v1h-1zM20 57h1v1h-1zM33 57h1v1h-1zM17 59h1v1h-1zM37 59h1v1h-1zM39 59h1v1h-1zM16 60h1v1h-1zM41 60h1v1h-1zM16 62h1v1h-1zM46 63h1v1h-1zM49 63h1v1h-1zM18 64h1v1h-1zM37 65h1v1h-1zM49 66h1v1h-1zM4 70h1v1h-1zM26 71h1v1h-1zM29 71h1v1h-1zM43 71h1v1h-1zM1 74h1v1h-1zM27 74h1v1h-1zM31 74h1v1h-1zM43 76h1v1h-1zM1 77h1v1h-1zM31 77h1v1h-1zM44 77h1v1h-1zM48 77h1v1h-1zM33 78h1v1h-1zM35 78h1v1h-1zM27 79h1v1h-1zM44 79h1v1h-1zM46 79h1v1h-1zM21 80h1v1h-1zM24 80h1v1h-1zM32 80h1v1h-1zM36 80h1v1h-1zM45 80h1v1h-1zM48 80h1v1h-1zM19 81h1v1h-1zM22 81h1v1h-1zM29 81h1v1h-1zM37 81h2v1h-2zM2 83h1v1h-1zM30 83h2v1h-2zM40 83h1v1h-1zM4 84h1v1h-1zM25 84h1v1h-1zM34 84h1v1h-1zM42 84h1v1h-1zM18 85h1v1h-1zM30 85h1v1h-1zM34 85h1v1h-1zM40 85h1v1h-1zM36 87h1v1h-1zM42 87h1v1h-1zM34 88h1v1h-1zM38 88h1v1h-1zM46 88h1v1h-1zM24 89h1v1h-1zM39 89h1v1h-1zM44 89h1v1h-1zM46 89h1v1h-1zM25 91h1v1h-1zM36 91h1v1h-1zM42 92h1v1h-1zM17 93h2v1h-2zM30 93h1v1h-1zM35 93h1v1h-1zM42 93h1v1h-1zM30 94h1v1h-1zM20 95h1v1h-1zM38 95h1v1h-1zM24 96h1v1h-1zM3 97h1v1h-1zM31 98h1v1h-1zM30 100h1v1h-1zM32 100h1v1h-1zM5 102h1v1h-1zM23 103h2v1h-2zM31 103h1v1h-1zM34 103h2v1h-2zM48 103h1v1h-1zM34 106h1v1h-1zM1 109h2v1h-2zM41 109h1v1h-1zM45 109h1v1h-1zM19 111h1v1h-1zM36 111h1v1h-1zM49 112h1v1h-1zM18 115h2v1h-2zM25 115h1v1h-1zM33 115h1v1h-1zM43 115h1v1h-1zM0 116h1v1h-1zM1 117h1v1h-1zM25 117h1v1h-1zM43 117h1v1h-1zM3 118h1v1h-1zM26 118h1v1h-1zM33 118h1v1h-1zM43 118h1v1h-1zM49 118h1v1h-1zM37 119h1v1h-1zM35 122h1v1h-1zM48 122h1v1h-1zM1 127h2v1h-2zM30 129h2v1h-2zM36 129h1v1h-1zM43 129h1v1h-1zM38 131h1v1h-1zM5 132h1v1h-1zM18 132h2v1h-2zM28 132h1v1h-1zM34 133h1v1h-1zM1 134h1v1h-1zM8 134h1v1h-1zM24 134h1v1h-1zM29 134h1v1h-1zM36 134h1v1h-1zM39 134h1v1h-1zM46 134h1v1h-1zM47 135h1v1h-1zM19 137h2v1h-2zM42 137h2v1h-2zM19 139h1v1h-1zM24 139h1v1h-1zM26 139h1v1h-1zM45 139h1v1h-1z"/>
<path fill="#7fc089" d="M6 1h1v1h-1zM18 3h1v1h-1zM6 4h1v1h-1zM16 5h1v1h-1zM23 6h1v1h-1zM33 6h1v1h-1zM6 7h1v1h-1zM6 12h1v1h-1zM6 13h1v1h-1zM6 14h1v1h-1zM7 17h1v1h-1zM6 19h1v1h-1zM14 19h1v1h-1zM16 20h1v1h-1zM23 20h1v1h-1zM12 21h1v1h-1zM7 23h1v1h-1zM15 23h1v1h-1zM13 24h1v1h-1zM8 25h1v1h-1zM11 25h2v1h-2zM26 28h1v1h-1zM8 29h1v1h-1zM10 29h3v1h-3zM12 30h1v1h-1zM14 30h1v1h-1zM7 31h1v1h-1zM14 32h1v1h-1zM10 33h1v1h-1zM7 35h2v1h-2zM7 36h2v1h-2zM6 40h1v1h-1zM11 40h1v1h-1zM6 41h2v1h-2zM12 41h1v1h-1zM12 42h1v1h-1zM13 43h2v1h-2zM9 44h2v1h-2zM7 45h3v1h-3zM10 46h1v1h-1zM9 48h3v1h-3zM13 48h1v1h-1zM9 49h1v1h-1zM12 50h1v1h-1zM9 52h3v1h-3zM7 53h2v1h-2zM15 53h1v1h-1zM5 56h1v1h-1zM9 56h1v1h-1zM10 58h1v1h-1zM9 60h1v1h-1zM6 61h1v1h-1zM8 61h1v1h-1zM12 61h2v1h-2zM19 61h1v1h-1zM7 64h1v1h-1zM7 68h1v1h-1zM16 68h1v1h-1zM31 68h1v1h-1zM34 68h1v1h-1zM13 70h1v1h-1zM0 72h1v1h-1zM8 75h1v1h-1zM6 80h1v1h-1zM6 83h1v1h-1zM7 86h1v1h-1zM6 88h1v1h-1zM6 94h1v1h-1zM11 97h1v1h-1zM14 97h1v1h-1zM40 98h1v1h-1zM12 100h1v1h-1zM15 101h1v1h-1zM8 102h1v1h-1zM8 103h1v1h-1zM10 106h1v1h-1zM7 108h1v1h-1zM10 109h1v1h-1zM13 110h1v1h-1zM7 111h2v1h-2zM9 112h1v1h-1zM12 112h4v1h-4zM7 113h1v1h-1zM3 114h1v1h-1zM16 114h1v1h-1zM9 117h1v1h-1zM9 119h2v1h-2zM15 119h1v1h-1zM9 120h2v1h-2zM12 120h2v1h-2zM7 121h2v1h-2zM11 121h2v1h-2zM14 121h1v1h-1zM11 123h1v1h-1zM7 124h1v1h-1zM12 124h1v1h-1zM9 125h1v1h-1zM15 125h1v1h-1zM9 126h1v1h-1zM11 126h1v1h-1zM1 128h1v1h-1zM5 128h2v1h-2zM13 129h2v1h-2zM8 130h1v1h-1zM12 130h4v1h-4zM9 131h2v1h-2zM12 131h1v1h-1zM9 132h1v1h-1zM15 135h1v1h-1zM12 136h4v1h-4zM11 137h1v1h-1zM5 138h1v1h-1zM32 138h1v1h-1z"/>
<path fill="#6bc0a2" d="M7 1h1v1h-1zM9 4h1v1h-1zM12 10h1v1h-1zM14 10h1v1h-1zM8 11h1v1h-1zM7 12h1v1h-1zM13 12h2v1h-2zM11 15h1v1h-1zM12 17h1v1h-1zM9 20h2v1h-2zM11 82h1v1h-1zM14 82h1v1h-1zM9 83h1v1h-1zM8 84h1v1h-1zM14 85h1v1h-1zM12 88h1v1h-1zM8 89h1v1h-1zM10 89h1v1h-1zM13 89h1v1h-1zM14 90h1v1h-1zM8 91h1v1h-1zM11 91h2v1h-2zM7 92h2v1h-2zM13 92h1v1h-1zM8 93h3v1h-3zM13 95h1v1h-1zM10 96h1v1h-1zM14 96h1v1h-1zM7 98h1v1h-1zM13 98h1v1h-1zM7 99h1v1h-1zM9 99h1v1h-1zM11 101h1v1h-1zM14 107h1v1h-1zM9 114h1v1h-1z"/>
<path fill="#66bbac" d="M8 1h1v1h-1zM7 3h1v1h-1zM15 3h1v1h-1zM7 4h1v1h-1zM11 5h1v1h-1zM12 7h2v1h-2zM7 10h1v1h-1zM9 14h1v1h-1zM14 79h1v1h-1zM15 80h1v1h-1zM10 83h2v1h-2zM10 84h1v1h-1zM8 85h1v1h-1zM12 86h1v1h-1zM10 87h1v1h-1zM15 87h1v1h-1zM9 90h1v1h-1zM11 90h1v1h-1zM12 98h1v1h-1zM11 102h1v1h-1z"/>
<path fill="#61bbb6" d="M9 1h1v1h-1zM11 1h1v1h-1zM15 2h1v1h-1zM8 4h1v1h-1zM10 4h1v1h-1zM12 4h3v1h-3zM10 5h1v1h-1zM8 8h1v1h-1zM13 8h1v1h-1zM8 12h1v1h-1zM7 20h2v1h-2zM12 79h1v1h-1zM10 82h1v1h-1zM14 83h1v1h-1zM10 85h1v1h-1zM10 86h1v1h-1zM9 87h1v1h-1zM10 88h1v1h-1zM12 90h1v1h-1zM9 91h1v1h-1zM12 102h1v1h-1z"/>
<path fill="#61bbbb" d="M12 1h1v1h-1zM9 5h1v1h-1zM10 6h1v1h-1zM15 81h1v1h-1zM14 87h1v1h-1z"/>
<path fill="#7fc084" d="M16 1h1v1h-1zM18 2h1v1h-1zM43 2h2v1h-2zM17 3h1v1h-1zM16 4h1v1h-1zM45 6h1v1h-1zM16 8h1v1h-1zM5 9h1v1h-1zM5 20h1v1h-1zM7 22h1v1h-1zM14 25h1v1h-1zM0 27h1v1h-1zM41 28h1v1h-1zM6 29h1v1h-1zM44 31h1v1h-1zM15 32h1v1h-1zM6 33h1v1h-1zM14 33h2v1h-2zM7 34h1v1h-1zM15 35h1v1h-1zM9 36h1v1h-1zM6 37h1v1h-1zM15 37h1v1h-1zM39 37h1v1h-1zM15 38h1v1h-1zM11 41h1v1h-1zM5 42h2v1h-2zM12 43h1v1h-1zM11 44h1v1h-1zM13 44h1v1h-1zM15 45h1v1h-1zM40 47h1v1h-1zM8 48h1v1h-1zM7 49h1v1h-1zM8 50h1v1h-1zM6 52h1v1h-1zM8 52h1v1h-1zM6 53h1v1h-1zM22 53h3v1h-3zM7 55h1v1h-1zM7 56h1v1h-1zM15 56h1v1h-1zM34 58h1v1h-1zM12 60h1v1h-1zM32 61h1v1h-1zM8 64h1v1h-1zM9 66h1v1h-1zM6 68h1v1h-1zM14 68h1v1h-1zM24 68h1v1h-1zM11 69h1v1h-1zM14 69h1v1h-1zM8 72h1v1h-1zM12 75h2v1h-2zM8 76h1v1h-1zM17 78h1v1h-1zM6 79h1v1h-1zM6 90h1v1h-1zM7 97h1v1h-1zM4 98h1v1h-1zM1 99h1v1h-1zM4 99h1v1h-1zM10 100h1v1h-1zM14 100h1v1h-1zM7 103h1v1h-1zM7 104h1v1h-1zM7 106h1v1h-1zM5 108h1v1h-1zM7 109h1v1h-1zM13 109h1v1h-1zM8 110h1v1h-1zM23 110h1v1h-1zM9 111h1v1h-1zM39 113h1v1h-1zM34 114h1v1h-1zM45 114h1v1h-1zM6 115h1v1h-1zM8 115h1v1h-1zM10 115h1v1h-1zM14 115h1v1h-1zM13 116h1v1h-1zM10 117h1v1h-1zM7 119h1v1h-1zM15 121h1v1h-1zM11 122h1v1h-1zM8 124h1v1h-1zM13 124h1v1h-1zM15 124h1v1h-1zM8 126h1v1h-1zM26 128h3v1h-3zM44 128h1v1h-1zM6 130h2v1h-2zM11 130h1v1h-1zM11 131h1v1h-1zM13 131h1v1h-1zM13 132h1v1h-1zM0 136h2v1h-2zM39 136h1v1h-1zM49 136h1v1h-1zM13 137h1v1h-1z"/>
<path fill="#a2ca66" d="M18 1h1v1h-1zM28 1h1v1h-1zM30 7h1v1h-1zM43 7h1v1h-1zM49 7h1v1h-1zM33 8h1v1h-1zM42 8h1v1h-1zM1 13h1v1h-1zM25 13h1v1h-1zM47 13h1v1h-1zM26 15h1v1h-1zM31 15h1v1h-1zM35 15h1v1h-1zM41 17h1v1h-1zM17 19h1v1h-1zM39 21h1v1h-1zM35 23h1v1h-1zM41 23h1v1h-1zM39 25h1v1h-1zM35 27h1v1h-1zM1 29h1v1h-1zM46 29h2v1h-2zM26 30h1v1h-1zM33 30h1v1h-1zM4 31h1v1h-1zM41 32h1v1h-1zM49 33h1v1h-1zM38 36h1v1h-1zM16 37h1v1h-1zM32 39h1v1h-1zM36 39h1v1h-1zM34 40h1v1h-1zM38 40h1v1h-1zM40 40h1v1h-1zM17 41h1v1h-1zM19 41h1v1h-1zM38 41h1v1h-1zM46 41h1v1h-1zM23 45h1v1h-1zM23 46h1v1h-1zM37 46h1v1h-1zM42 50h1v1h-1zM4 52h1v1h-1zM20 55h1v1h-1zM23 55h1v1h-1zM37 55h1v1h-1zM44 55h1v1h-1zM1 56h1v1h-1zM32 58h1v1h-1zM18 59h1v1h-1zM32 60h1v1h-1zM38 62h1v1h-1zM29 63h1v1h-1zM25 64h1v1h-1zM41 64h1v1h-1zM47 64h2v1h-2zM1 65h1v1h-1zM36 65h1v1h-1zM35 66h1v1h-1zM25 67h1v1h-1zM2 69h1v1h-1zM17 70h1v1h-1zM44 70h1v1h-1zM46 71h1v1h-1zM47 73h1v1h-1zM25 74h1v1h-1zM45 75h1v1h-1zM4 77h1v1h-1zM38 77h1v1h-1zM0 80h1v1h-1zM5 80h1v1h-1zM4 82h1v1h-1zM32 84h1v1h-1zM19 85h1v1h-1zM33 85h1v1h-1zM2 86h1v1h-1zM38 86h1v1h-1zM37 87h1v1h-1zM18 88h1v1h-1zM31 88h1v1h-1zM32 89h1v1h-1zM45 89h1v1h-1zM49 89h1v1h-1zM36 92h1v1h-1zM43 92h1v1h-1zM27 93h1v1h-1zM31 93h1v1h-1zM40 93h1v1h-1zM31 95h1v1h-1zM23 96h1v1h-1zM41 97h1v1h-1zM45 97h1v1h-1zM2 98h1v1h-1zM21 98h1v1h-1zM21 99h1v1h-1zM16 100h1v1h-1zM19 100h1v1h-1zM34 100h1v1h-1zM42 100h1v1h-1zM4 101h1v1h-1zM26 101h1v1h-1zM25 103h1v1h-1zM36 103h1v1h-1zM21 104h1v1h-1zM26 105h1v1h-1zM35 106h1v1h-1zM37 106h2v1h-2zM34 108h1v1h-1zM41 111h1v1h-1zM46 111h1v1h-1zM24 115h1v1h-1zM41 116h1v1h-1zM16 117h1v1h-1zM21 117h1v1h-1zM4 118h1v1h-1zM26 120h1v1h-1zM37 120h1v1h-1zM42 120h1v1h-1zM45 120h2v1h-2zM24 124h1v1h-1zM34 124h1v1h-1zM38 126h1v1h-1zM22 127h1v1h-1zM49 127h1v1h-1zM47 129h1v1h-1zM4 130h1v1h-1zM49 130h1v1h-1zM23 134h1v1h-1zM2 137h1v1h-1zM45 137h1v1h-1zM40 139h1v1h-1z"/>
<path fill="#b6cf4d" d="M20 1h1v1h-1zM21 21h1v1h-1zM29 78h1v1h-1zM17 80h1v1h-1zM36 83h1v1h-1zM38 83h1v1h-1zM24 84h1v1h-1zM27 85h1v1h-1zM26 88h1v1h-1zM30 92h1v1h-1zM35 94h1v1h-1zM22 95h1v1h-1zM31 97h1v1h-1zM0 100h1v1h-1zM22 100h1v1h-1zM28 100h1v1h-1zM18 109h1v1h-1zM47 109h1v1h-1zM29 131h1v1h-1zM35 131h1v1h-1zM6 137h1v1h-1z"/>
<path fill="#bbcf4d" d="M26 1h1v1h-1zM40 5h1v1h-1zM20 21h1v1h-1zM28 78h1v1h-1zM38 78h1v1h-1zM22 80h2v1h-2zM28 81h1v1h-1zM48 82h1v1h-1zM39 83h1v1h-1zM20 84h1v1h-1zM28 84h1v1h-1zM30 84h1v1h-1zM35 84h3v1h-3zM29 92h1v1h-1zM31 92h1v1h-1zM17 94h1v1h-1zM15 139h1v1h-1z"/>
<path fill="#accf57" d="M27 1h1v1h-1zM37 1h1v1h-1zM39 79h1v1h-1zM38 84h1v1h-1zM20 85h1v1h-1zM34 94h1v1h-1zM28 97h1v1h-1z"/>
<path fill="#c5d448" d="M35 1h1v1h-1zM21 79h1v1h-1zM39 82h1v1h-1zM24 83h1v1h-1zM27 84h1v1h-1zM21 94h1v1h-1zM46 109h1v1h-1zM41 118h1v1h-1z"/>
<path fill="#52bbc5" d="M7 2h1v1h-1zM11 4h1v1h-1z"/>
<path fill="#39b6de" d="M8 2h1v1h-1z"/>
<path fill="#48b6d4" d="M9 2h1v1h-1zM15 6h1v1h-1zM11 79h1v1h-1zM14 80h1v1h-1z"/>
<path fill="#3eb6d9" d="M10 2h1v1h-1zM12 3h1v1h-1zM12 81h1v1h-1z"/>
<path fill="#2ab1e3" d="M11 2h1v1h-1z"/>
<path fill="#2fb1e3" d="M12 2h1v1h-1zM9 3h1v1h-1zM14 3h1v1h-1zM9 82h1v1h-1z"/>
<path fill="#34b1de" d="M13 2h1v1h-1zM10 3h1v1h-1zM13 81h1v1h-1z"/>
<path fill="#3eb6de" d="M14 2h1v1h-1zM14 6h1v1h-1z"/>
<path fill="#75c093" d="M16 2h1v1h-1zM6 6h1v1h-1zM16 6h1v1h-1zM15 7h1v1h-1zM9 9h1v1h-1zM15 9h1v1h-1zM7 13h1v1h-1zM10 13h1v1h-1zM15 13h1v1h-1zM8 15h1v1h-1zM8 16h1v1h-1zM10 16h1v1h-1zM8 17h2v1h-2zM11 17h1v1h-1zM14 17h1v1h-1zM10 19h1v1h-1zM13 20h1v1h-1zM15 20h1v1h-1zM13 21h2v1h-2zM15 22h1v1h-1zM10 25h1v1h-1zM9 26h2v1h-2zM13 26h1v1h-1zM8 28h1v1h-1zM10 28h1v1h-1zM8 33h1v1h-1zM12 34h1v1h-1zM9 35h3v1h-3zM12 36h1v1h-1zM15 36h1v1h-1zM8 37h1v1h-1zM12 37h2v1h-2zM12 39h1v1h-1zM13 40h1v1h-1zM14 42h1v1h-1zM10 49h1v1h-1zM10 51h1v1h-1zM11 53h1v1h-1zM13 53h1v1h-1zM14 58h1v1h-1zM6 78h1v1h-1zM6 81h1v1h-1zM7 83h1v1h-1zM6 87h1v1h-1zM7 90h1v1h-1zM15 93h1v1h-1zM11 94h1v1h-1zM7 96h1v1h-1zM12 96h2v1h-2zM9 97h2v1h-2zM6 98h1v1h-1zM7 100h1v1h-1zM6 101h2v1h-2zM10 102h1v1h-1zM10 103h1v1h-1zM10 104h1v1h-1zM7 105h1v1h-1zM12 105h2v1h-2zM13 106h2v1h-2zM8 107h1v1h-1zM14 108h1v1h-1zM7 110h1v1h-1zM11 113h1v1h-1zM14 113h1v1h-1zM9 122h1v1h-1zM12 126h1v1h-1zM13 128h1v1h-1zM9 133h1v1h-1z"/>
<path fill="#4dbbcf" d="M8 3h1v1h-1z"/>
<path fill="#34b1e3" d="M11 3h1v1h-1zM13 3h1v1h-1zM11 80h1v1h-1z"/>
<path fill="#a2c566" d="M0 4h1v1h-1zM0 7h1v1h-1zM22 8h1v1h-1zM43 9h1v1h-1zM31 13h1v1h-1zM38 13h1v1h-1zM36 15h1v1h-1zM18 16h1v1h-1zM23 16h1v1h-1zM32 16h1v1h-1zM18 17h1v1h-1zM26 19h1v1h-1zM16 21h1v1h-1zM24 21h1v1h-1zM19 22h1v1h-1zM42 22h1v1h-1zM24 23h1v1h-1zM17 24h1v1h-1zM20 24h1v1h-1zM40 24h1v1h-1zM43 24h1v1h-1zM29 26h1v1h-1zM48 26h1v1h-1zM47 28h1v1h-1zM40 30h1v1h-1zM47 30h1v1h-1zM20 31h1v1h-1zM30 32h1v1h-1zM42 32h1v1h-1zM30 34h1v1h-1zM2 36h1v1h-1zM26 37h1v1h-1zM0 40h1v1h-1zM29 40h1v1h-1zM35 42h1v1h-1zM17 44h1v1h-1zM46 44h1v1h-1zM17 47h1v1h-1zM47 47h1v1h-1zM40 51h1v1h-1zM40 52h1v1h-1zM24 55h1v1h-1zM34 55h1v1h-1zM36 55h1v1h-1zM41 56h1v1h-1zM49 58h1v1h-1zM20 59h1v1h-1zM43 59h1v1h-1zM48 59h1v1h-1zM5 60h1v1h-1zM20 60h1v1h-1zM48 60h1v1h-1zM24 62h2v1h-2zM48 62h1v1h-1zM28 63h1v1h-1zM37 63h1v1h-1zM2 64h1v1h-1zM31 70h1v1h-1zM3 71h1v1h-1zM25 71h1v1h-1zM4 74h1v1h-1zM26 74h1v1h-1zM28 75h1v1h-1zM39 76h1v1h-1zM44 76h1v1h-1zM34 77h1v1h-1zM49 77h1v1h-1zM3 78h1v1h-1zM44 78h1v1h-1zM34 80h1v1h-1zM1 83h1v1h-1zM39 84h1v1h-1zM47 85h1v1h-1zM48 86h1v1h-1zM28 87h1v1h-1zM44 87h1v1h-1zM46 87h1v1h-1zM33 88h1v1h-1zM45 88h1v1h-1zM21 89h1v1h-1zM37 89h1v1h-1zM45 91h1v1h-1zM22 92h1v1h-1zM1 93h1v1h-1zM29 94h1v1h-1zM49 94h1v1h-1zM19 95h1v1h-1zM24 95h1v1h-1zM28 95h1v1h-1zM32 95h1v1h-1zM38 96h2v1h-2zM38 97h1v1h-1zM46 97h1v1h-1zM20 100h1v1h-1zM24 100h1v1h-1zM35 100h1v1h-1zM44 100h1v1h-1zM29 102h1v1h-1zM44 103h1v1h-1zM30 104h1v1h-1zM18 105h1v1h-1zM1 106h1v1h-1zM39 106h1v1h-1zM21 109h1v1h-1zM4 110h1v1h-1zM31 110h1v1h-1zM30 115h1v1h-1zM32 115h1v1h-1zM40 115h1v1h-1zM24 116h1v1h-1zM42 116h1v1h-1zM20 117h1v1h-1zM31 117h1v1h-1zM42 117h1v1h-1zM30 118h1v1h-1zM39 118h1v1h-1zM22 119h1v1h-1zM46 121h1v1h-1zM44 123h1v1h-1zM17 126h1v1h-1zM17 127h1v1h-1zM24 129h1v1h-1zM29 129h1v1h-1zM1 131h1v1h-1zM22 131h1v1h-1zM26 131h1v1h-1zM28 131h1v1h-1zM49 131h1v1h-1zM4 132h1v1h-1zM23 132h1v1h-1zM25 132h1v1h-1zM21 134h1v1h-1zM35 134h1v1h-1zM47 134h1v1h-1zM22 137h1v1h-1zM27 137h1v1h-1zM29 139h1v1h-1z"/>
<path fill="#66bbb1" d="M15 4h1v1h-1zM8 5h1v1h-1zM12 5h1v1h-1zM15 5h1v1h-1zM7 6h1v1h-1zM9 8h1v1h-1zM10 11h1v1h-1zM12 14h2v1h-2zM12 19h1v1h-1zM13 83h1v1h-1zM11 84h1v1h-1zM13 85h1v1h-1zM8 87h1v1h-1zM10 90h1v1h-1z"/>
<path fill="#a7ca61" d="M34 4h2v1h-2zM47 4h1v1h-1zM0 5h1v1h-1zM20 5h1v1h-1zM23 5h1v1h-1zM41 5h1v1h-1zM45 5h1v1h-1zM19 7h1v1h-1zM24 7h2v1h-2zM41 8h1v1h-1zM39 9h1v1h-1zM47 9h1v1h-1zM19 10h2v1h-2zM39 10h1v1h-1zM49 10h1v1h-1zM23 11h1v1h-1zM24 13h1v1h-1zM32 15h1v1h-1zM2 16h1v1h-1zM30 16h1v1h-1zM47 16h1v1h-1zM49 16h1v1h-1zM1 17h1v1h-1zM23 17h1v1h-1zM31 17h1v1h-1zM4 19h1v1h-1zM24 19h1v1h-1zM34 19h1v1h-1zM43 19h2v1h-2zM0 23h1v1h-1zM44 24h1v1h-1zM3 25h1v1h-1zM35 25h2v1h-2zM18 29h1v1h-1zM41 29h1v1h-1zM43 29h1v1h-1zM27 30h1v1h-1zM41 30h1v1h-1zM21 31h1v1h-1zM5 32h1v1h-1zM28 32h1v1h-1zM36 32h1v1h-1zM1 36h1v1h-1zM27 39h1v1h-1zM39 39h1v1h-1zM4 40h1v1h-1zM18 41h1v1h-1zM26 44h1v1h-1zM38 44h1v1h-1zM49 44h1v1h-1zM4 50h1v1h-1zM43 50h1v1h-1zM47 50h2v1h-2zM24 52h1v1h-1zM42 52h1v1h-1zM18 54h1v1h-1zM24 54h1v1h-1zM29 54h1v1h-1zM3 55h1v1h-1zM40 55h1v1h-1zM33 56h1v1h-1zM44 57h1v1h-1zM0 59h2v1h-2zM19 59h1v1h-1zM26 59h1v1h-1zM49 59h1v1h-1zM1 60h1v1h-1zM6 60h1v1h-1zM23 60h1v1h-1zM49 60h1v1h-1zM47 62h1v1h-1zM41 63h1v1h-1zM19 64h1v1h-1zM22 70h1v1h-1zM44 71h1v1h-1zM0 73h1v1h-1zM18 73h1v1h-1zM23 74h1v1h-1zM28 74h1v1h-1zM36 74h1v1h-1zM42 74h1v1h-1zM46 74h1v1h-1zM20 75h1v1h-1zM5 76h1v1h-1zM35 76h2v1h-2zM28 77h1v1h-1zM36 77h1v1h-1zM23 78h1v1h-1zM40 78h1v1h-1zM43 78h1v1h-1zM43 79h1v1h-1zM20 80h1v1h-1zM29 80h2v1h-2zM41 80h1v1h-1zM43 81h1v1h-1zM0 82h1v1h-1zM29 83h1v1h-1zM41 83h1v1h-1zM47 83h1v1h-1zM22 84h1v1h-1zM40 84h2v1h-2zM28 85h1v1h-1zM32 85h1v1h-1zM26 86h1v1h-1zM43 86h1v1h-1zM49 86h1v1h-1zM29 87h1v1h-1zM33 87h1v1h-1zM17 88h1v1h-1zM37 88h1v1h-1zM48 88h1v1h-1zM29 89h3v1h-3zM34 89h1v1h-1zM19 91h1v1h-1zM23 91h1v1h-1zM33 91h1v1h-1zM37 91h1v1h-1zM41 91h1v1h-1zM3 92h1v1h-1zM17 92h1v1h-1zM28 93h1v1h-1zM39 93h1v1h-1zM2 94h1v1h-1zM25 94h1v1h-1zM37 94h1v1h-1zM43 94h1v1h-1zM47 94h1v1h-1zM26 95h1v1h-1zM37 95h1v1h-1zM28 96h1v1h-1zM41 96h1v1h-1zM16 97h1v1h-1zM26 97h1v1h-1zM34 97h1v1h-1zM37 100h1v1h-1zM22 101h1v1h-1zM39 101h1v1h-1zM26 103h1v1h-1zM29 103h1v1h-1zM27 104h1v1h-1zM20 106h1v1h-1zM39 109h1v1h-1zM18 111h1v1h-1zM25 111h2v1h-2zM37 111h1v1h-1zM44 111h1v1h-1zM17 112h1v1h-1zM44 115h1v1h-1zM17 117h1v1h-1zM22 117h1v1h-1zM35 117h1v1h-1zM37 117h1v1h-1zM39 117h1v1h-1zM41 117h1v1h-1zM44 117h1v1h-1zM49 117h1v1h-1zM1 118h1v1h-1zM17 118h1v1h-1zM20 118h1v1h-1zM44 118h1v1h-1zM26 119h1v1h-1zM45 119h1v1h-1zM3 120h1v1h-1zM34 122h1v1h-1zM6 123h1v1h-1zM35 123h1v1h-1zM43 123h1v1h-1zM23 124h1v1h-1zM41 124h1v1h-1zM2 125h1v1h-1zM18 127h1v1h-1zM27 129h1v1h-1zM44 129h1v1h-1zM2 130h1v1h-1zM27 130h1v1h-1zM23 131h1v1h-1zM40 131h2v1h-2zM27 132h1v1h-1zM5 134h1v1h-1zM19 134h1v1h-1zM40 134h1v1h-1zM44 134h1v1h-1zM49 134h1v1h-1zM21 137h1v1h-1zM33 139h1v1h-1zM37 139h1v1h-1z"/>
<path fill="#57bbc0" d="M13 5h1v1h-1z"/>
<path fill="#57bbc5" d="M14 5h1v1h-1zM9 6h1v1h-1zM11 6h1v1h-1z"/>
<path fill="#52bbca" d="M8 6h1v1h-1zM12 80h2v1h-2z"/>
<path fill="#43b6d9" d="M12 6h2v1h-2z"/>
<path fill="#75c098" d="M7 7h1v1h-1zM6 9h1v1h-1zM10 10h1v1h-1zM12 12h1v1h-1zM9 13h1v1h-1zM15 15h1v1h-1zM11 16h1v1h-1zM15 16h1v1h-1zM15 17h1v1h-1zM11 18h1v1h-1zM15 18h1v1h-1zM8 19h1v1h-1zM6 20h1v1h-1zM14 20h1v1h-1zM13 23h1v1h-1zM9 24h1v1h-1zM7 26h2v1h-2zM8 27h1v1h-1zM10 27h3v1h-3zM15 27h1v1h-1zM12 28h2v1h-2zM15 28h1v1h-1zM10 31h1v1h-1zM13 31h1v1h-1zM12 32h1v1h-1zM7 33h1v1h-1zM12 33h1v1h-1zM8 34h1v1h-1zM10 34h1v1h-1zM13 34h1v1h-1zM11 36h1v1h-1zM11 37h1v1h-1zM14 37h1v1h-1zM11 38h1v1h-1zM8 40h3v1h-3zM13 42h1v1h-1zM14 50h1v1h-1zM12 51h1v1h-1zM10 53h1v1h-1zM12 56h1v1h-1zM15 79h1v1h-1zM15 84h1v1h-1zM7 88h1v1h-1zM14 88h1v1h-1zM15 89h1v1h-1zM15 90h1v1h-1zM7 91h1v1h-1zM9 92h2v1h-2zM14 92h2v1h-2zM8 94h1v1h-1zM10 94h1v1h-1zM9 95h1v1h-1zM8 96h1v1h-1zM11 99h1v1h-1zM15 99h1v1h-1zM8 104h1v1h-1zM12 104h1v1h-1zM8 105h1v1h-1zM10 105h1v1h-1zM14 105h1v1h-1zM12 106h1v1h-1zM7 107h1v1h-1zM9 107h1v1h-1zM12 107h1v1h-1zM15 107h1v1h-1zM9 108h1v1h-1zM13 108h1v1h-1zM15 110h1v1h-1zM12 113h1v1h-1zM7 114h1v1h-1zM11 114h1v1h-1zM9 123h1v1h-1zM10 128h2v1h-2z"/>
<path fill="#66c0a7" d="M11 7h1v1h-1zM9 27h1v1h-1zM10 91h1v1h-1zM12 95h1v1h-1z"/>
<path fill="#6bc0a7" d="M14 7h1v1h-1zM7 8h1v1h-1zM10 8h1v1h-1zM14 8h1v1h-1zM13 9h1v1h-1zM6 10h1v1h-1zM9 11h1v1h-1zM11 11h3v1h-3zM9 12h1v1h-1zM11 14h1v1h-1zM10 15h1v1h-1zM14 18h1v1h-1zM11 20h1v1h-1zM7 24h1v1h-1zM10 24h1v1h-1zM13 82h1v1h-1zM12 83h1v1h-1zM13 84h2v1h-2zM9 86h1v1h-1zM11 87h1v1h-1zM11 88h1v1h-1zM11 89h1v1h-1zM14 89h1v1h-1zM11 92h1v1h-1zM12 93h1v1h-1zM9 96h1v1h-1zM8 98h4v1h-4zM10 99h1v1h-1zM13 99h1v1h-1zM8 101h3v1h-3zM13 101h1v1h-1zM11 108h1v1h-1zM12 114h1v1h-1zM9 128h1v1h-1z"/>
<path fill="#c0d448" d="M47 7h1v1h-1zM27 78h1v1h-1zM18 79h1v1h-1zM22 79h1v1h-1zM25 79h1v1h-1zM35 79h1v1h-1zM47 82h1v1h-1zM17 83h1v1h-1zM20 83h2v1h-2zM33 83h1v1h-1zM17 84h2v1h-2zM21 86h1v1h-1zM32 86h1v1h-1zM24 97h1v1h-1zM0 117h1v1h-1z"/>
<path fill="#61bbb1" d="M12 8h1v1h-1zM8 10h1v1h-1zM12 87h2v1h-2zM12 92h1v1h-1z"/>
<path fill="#7ac093" d="M5 10h1v1h-1zM12 13h1v1h-1zM14 15h1v1h-1zM6 18h1v1h-1zM9 22h1v1h-1zM11 23h1v1h-1zM15 26h1v1h-1zM13 27h1v1h-1zM9 31h1v1h-1zM10 32h1v1h-1zM11 34h1v1h-1zM14 34h1v1h-1zM14 35h1v1h-1zM14 38h1v1h-1zM8 39h1v1h-1zM8 41h1v1h-1zM8 42h1v1h-1zM9 47h1v1h-1zM12 47h2v1h-2zM13 50h1v1h-1zM14 51h1v1h-1zM14 53h1v1h-1zM15 58h1v1h-1zM14 61h1v1h-1zM7 82h1v1h-1zM15 82h1v1h-1zM8 86h1v1h-1zM6 93h1v1h-1zM8 100h1v1h-1zM11 103h1v1h-1zM13 103h1v1h-1zM9 106h1v1h-1zM6 110h1v1h-1zM14 110h1v1h-1zM9 113h1v1h-1zM7 116h1v1h-1zM10 125h2v1h-2zM13 125h1v1h-1zM10 133h1v1h-1z"/>
<path fill="#7ac089" d="M7 14h1v1h-1zM13 15h1v1h-1zM8 22h1v1h-1zM7 25h1v1h-1zM11 28h1v1h-1zM9 29h1v1h-1zM14 29h1v1h-1zM15 30h1v1h-1zM15 34h1v1h-1zM13 38h1v1h-1zM15 42h1v1h-1zM14 44h1v1h-1zM15 47h1v1h-1zM14 48h2v1h-2zM7 52h1v1h-1zM8 62h1v1h-1zM30 68h1v1h-1zM6 99h1v1h-1zM9 109h1v1h-1zM7 112h1v1h-1zM11 115h1v1h-1zM8 122h1v1h-1zM15 122h1v1h-1zM2 138h1v1h-1z"/>
<path fill="#70c0a2" d="M12 16h1v1h-1zM7 18h1v1h-1zM12 20h1v1h-1zM12 22h1v1h-1zM14 31h1v1h-1zM13 86h1v1h-1zM12 89h1v1h-1zM15 91h1v1h-1zM8 95h1v1h-1zM8 128h1v1h-1z"/>
<path fill="#bbd44d" d="M30 29h1v1h-1zM26 78h1v1h-1zM19 79h1v1h-1zM33 79h1v1h-1zM27 83h1v1h-1zM24 88h1v1h-1zM27 94h1v1h-1z"/>
<path fill="#2561a7" d="M7 78h1v1h-1z"/>
<path fill="#1b2f7a" d="M8 78h1v1h-1z"/>
<path fill="#202f66" d="M9 78h2v1h-2zM12 78h1v1h-1zM14 78h1v1h-1z"/>
<path fill="#202f6b" d="M11 78h1v1h-1z"/>
<path fill="#252f61" d="M13 78h1v1h-1z"/>
<path fill="#2a66ac" d="M15 78h1v1h-1z"/>
<path fill="#4dbbca" d="M16 78h1v1h-1z"/>
<path fill="#cad943" d="M19 78h1v1h-1zM34 79h1v1h-1zM37 82h1v1h-1zM49 82h1v1h-1zM25 83h1v1h-1z"/>
<path fill="#cfd943" d="M20 78h1v1h-1zM46 82h1v1h-1zM7 134h1v1h-1z"/>
<path fill="#c0d44d" d="M30 78h1v1h-1zM42 118h1v1h-1z"/>
<path fill="#204d98" d="M8 79h2v1h-2zM9 80h1v1h-1z"/>
<path fill="#d4d93e" d="M17 79h1v1h-1zM36 82h1v1h-1zM38 82h1v1h-1z"/>
<path fill="#cfd93e" d="M20 79h1v1h-1zM31 82h1v1h-1zM44 82h1v1h-1zM9 137h1v1h-1z"/>
<path fill="#2a7ac0" d="M7 80h1v1h-1z"/>
<path fill="#204898" d="M8 80h1v1h-1z"/>
<path fill="#1b4393" d="M8 81h1v1h-1z"/>
<path fill="#1b3e8e" d="M9 81h1v1h-1z"/>
<path fill="#2a6bb1" d="M10 81h1v1h-1z"/>
<path fill="#2aa7e3" d="M8 82h1v1h-1z"/>
<path fill="#d9de39" d="M17 82h1v1h-1zM40 82h2v1h-2zM6 139h1v1h-1z"/>
<path fill="#e3de39" d="M18 82h1v1h-1zM32 82h1v1h-1zM43 82h1v1h-1zM26 83h1v1h-1z"/>
<path fill="#e8e334" d="M19 82h1v1h-1zM33 82h1v1h-1zM42 82h1v1h-1z"/>
<path fill="#f7d42a" d="M20 82h1v1h-1zM34 82h1v1h-1z"/>
<path fill="#f28920" d="M21 82h1v1h-1zM8 138h1v1h-1z"/>
<path fill="#e85225" d="M22 82h1v1h-1z"/>
<path fill="#ed5c25" d="M23 82h1v1h-1z"/>
<path fill="#ed6b25" d="M24 82h1v1h-1z"/>
<path fill="#f2ac20" d="M25 82h1v1h-1zM10 138h1v1h-1z"/>
<path fill="#f2e32f" d="M26 82h1v1h-1zM7 137h1v1h-1zM13 138h1v1h-1z"/>
<path fill="#dede39" d="M27 82h1v1h-1zM6 132h1v1h-1zM7 136h1v1h-1z"/>
<path fill="#ede334" d="M28 82h1v1h-1zM14 138h1v1h-1z"/>
<path fill="#e3de34" d="M29 82h2v1h-2z"/>
<path fill="#f7cf25" d="M35 82h1v1h-1z"/>
<path fill="#cad443" d="M45 82h1v1h-1zM25 88h1v1h-1zM9 136h1v1h-1z"/>
<path fill="#c5d443" d="M19 84h1v1h-1z"/>
<path fill="#f2de2f" d="M8 136h1v1h-1z"/>
<path fill="#f7c525" d="M8 137h1v1h-1zM11 138h1v1h-1zM12 139h1v1h-1z"/>
<path fill="#f28420" d="M7 138h1v1h-1z"/>
<path fill="#f7b125" d="M9 138h1v1h-1z"/>
<path fill="#f2d92a" d="M12 138h1v1h-1zM14 139h1v1h-1z"/>
<path fill="#ed6125" d="M7 139h1v1h-1z"/>
<path fill="#e85725" d="M8 139h1v1h-1z"/>
<path fill="#f28e20" d="M9 139h1v1h-1z"/>
<path fill="#f2a220" d="M10 139h1v1h-1z"/>
<path fill="#f2b120" d="M11 139h1v1h-1z"/>
<path fill="#f7cf2a" d="M13 139h1v1h-1z"/>
</g>
<line x1="128.4" y1="317" x2="128.4" y2="531" stroke="#3a3a3a" stroke-width="1"/>
<path d="M54.4,317V531.3" fill="none" stroke="#333" stroke-width="1"/>
<path d="M54,531.4H291.1V528" fill="none" stroke="#000" stroke-width="1.4"/>
<rect x="54.5" y="531" width="54.3" height="3.8" fill="#000"/>
<line x1="49.3" y1="436.5" x2="54.4" y2="436.5" stroke="#111" stroke-width="1.2"/>
<text x="51.1" y="544.3" font-size="13" textLength="7.4" lengthAdjust="spacingAndGlyphs" >0</text>
<text x="115.6" y="544.3" font-size="13" textLength="21.2" lengthAdjust="spacingAndGlyphs" >500</text>
<text x="187.5" y="544.3" font-size="13" textLength="28" lengthAdjust="spacingAndGlyphs" >1000</text>
<text x="261.4" y="544.3" font-size="13" textLength="28.2" lengthAdjust="spacingAndGlyphs" >1500</text>
<text x="78.7" y="560.3" font-size="15" textLength="196" lengthAdjust="spacingAndGlyphs" >time from stimulus onset (ms)</text>
<text x="22.6" y="468.4" font-size="15" textLength="80.5" lengthAdjust="spacingAndGlyphs" transform="rotate(-90 22.6 468.4)" >LIP neurons</text>
<text x="43.8" y="402" font-size="13" textLength="59.9" lengthAdjust="spacingAndGlyphs" transform="rotate(-90 43.8 402)" >monkey M</text>
<text x="43.6" y="509.7" font-size="13" textLength="58.4" lengthAdjust="spacingAndGlyphs" transform="rotate(-90 43.6 509.7)" >monkey H</text>
<rect x="319.0" y="318.8" width="17.5" height="213.40000000000003" fill="url(#cb)" stroke="#333" stroke-width="0.8"/>
<line x1="336.5" y1="351.1" x2="334.3" y2="351.1" stroke="#333" stroke-width="1"/>
<text x="342.4" y="354.9" font-size="10.5" textLength="15.2" lengthAdjust="spacingAndGlyphs" >1.0</text>
<line x1="336.5" y1="388.4" x2="334.3" y2="388.4" stroke="#333" stroke-width="1"/>
<text x="342.8" y="392.2" font-size="10.5" textLength="14.8" lengthAdjust="spacingAndGlyphs" >0.5</text>
<line x1="336.5" y1="426.0" x2="334.3" y2="426.0" stroke="#333" stroke-width="1"/>
<text x="342.8" y="429.8" font-size="10.5" textLength="14.8" lengthAdjust="spacingAndGlyphs" >0.0</text>
<line x1="336.5" y1="463.4" x2="334.3" y2="463.4" stroke="#333" stroke-width="1"/>
<text x="339.1" y="467.2" font-size="10.5" textLength="18.4" lengthAdjust="spacingAndGlyphs" >-0.5</text>
<line x1="336.5" y1="500.9" x2="334.3" y2="500.9" stroke="#333" stroke-width="1"/>
<text x="339.1" y="504.7" font-size="10.5" textLength="18.4" lengthAdjust="spacingAndGlyphs" >-1.0</text>
<text x="312.6" y="480.9" font-size="13" textLength="112.5" lengthAdjust="spacingAndGlyphs" transform="rotate(-90 312.6 480.9)" >kernel weight (a.u.)</text>
<text x="386.1" y="308" font-size="14" textLength="8.6" lengthAdjust="spacingAndGlyphs" font-weight="bold" >c</text>
<rect x="442" y="317" width="50" height="213.5" fill="#e3e3e3"/>
<line x1="513.5" y1="320.4" x2="513.5" y2="530" stroke="#9a9a9a" stroke-width="1.8"/>
<line x1="442" y1="378.6" x2="675" y2="378.6" stroke="#222" stroke-width="1.2" stroke-dasharray="3.5,2.6"/>
<rect x="460.8" y="512.9" width="84.6" height="3.9" fill="#47b7b8"/>
<rect x="470.2" y="517.8" width="56.3" height="4.2" fill="#efe872"/>
<rect x="535.9" y="517.8" width="70.8" height="4.2" fill="#efe872"/>
<g clip-path="url(#clipC)">
<g opacity="0.95"><path d="M443.5,379 447,377.5 451.7,375.5 457.6,376.5 462.4,382.4 466.3,395.8 469.3,420.9 472.2,445.8 475.1,453.6 478.1,457.7 482.5,461.4 486.8,454.6 491.8,447.8 498,441.6 500,436.5 506.4,427.4 511.7,423.1 517,414.6 523.4,406.1 530.9,396.5 538.3,389.1 543.6,384.8 547.9,379.5 553.2,378.4 557.4,377.3 562.2,369.6 568.2,368.4 577.8,370.1 587.5,371.6 597.1,370.9 606.7,370.1 614,376.9 621.2,374.5 625,376.5 630.8,376.9 635.7,373.3 640,376 645.3,374.5 650,372 654.9,370.9 659,373 664.6,367.2 669,370 674.2,368.4 674.2,374.4 669,376 664.6,373.2 659,379 654.9,376.9 650,378 645.3,380.5 640,382 635.7,379.3 630.8,382.9 625,382.5 621.2,380.5 614,382.9 606.7,376.1 597.1,376.9 587.5,377.6 577.8,376.1 568.2,374.4 562.2,375.6 557.4,383.3 553.2,384.4 547.9,387.5 543.6,392.8 538.3,397.1 530.9,404.5 523.4,414.1 517,422.6 511.7,431.1 506.4,435.4 500,444.5 498,449.6 491.8,455.8 486.8,462.6 482.5,469.4 478.1,465.7 475.1,461.6 472.2,453.8 469.3,427.9 466.3,402.2 462.4,388.4 457.6,382.5 451.7,381.5 447,383.5 443.5,385Z" fill="#47b7b8"/><path d="M443.5,382 447,380.5 451.7,378.5 457.6,379.5 462.4,385.4 466.3,399 469.3,424.4 472.2,449.8 475.1,457.6 478.1,461.7 482.5,465.4 486.8,458.6 491.8,451.8 498,445.6 500,440.5 506.4,431.4 511.7,427.1 517,418.6 523.4,410.1 530.9,400.5 538.3,393.1 543.6,388.8 547.9,383.5 553.2,381.4 557.4,380.3 562.2,372.6 568.2,371.4 577.8,373.1 587.5,374.6 597.1,373.9 606.7,373.1 614,379.9 621.2,377.5 625,379.5 630.8,379.9 635.7,376.3 640,379 645.3,377.5 650,375 654.9,373.9 659,376 664.6,370.2 669,373 674.2,371.4" fill="none" stroke="#47b7b8" stroke-width="3.6" stroke-linejoin="round"/></g>
<g opacity="0.85"><path d="M443.5,375 448.8,375 453.7,383.3 458.5,366.7 463.2,378.7 467.5,387.5 470.2,418.9 473.5,445 477.5,464.4 481.9,461.1 486.8,472.3 491.2,459.9 496.1,459.8 500,452 503.5,435.5 507,422.7 509.6,415.7 514.9,404.8 520.2,395.2 525.5,387.8 529.8,375 534,359.1 539.4,345.2 543.6,338.8 547.9,328.2 552.1,335.4 557.4,332.2 562.2,328.7 567,332.5 571.8,339.7 576.6,341.7 582.7,345.8 589.9,350.6 594.7,354.2 601.9,360.2 606.7,366.4 611.6,374 615.2,376.7 619.5,374.5 623.6,372 629.6,375.7 633,373 636.9,368.4 641.7,374.5 650.1,373.3 657.3,371.6 664.6,371.6 674.2,374.5 674.2,380.5 664.6,377.6 657.3,377.6 650.1,379.3 641.7,380.5 636.9,374.4 633,379 629.6,381.7 623.6,378 619.5,380.5 615.2,383.1 611.6,381 606.7,374 601.9,368.2 594.7,362.2 589.9,358.6 582.7,353.8 576.6,349.7 571.8,347.7 567,340.5 562.2,337.1 557.4,341.2 552.1,344.4 547.9,338.8 543.6,349.4 539.4,355.8 534,369.7 529.8,385.6 525.5,398.4 520.2,405.8 514.9,415.4 509.6,426.3 507,433.3 503.5,446.5 500,466 496.1,484.8 491.2,485.9 486.8,503.3 481.9,497.1 477.5,502.4 473.5,465 470.2,429.9 467.5,397.5 463.2,386.3 458.5,374.3 453.7,390.3 448.8,382 443.5,382Z" fill="#f0e868"/><path d="M443.5,378.5 448.8,378.5 453.7,386.8 458.5,370.5 463.2,382.5 467.5,392.5 470.2,424.4 473.5,455 477.5,483.4 481.9,479.1 486.8,487.8 491.2,472.9 496.1,472.3 500,459 503.5,441 507,428 509.6,421 514.9,410.1 520.2,400.5 525.5,393.1 529.8,380.3 534,364.4 539.4,350.5 543.6,344.1 547.9,333.5 552.1,339.9 557.4,336.7 562.2,332.9 567,336.5 571.8,343.7 576.6,345.7 582.7,349.8 589.9,354.6 594.7,358.2 601.9,364.2 606.7,370.2 611.6,377.5 615.2,379.9 619.5,377.5 623.6,375 629.6,378.7 633,376 636.9,371.4 641.7,377.5 650.1,376.3 657.3,374.6 664.6,374.6 674.2,377.5" fill="none" stroke="#f0e868" stroke-width="4" stroke-linejoin="round"/></g>
<path d="M443.5,382 447,380.5 451.7,378.5 457.6,379.5 462.4,385.4 466.3,399 469.3,424.4 472.2,449.8 475.1,457.6 478.1,461.7 482.5,465.4 486.8,458.6 491.8,451.8 498,445.6 500,440.5 506.4,431.4 511.7,427.1 517,418.6 523.4,410.1 530.9,400.5 538.3,393.1 543.6,388.8 547.9,383.5 553.2,381.4 557.4,380.3 562.2,372.6 568.2,371.4 577.8,373.1 587.5,374.6 597.1,373.9 606.7,373.1 614,379.9 621.2,377.5 625,379.5 630.8,379.9 635.7,376.3 640,379 645.3,377.5 650,375 654.9,373.9 659,376 664.6,370.2 669,373 674.2,371.4" fill="none" stroke="#8a8a7a" stroke-width="0.8"/>
<path d="M443.5,378.5 448.8,378.5 453.7,386.8 458.5,370.5 463.2,382.5 467.5,392.5 470.2,424.4 473.5,455 477.5,483.4 481.9,479.1 486.8,487.8 491.2,472.9 496.1,472.3 500,459 503.5,441 507,428 509.6,421 514.9,410.1 520.2,400.5 525.5,393.1 529.8,380.3 534,364.4 539.4,350.5 543.6,344.1 547.9,333.5 552.1,339.9 557.4,336.7 562.2,332.9 567,336.5 571.8,343.7 576.6,345.7 582.7,349.8 589.9,354.6 594.7,358.2 601.9,364.2 606.7,370.2 611.6,377.5 615.2,379.9 619.5,377.5 623.6,375 629.6,378.7 633,376 636.9,371.4 641.7,377.5 650.1,376.3 657.3,374.6 664.6,374.6 674.2,377.5" fill="none" stroke="#8a8a70" stroke-width="0.8"/>
</g>
<path d="M441.1,316.9V530.4H675" fill="none" stroke="#000" stroke-width="1.9"/>
<line x1="442" y1="317.8" x2="443.8" y2="317.8" stroke="#000" stroke-width="1.8"/>
<line x1="442" y1="348.2" x2="443.8" y2="348.2" stroke="#000" stroke-width="1.8"/>
<line x1="442" y1="378.6" x2="443.8" y2="378.6" stroke="#000" stroke-width="1.8"/>
<line x1="442" y1="409.1" x2="443.8" y2="409.1" stroke="#000" stroke-width="1.8"/>
<line x1="442" y1="439.3" x2="443.8" y2="439.3" stroke="#000" stroke-width="1.8"/>
<line x1="442" y1="470.3" x2="443.8" y2="470.3" stroke="#000" stroke-width="1.8"/>
<line x1="442" y1="500.4" x2="443.8" y2="500.4" stroke="#000" stroke-width="1.8"/>
<line x1="518.0" y1="529.5" x2="518.0" y2="526.8" stroke="#000" stroke-width="1.8"/>
<line x1="596.3" y1="529.5" x2="596.3" y2="526.8" stroke="#000" stroke-width="1.8"/>
<line x1="674.6" y1="529.5" x2="674.6" y2="526.8" stroke="#000" stroke-width="1.8"/>
<text x="417.7" y="324.2" font-size="13" textLength="16.8" lengthAdjust="spacingAndGlyphs" >0.1</text>
<text x="428.4" y="382.2" font-size="13" textLength="7.6" lengthAdjust="spacingAndGlyphs" >0</text>
<text x="413.2" y="442.5" font-size="13" textLength="21.3" lengthAdjust="spacingAndGlyphs" >-0.1</text>
<text x="413.2" y="504.9" font-size="13" textLength="22.7" lengthAdjust="spacingAndGlyphs" >-0.2</text>
<text x="434.1" y="544.3" font-size="13" textLength="7.6" lengthAdjust="spacingAndGlyphs" >0</text>
<text x="504.3" y="544.3" font-size="13" textLength="22.2" lengthAdjust="spacingAndGlyphs" >500</text>
<text x="579.7" y="544.3" font-size="13" textLength="27.9" lengthAdjust="spacingAndGlyphs" >1000</text>
<text x="657.6" y="544.3" font-size="13" textLength="28" lengthAdjust="spacingAndGlyphs" >1500</text>
<text x="462.1" y="559.5" font-size="15" textLength="195" lengthAdjust="spacingAndGlyphs" >time from stimulus onset (ms)</text>
<text x="411.3" y="468.2" font-size="15" textLength="87.6" lengthAdjust="spacingAndGlyphs" transform="rotate(-90 411.3 468.2)" >kernel weight</text>
<text x="517.7" y="326.4" font-size="11" textLength="81.7" lengthAdjust="spacingAndGlyphs" >next shape onset</text>
<rect x="559.2" y="453.2" width="29.3" height="9.8" fill="#47b7b8" stroke="#7a7a7a" stroke-width="0.6"/>
<rect x="559.2" y="472.9" width="29.3" height="10" fill="#f0e96e" stroke="#7a7a7a" stroke-width="0.6"/>
<text x="594.6" y="461.7" font-size="12.5" textLength="59.3" lengthAdjust="spacingAndGlyphs" fill="#333" >monkey M</text>
<text x="594.6" y="481.4" font-size="12.5" textLength="58.5" lengthAdjust="spacingAndGlyphs" fill="#333" >monkey H</text>
</svg>
</body></html>
